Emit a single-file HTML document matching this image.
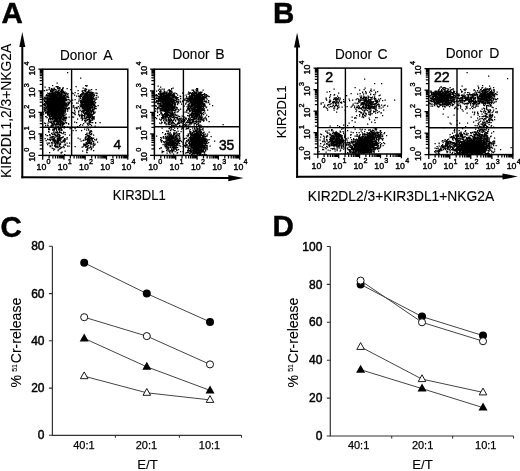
<!DOCTYPE html><html><head><meta charset="utf-8"><style>text{stroke:#000;stroke-width:0.45px}text.big{stroke-width:0.12px}text.num{stroke-width:0.5px}text.tk{stroke-width:0.38px}text.cat{stroke-width:0.25px}html,body{margin:0;padding:0;background:#fff;width:520px;height:471px;overflow:hidden;position:relative}</style></head><body><svg width="520" height="471" viewBox="0 0 520 471" style="position:absolute;left:0;top:0;filter:grayscale(1) blur(0.3px)">
<g font-family='"Liberation Sans", sans-serif' stroke-width="0">
<text x="1.5" y="23.2" font-size="29.5" text-anchor="start" font-weight="bold" fill="#000" >A</text>
<text x="273" y="23" font-size="29.5" text-anchor="start" font-weight="bold" fill="#000" >B</text>
<text x="0.5" y="236.5" font-size="29.5" text-anchor="start" font-weight="bold" fill="#000" >C</text>
<text x="272.5" y="235.8" font-size="29.5" text-anchor="start" font-weight="bold" fill="#000" >D</text>
<line x1="22.3" y1="44" x2="22.3" y2="178.3" stroke="#000" stroke-width="2"/>
<line x1="21.3" y1="177.3" x2="231.6" y2="178.1" stroke="#000" stroke-width="2"/>
<path d="M22.3 32L25.3 47L19.3 47Z" fill="#000"/>
<path d="M243.6 178.1L228.29999999999998 175.0L228.29999999999998 181.2Z" fill="#000"/>
<line x1="297.1" y1="44.5" x2="297.1" y2="177.8" stroke="#000" stroke-width="2"/>
<line x1="296.1" y1="176.8" x2="505.79999999999995" y2="176.5" stroke="#000" stroke-width="2"/>
<path d="M297.1 32.5L300.1 47.5L294.1 47.5Z" fill="#000"/>
<path d="M517.8 176.5L502.49999999999994 173.4L502.49999999999994 179.6Z" fill="#000"/>
<text x="60.0" y="59.8" font-size="14" text-anchor="start" font-weight="normal" fill="#000" textLength="37" lengthAdjust="spacingAndGlyphs" class="big">Donor</text>
<text x="103.2" y="59.8" font-size="14" text-anchor="start" font-weight="normal" fill="#000" class="big">A</text>
<text x="172.5" y="58.9" font-size="14" text-anchor="start" font-weight="normal" fill="#000" textLength="37" lengthAdjust="spacingAndGlyphs" class="big">Donor</text>
<text x="215.2" y="58.9" font-size="14" text-anchor="start" font-weight="normal" fill="#000" class="big">B</text>
<text x="335.0" y="58.8" font-size="14" text-anchor="start" font-weight="normal" fill="#000" textLength="37" lengthAdjust="spacingAndGlyphs" class="big">Donor</text>
<text x="377.5" y="58.8" font-size="14" text-anchor="start" font-weight="normal" fill="#000" class="big">C</text>
<text x="445.7" y="58.3" font-size="14" text-anchor="start" font-weight="normal" fill="#000" textLength="37" lengthAdjust="spacingAndGlyphs" class="big">Donor</text>
<text x="489.2" y="58.3" font-size="14" text-anchor="start" font-weight="normal" fill="#000" class="big">D</text>
<text x="112.8" y="200.2" font-size="13.8" text-anchor="start" font-weight="normal" fill="#000" class="big" textLength="53" lengthAdjust="spacingAndGlyphs">KIR3DL1</text>
<text x="307.7" y="201" font-size="13.8" text-anchor="start" font-weight="normal" fill="#000" class="big" textLength="186.4" lengthAdjust="spacingAndGlyphs">KIR2DL2/3+KIR3DL1+NKG2A</text>
<text class="big" transform="translate(11.3,178) rotate(-90)" font-size="14.1" textLength="134.3" lengthAdjust="spacingAndGlyphs">KIR2DL1,2/3+NKG2A</text>
<text class="big" transform="translate(285.6,138.2) rotate(-90)" font-size="13.6" textLength="52.6" lengthAdjust="spacingAndGlyphs">KIR2DL1</text>
<path d="M48.5 110.5h1.25M51 101.5h1.25M55 98.5h1.25M48.5 107h1.25M57.5 91.5h1.25M67 109h1.25M51.5 108.5h1.25M53 102.5h1.25M59.5 95.5h1.25M58.5 111.5h1.25M62 101h1.25M60 93.5h1.25M54.5 105.5h1.25M49 102.5h1.25M64 118.5h1.25M59.5 108h1.25M50.5 95.5h1.25M48.5 106h1.25M59.5 99h1.25M49.5 104.5h1.25M57 102h1.25M62 102.5h1.25M55 96.5h1.25M56 111h1.25M56 103.5h1.25M57.5 104.5h1.25M58 106h1.25M58.5 98h1.25M57 93.5h1.25M57 95.5h1.25M55 106h1.25M53.5 103.5h1.25M47.5 98h1.25M59 96h1.25M59 94.5h1.25M51 96.5h1.25M55.5 106h1.25M50 102h1.25M63.5 101h1.25M51.5 105.5h1.25M54.5 99h1.25M46.5 108h1.25M52.5 103h1.25M50 111h1.25M59 109h1.25M55 106h1.25M60 109h1.25M57 102.5h1.25M53.5 98.5h1.25M50.5 105h1.25M54.5 91h1.25M54.5 109.5h1.25M54 92h1.25M55 107.5h1.25M56.5 100.5h1.25M64.5 114.5h1.25M55 108h1.25M57.5 107.5h1.25M63 108h1.25M56 99h1.25M51.5 103h1.25M61.5 105h1.25M56 104.5h1.25M55.5 106.5h1.25M50 91h1.25M53.5 96h1.25M63.5 102h1.25M54 94h1.25M57 99.5h1.25M61 108h1.25M51.5 105.5h1.25M61.5 107.5h1.25M56.5 103h1.25M48.5 95h1.25M56.5 113.5h1.25M44.5 107h1.25M58.5 108.5h1.25M51 100h1.25M55.5 97h1.25M49.5 97.5h1.25M55 105h1.25M55.5 103.5h1.25M52 98.5h1.25M61 102.5h1.25M55 108.5h1.25M61.5 110.5h1.25M57.5 102.5h1.25M57 104h1.25M62.5 105h1.25M58.5 103h1.25M62.5 90.5h1.25M57.5 107.5h1.25M49.5 116h1.25M54.5 102h1.25M50 108.5h1.25M56.5 99.5h1.25M56.5 107h1.25M61.5 104.5h1.25M50.5 99.5h1.25M44 98.5h1.25M59 106h1.25M55 101h1.25M63.5 104.5h1.25M60 105.5h1.25M52 112.5h1.25M49.5 96h1.25M53.5 98.5h1.25M52.5 99.5h1.25M60.5 103.5h1.25M57.5 93.5h1.25M51.5 109.5h1.25M49.5 110h1.25M50.5 105h1.25M51.5 104h1.25M51 101.5h1.25M64 100.5h1.25M65.5 100h1.25M49.5 103.5h1.25M53.5 113.5h1.25M60 110h1.25M58.5 118h1.25M59.5 106h1.25M51.5 97.5h1.25M56.5 109h1.25M61 97.5h1.25M58 104h1.25M50 106h1.25M44 104.5h1.25M68 97h1.25M55.5 91.5h1.25M51.5 107.5h1.25M50.5 103h1.25M53.5 100.5h1.25M56.5 106h1.25M61.5 108h1.25M52.5 111.5h1.25M61.5 93.5h1.25M59 108h1.25M60.5 106.5h1.25M49 101.5h1.25M45 102h1.25M65.5 107h1.25M59.5 100h1.25M50.5 96.5h1.25M56 98h1.25M52.5 110h1.25M47.5 95h1.25M53 102.5h1.25M55 94.5h1.25M56.5 102h1.25M57.5 96.5h1.25M56.5 104.5h1.25M52 101.5h1.25M52.5 111h1.25M47 100.5h1.25M52 100.5h1.25M59 93h1.25M51.5 101.5h1.25M49.5 105h1.25M57 98.5h1.25M46.5 112.5h1.25M58 105.5h1.25M56 103h1.25M59.5 103h1.25M52.5 107.5h1.25M56 98.5h1.25M51 110h1.25M58.5 115h1.25M53 98.5h1.25M57.5 111.5h1.25M58.5 105.5h1.25M65 98.5h1.25M49.5 98.5h1.25M54 105h1.25M60.5 105.5h1.25M63 98h1.25M65 98h1.25M61.5 97.5h1.25M57 103.5h1.25M58 107.5h1.25M54.5 102.5h1.25M56.5 95h1.25M52 93.5h1.25M55.5 116.5h1.25M59 98h1.25M52 109h1.25M53 93.5h1.25M50.5 96.5h1.25M50.5 107h1.25M56 94h1.25M53 96h1.25M49.5 94h1.25M64 101h1.25M58.5 108h1.25M53.5 106h1.25M58 104.5h1.25M66.5 104.5h1.25M54.5 107h1.25M64.5 109h1.25M53 98h1.25M51 99h1.25M57.5 108h1.25M44 103h1.25M50 107h1.25M60 98.5h1.25M53.5 97.5h1.25M57.5 93.5h1.25M50 99h1.25M61.5 117.5h1.25M55.5 95.5h1.25M56 98h1.25M58 96.5h1.25M53.5 103h1.25M58 102.5h1.25M62 103.5h1.25M46.5 108.5h1.25M54 99h1.25M63 97h1.25M56 98.5h1.25M62.5 101h1.25M56.5 94.5h1.25M62.5 96.5h1.25M60 109.5h1.25M61.5 114h1.25M49.5 105.5h1.25M56 105.5h1.25M61 103.5h1.25M51.5 102.5h1.25M63 96h1.25M56 97h1.25M61 93h1.25M54 102.5h1.25M56 117h1.25M63.5 97h1.25M66.5 96h1.25M46 94h1.25M56.5 106h1.25M44.5 105.5h1.25M54 107h1.25M53.5 108.5h1.25M58.5 96h1.25M62.5 104.5h1.25M59 110.5h1.25M50.5 102.5h1.25M51.5 97.5h1.25M57 105h1.25M62 111.5h1.25M55.5 98h1.25M71.5 116h1.25M55 97.5h1.25M53.5 104.5h1.25M61 109h1.25M57.5 101.5h1.25M56.5 101h1.25M56 102.5h1.25M58 91.5h1.25M54 101.5h1.25M50 102h1.25M50 99h1.25M54 101.5h1.25M52.5 109.5h1.25M56.5 105h1.25M56.5 99h1.25M51 108h1.25M53.5 92.5h1.25M44.5 104.5h1.25M52 102.5h1.25M53 100.5h1.25M54.5 95.5h1.25M55.5 109h1.25M59 92.5h1.25M49 95h1.25M54.5 108h1.25M57 92.5h1.25M56 108h1.25M53.5 114.5h1.25M52 110h1.25M67.5 95.5h1.25M54 106.5h1.25M71.5 92.5h1.25M58.5 104.5h1.25M53.5 98h1.25M53 101h1.25M49 112.5h1.25M50 100.5h1.25M52 100.5h1.25M56 98.5h1.25M54.5 113.5h1.25M61 101.5h1.25M60 98.5h1.25M56.5 94.5h1.25M50 98h1.25M61.5 104.5h1.25M58 104h1.25M57.5 105.5h1.25M59.5 104h1.25M51 98.5h1.25M61.5 111.5h1.25M58.5 93h1.25M63.5 105h1.25M55 103h1.25M53.5 113.5h1.25M64 96.5h1.25M54.5 105h1.25M62 88.5h1.25M60 113h1.25M54 102.5h1.25M61.5 105h1.25M49 96h1.25M50.5 94.5h1.25M55.5 100h1.25M55.5 107h1.25M64.5 104h1.25M46 111.5h1.25M55 110h1.25M53 104.5h1.25M54.5 102.5h1.25M62 99h1.25M56 104h1.25M53.5 89.5h1.25M57 86h1.25M48 100h1.25M57.5 108h1.25M59.5 106.5h1.25M53.5 110h1.25M54 109.5h1.25M44 97h1.25M52.5 103h1.25M43.5 108h1.25M60.5 107.5h1.25M53 111.5h1.25M52.5 108.5h1.25M55 103h1.25M54.5 103h1.25M61 111.5h1.25M62.5 108.5h1.25M59 105.5h1.25M64 100.5h1.25M52.5 103h1.25M47 101.5h1.25M55 96.5h1.25M52.5 107h1.25M54.5 103.5h1.25M60.5 99h1.25M49.5 102.5h1.25M57.5 92h1.25M58.5 101h1.25M53.5 97.5h1.25M54.5 108.5h1.25M58 108h1.25M53.5 112.5h1.25M62 103h1.25M69 102.5h1.25M50.5 113h1.25M52.5 106h1.25M59.5 94h1.25M56 110h1.25M54 107h1.25M55.5 109h1.25M64.5 96.5h1.25M54 105.5h1.25M52.5 98h1.25M54 101.5h1.25M52 105h1.25M59.5 107.5h1.25M59 110h1.25M48.5 102.5h1.25M56.5 106h1.25M47.5 114.5h1.25M51 104.5h1.25M59 109.5h1.25M52 99.5h1.25M57.5 106.5h1.25M60 102.5h1.25M52 95h1.25M64 95h1.25M59 104.5h1.25M59.5 108.5h1.25M62.5 102.5h1.25M57.5 91.5h1.25M55.5 97.5h1.25M54.5 110.5h1.25M56 109.5h1.25M54.5 105.5h1.25M53.5 88h1.25M52 101.5h1.25M56.5 103h1.25M55 108.5h1.25M58.5 100.5h1.25M60 91h1.25M54 102h1.25M62 100h1.25M48 104h1.25M64 102h1.25M55 102h1.25M56 111h1.25M65.5 106h1.25M55 114h1.25M56 103.5h1.25M54 101h1.25M57 101.5h1.25M57.5 103.5h1.25M58.5 101h1.25M54.5 104.5h1.25M56 103.5h1.25M61.5 96.5h1.25M46 107.5h1.25M54.5 111h1.25M55 96h1.25M66.5 105.5h1.25M53.5 98.5h1.25M58.5 99h1.25M57.5 110h1.25M48.5 101h1.25M58 113h1.25M60 100.5h1.25M63 101h1.25M54.5 105.5h1.25M50 121.5h1.25M61.5 104.5h1.25M52.5 96h1.25M57.5 107h1.25M53.5 102h1.25M58.5 102.5h1.25M46.5 107h1.25M57 107.5h1.25M52 90.5h1.25M49.5 105h1.25M66 117h1.25M57 94.5h1.25M54 105.5h1.25M57.5 103.5h1.25M62 97.5h1.25M44.5 98h1.25M49.5 116.5h1.25M54.5 94.5h1.25M58.5 109h1.25M56 104h1.25M60.5 106h1.25M52 106.5h1.25M60 105h1.25M60 106.5h1.25M54.5 102h1.25M58.5 99.5h1.25M61.5 110.5h1.25M45.5 102.5h1.25M52 99h1.25M56 102h1.25M58.5 105h1.25M57.5 98.5h1.25M54 112h1.25M43 113.5h1.25M52.5 110h1.25M59.5 104h1.25M60.5 98h1.25M52.5 99h1.25M58 106h1.25M55 101.5h1.25M54 103.5h1.25M51 102.5h1.25M55 100h1.25M52.5 112h1.25M52.5 105.5h1.25M62.5 107.5h1.25M55.5 109h1.25M48.5 95.5h1.25M53.5 101.5h1.25M55 114.5h1.25M64 103h1.25M57 97.5h1.25M57 95h1.25M62.5 100h1.25M58.5 95h1.25M62.5 106.5h1.25M65.5 103.5h1.25M47.5 98.5h1.25M49 112.5h1.25M52.5 98.5h1.25M58.5 104.5h1.25M58 100h1.25M45.5 95h1.25M44.5 110.5h1.25M60 101h1.25M58.5 107h1.25M58.5 106h1.25M60 103.5h1.25M44.5 86.5h1.25M62 106.5h1.25M43 104h1.25M51 99.5h1.25M55 108h1.25M61 110.5h1.25M64 105h1.25M56.5 99h1.25M58 101.5h1.25M49.5 110h1.25M59 87h1.25M46 101.5h1.25M49 110.5h1.25M56.5 106.5h1.25M60.5 111h1.25M54 107h1.25M57 108h1.25M58.5 111.5h1.25M58.5 100h1.25M56 96h1.25M57 112h1.25M52.5 93h1.25M55 100h1.25M55.5 99.5h1.25M56 97h1.25M63.5 101.5h1.25M58 107.5h1.25M55 106h1.25M54.5 100.5h1.25M54.5 106h1.25M49 97.5h1.25M51.5 99.5h1.25M61.5 103h1.25M54 104h1.25M61 98.5h1.25M61 89h1.25M51 112h1.25M63.5 104.5h1.25M53.5 108h1.25M53.5 112.5h1.25M61.5 108h1.25M51.5 109h1.25M54.5 102h1.25M53.5 102.5h1.25M58 108.5h1.25M60 124h1.25M54 110.5h1.25M52.5 102h1.25M50 110.5h1.25M57 104h1.25M55 109h1.25M53.5 106h1.25M68.5 102.5h1.25M52.5 97.5h1.25M60 104h1.25M52 98.5h1.25M56 97.5h1.25M66.5 102.5h1.25M55 103h1.25M47 94.5h1.25M54 103.5h1.25M49.5 113.5h1.25M58 111.5h1.25M62 102h1.25M68 104h1.25M46.5 89.5h1.25M56 109h1.25M56.5 114h1.25M54.5 107h1.25M59.5 97.5h1.25M57.5 105.5h1.25M61.5 111h1.25M61 99h1.25M59.5 110h1.25M56 108h1.25M60 110.5h1.25M56.5 106.5h1.25M57 104h1.25M53 101.5h1.25M50.5 102.5h1.25M59.5 107h1.25M59.5 103h1.25M63 100.5h1.25M59.5 106h1.25M52 99h1.25M59.5 103.5h1.25M57 122h1.25M58.5 104h1.25M59.5 100h1.25M55 106h1.25M52 103.5h1.25M55 104h1.25M47 114h1.25M55.5 107h1.25M50.5 95.5h1.25M56 101.5h1.25M59 98h1.25M51 105.5h1.25M59.5 109h1.25M55.5 105h1.25M52 111.5h1.25M61.5 110h1.25M48 108.5h1.25M52 106.5h1.25M58 111h1.25M55 101.5h1.25M51 96.5h1.25M58.5 98h1.25M59 101h1.25M53 109h1.25M60 97.5h1.25M55 103.5h1.25M59 99h1.25M53.5 102.5h1.25M59 108.5h1.25M53 114h1.25M58 98.5h1.25M48 100.5h1.25M44 104.5h1.25M58.5 111h1.25M58 93h1.25M54.5 107.5h1.25M45 98.5h1.25M59 103.5h1.25M45.5 100.5h1.25M56 115.5h1.25M53.5 98h1.25M57 105.5h1.25M58.5 112h1.25M55.5 95h1.25M56 103.5h1.25M60.5 108.5h1.25M52 108h1.25M61 102h1.25M60.5 104.5h1.25M56.5 102.5h1.25M60 120.5h1.25M57 96.5h1.25M54.5 100h1.25M57.5 102.5h1.25M68.5 108h1.25M65 99h1.25M54.5 115.5h1.25M47.5 104h1.25M48 112.5h1.25M48.5 101.5h1.25M55 93h1.25M68 102.5h1.25M64 99h1.25M48.5 104.5h1.25M56.5 121h1.25M50.5 94h1.25M52 105h1.25M58.5 99h1.25M54 106.5h1.25M61 99.5h1.25M56.5 86.5h1.25M51 106h1.25M55.5 102h1.25M64 101.5h1.25M50 104.5h1.25M56.5 96.5h1.25M60.5 113.5h1.25M52.5 98h1.25M55.5 110.5h1.25M53 99h1.25M52.5 104.5h1.25M57 102h1.25M61.5 116.5h1.25M53 109.5h1.25M57 121h1.25M51.5 101h1.25M56 94.5h1.25M54.5 107.5h1.25M48.5 104h1.25M64.5 99.5h1.25M51 88h1.25M55 93.5h1.25M58.5 113h1.25M58.5 98.5h1.25M59 100.5h1.25M50 100h1.25M57 101h1.25M58.5 116h1.25M59 108h1.25M52.5 111h1.25M57.5 109.5h1.25M52 104.5h1.25M44 101h1.25M51.5 97h1.25M64.5 94h1.25M55 102.5h1.25M58.5 109h1.25M47.5 100h1.25M52 107.5h1.25M60.5 100.5h1.25M53 97h1.25M57.5 113h1.25M57.5 99h1.25M51.5 99h1.25M47.5 113.5h1.25M56 101h1.25M67 104.5h1.25M63 104.5h1.25M61 103.5h1.25M53.5 105.5h1.25M59 109.5h1.25M56.5 101.5h1.25M53.5 105h1.25M53 101h1.25M58.5 106.5h1.25M58 98.5h1.25M48.5 104.5h1.25M56 101h1.25M56.5 108h1.25M54.5 105.5h1.25M50.5 101.5h1.25M51.5 94.5h1.25M57.5 86h1.25M55 107.5h1.25M57.5 93.5h1.25M56.5 92h1.25M51 111.5h1.25M56.5 110h1.25M50 90.5h1.25M52 110.5h1.25M60 109.5h1.25M55 102.5h1.25M54.5 120.5h1.25M56 113.5h1.25M54.5 111.5h1.25M50 100h1.25M57.5 99.5h1.25M53.5 102h1.25M53 112.5h1.25M61 94.5h1.25M64 103h1.25M55.5 102h1.25M60 107.5h1.25M53 103.5h1.25M49 114.5h1.25M51.5 98h1.25M52 104h1.25M59.5 101h1.25M56 101h1.25M62 104.5h1.25M47 112h1.25M57.5 115h1.25M52.5 100h1.25M55 94.5h1.25M54 110.5h1.25M59 88.5h1.25M62 105.5h1.25M60 103.5h1.25M56.5 103.5h1.25M56 97h1.25M61 104.5h1.25M57.5 105.5h1.25M54 103h1.25M49 105h1.25M57 102h1.25M47 111h1.25M55 103h1.25M54 99.5h1.25M53.5 96.5h1.25M53 115.5h1.25M61.5 115h1.25M52.5 92h1.25M49 87.5h1.25M61 110.5h1.25M56 105.5h1.25M57.5 102.5h1.25M59.5 97h1.25M53.5 102.5h1.25M47 97h1.25M58 105.5h1.25M43.5 108.5h1.25M57.5 108h1.25M55.5 106.5h1.25M49 102h1.25M50.5 100h1.25M61.5 113h1.25M56 100.5h1.25M59.5 106h1.25M65.5 107h1.25M44 103.5h1.25M54 98.5h1.25M56.5 103.5h1.25M54 112.5h1.25M57.5 105.5h1.25M56.5 110.5h1.25M50 110.5h1.25M54.5 112h1.25M63 106h1.25M53.5 105h1.25M57.5 94.5h1.25M54 99h1.25M62.5 113.5h1.25M52 100h1.25M49 105h1.25M59.5 114h1.25M49.5 109h1.25M55 99h1.25M54 98.5h1.25M58 103h1.25M61.5 100h1.25M46.5 97.5h1.25M57.5 94.5h1.25M52 106.5h1.25M49 108h1.25M57.5 99.5h1.25M55.5 100h1.25M53.5 101h1.25M55.5 102.5h1.25M52 97.5h1.25M66 96.5h1.25M55 110.5h1.25M60.5 99h1.25M65.5 113.5h1.25M54 95.5h1.25M59 102h1.25M54 98.5h1.25M52.5 104h1.25M60 91h1.25M44 109h1.25M51.5 107.5h1.25M56 110.5h1.25M60 101.5h1.25M55 105h1.25M59.5 99.5h1.25M48 104h1.25M55.5 102h1.25M50.5 107h1.25M47 100h1.25M62 96.5h1.25M57.5 106h1.25M58 93h1.25M60.5 104h1.25M58 105h1.25M56 110.5h1.25M63 92h1.25M52 102h1.25M45 112h1.25M52 106.5h1.25M56.5 102h1.25M50.5 101h1.25M56 108h1.25M54.5 101h1.25M54.5 111h1.25M57 99h1.25M49.5 101h1.25M51 100.5h1.25M62.5 107.5h1.25M57 105.5h1.25M64.5 96.5h1.25M58 102h1.25M56.5 103.5h1.25M54 106.5h1.25M45 105h1.25M59 97.5h1.25M51 114.5h1.25M51 101h1.25M52 99.5h1.25M52.5 90.5h1.25M67.5 99h1.25M57.5 102.5h1.25M62.5 107.5h1.25M61.5 110h1.25M60 103.5h1.25M60 93.5h1.25M60 107.5h1.25M57 95h1.25M62.5 99h1.25M59 92h1.25M55 99.5h1.25M52 99h1.25M64.5 103h1.25M57.5 116h1.25M48.5 112.5h1.25M54 99.5h1.25M53.5 92.5h1.25M48 96.5h1.25M53 107.5h1.25M61 101h1.25M57.5 105.5h1.25M54.5 104.5h1.25M52.5 106.5h1.25M54.5 103.5h1.25M57 104h1.25M52 95h1.25M55.5 99.5h1.25M53 102.5h1.25M52 106h1.25M57.5 98h1.25M57.5 97.5h1.25M59 107h1.25M55.5 108.5h1.25M60.5 106h1.25M46.5 104h1.25M56.5 108h1.25M50.5 107.5h1.25M57.5 105.5h1.25M49.5 98h1.25M61 108h1.25M55 109.5h1.25M57 100.5h1.25M47.5 109h1.25M55 104.5h1.25M46.5 100h1.25M57 101.5h1.25M52 96.5h1.25M56.5 101h1.25M54 101.5h1.25M52.5 101h1.25M52.5 103h1.25M48.5 96.5h1.25M55.5 102h1.25M56.5 115h1.25M59 109.5h1.25M57.5 102.5h1.25M51.5 92h1.25M48.5 89h1.25M50 93.5h1.25M50.5 103h1.25M53.5 108h1.25M60 109h1.25M59.5 104.5h1.25M53 105.5h1.25M54 102h1.25M57.5 96.5h1.25M47.5 105h1.25M64.5 109.5h1.25M74 94.5h1.25M52.5 89.5h1.25M51 114h1.25M63.5 97h1.25M54 98h1.25M49 101.5h1.25M54 103.5h1.25M57 107h1.25M62.5 102.5h1.25M54.5 103h1.25M57.5 102h1.25M50.5 100h1.25M59 97h1.25M59.5 94.5h1.25M58.5 106.5h1.25M54.5 103h1.25M54.5 113h1.25M53.5 98.5h1.25M57.5 109.5h1.25M57 102h1.25M60.5 98.5h1.25M51.5 95.5h1.25M61.5 90h1.25M49 104.5h1.25M57.5 113.5h1.25M57.5 100h1.25M62.5 109.5h1.25M61 109.5h1.25M58 94.5h1.25M50.5 114.5h1.25M55.5 92h1.25M56 108.5h1.25M57.5 103h1.25M44 103.5h1.25M55 113h1.25M55.5 102.5h1.25M53.5 102h1.25M57 100h1.25M51 95.5h1.25M56 101h1.25M54 94h1.25M51.5 91.5h1.25M60 110h1.25M57.5 102.5h1.25M57.5 94h1.25M49 110h1.25M50.5 102.5h1.25M52 88.5h1.25M52 108h1.25M62 88h1.25M47.5 99.5h1.25M60.5 110h1.25M63.5 113h1.25M53.5 97h1.25M60 101.5h1.25M55.5 101h1.25M53.5 108.5h1.25M50.5 92.5h1.25M52 103.5h1.25M54 102h1.25M45.5 97.5h1.25M60.5 102h1.25M52 109.5h1.25M52.5 107.5h1.25M56.5 105h1.25M60.5 116h1.25M61.5 97.5h1.25M50 101h1.25M54.5 107h1.25M55.5 104h1.25M47 102.5h1.25M58 113h1.25M59 103.5h1.25M49.5 102.5h1.25M55.5 102h1.25M56 105.5h1.25M57.5 116h1.25M50.5 93.5h1.25M57 95.5h1.25M54 102h1.25M51 107.5h1.25M58.5 103.5h1.25M58 108h1.25M53.5 106h1.25M56 102.5h1.25M53 113h1.25M57 94h1.25M57.5 87.5h1.25M56.5 107h1.25M62.5 104h1.25M51.5 114h1.25M60.5 110.5h1.25M54 106.5h1.25M46.5 105.5h1.25M44.5 96.5h1.25M48 109.5h1.25M60 99h1.25M61.5 103h1.25M45.5 100.5h1.25M46.5 103h1.25M57 98h1.25M59 109h1.25M50.5 106h1.25M54.5 101h1.25M63.5 98.5h1.25M53.5 102h1.25M58 107h1.25M50.5 111h1.25M64.5 114.5h1.25M56 99.5h1.25M50 104.5h1.25M55 102.5h1.25M52 89.5h1.25M54 101.5h1.25M53.5 94h1.25M54 102h1.25M49.5 106.5h1.25M55 103.5h1.25M57 101h1.25M55 106h1.25M59 108h1.25M54.5 107.5h1.25M61 94.5h1.25M53 102.5h1.25M55.5 113.5h1.25M61 102h1.25M54.5 94.5h1.25M50.5 111h1.25M46.5 106.5h1.25M52 101h1.25M55 114h1.25M57 106h1.25M60.5 89.5h1.25M64.5 93h1.25M52 107h1.25M49 92.5h1.25M61 101h1.25M60 106h1.25M54.5 113h1.25M54 115h1.25M51 97h1.25M52 104.5h1.25M50 98.5h1.25M62.5 104h1.25M61.5 105h1.25M52.5 98.5h1.25M56.5 103.5h1.25M53 99.5h1.25M63 109.5h1.25M57 101h1.25M53.5 115h1.25M52.5 117h1.25M52 94h1.25M65.5 102.5h1.25M63 105.5h1.25M54.5 108.5h1.25M54 105.5h1.25M55 92.5h1.25M57.5 100h1.25M55 105.5h1.25M48.5 106h1.25M58.5 114.5h1.25M59.5 105h1.25M52.5 103h1.25M48.5 105.5h1.25M54.5 101h1.25M55.5 105.5h1.25M56.5 96h1.25M62 103h1.25M57 103h1.25M50.5 104.5h1.25M53.5 98h1.25M56 107.5h1.25M58.5 104h1.25M52.5 101h1.25M54.5 94.5h1.25M59.5 103.5h1.25M49 111.5h1.25M65 95h1.25M54.5 98h1.25M59 94.5h1.25M58 105h1.25M61 91.5h1.25M51.5 101.5h1.25M60 103.5h1.25M59 105.5h1.25M51 102h1.25M53.5 101h1.25M51 107.5h1.25M57 91.5h1.25M59 99.5h1.25M48 110h1.25M55 105h1.25M54.5 102.5h1.25M46.5 107.5h1.25M51.5 103h1.25M55 97h1.25M49 102h1.25M61.5 99h1.25M52.5 103.5h1.25M52.5 110.5h1.25M57.5 117.5h1.25M56.5 116h1.25M52.5 104h1.25M50 100.5h1.25M54 106.5h1.25M62 101.5h1.25M48.5 103h1.25M54.5 100h1.25M59.5 109.5h1.25M52 99h1.25M59.5 97.5h1.25M60 107h1.25M58.5 107h1.25M55 109.5h1.25M61 105.5h1.25M55.5 111h1.25M63 99.5h1.25M60 103.5h1.25M67.5 101.5h1.25M52.5 98h1.25M60.5 97h1.25M59 100h1.25M62.5 112.5h1.25M61.5 91.5h1.25M48.5 87h1.25M69 99.5h1.25M53.5 103.5h1.25M58.5 101.5h1.25M56 103h1.25M49 114h1.25M64.5 103.5h1.25M55 114.5h1.25M68 103.5h1.25M59 101h1.25M57.5 88h1.25M44.5 106h1.25M55 105.5h1.25M56 107h1.25M57 102.5h1.25M58 99.5h1.25M63 97.5h1.25M54 109h1.25M54 109h1.25M63 108h1.25M53.5 115h1.25M58 97.5h1.25M66 104.5h1.25M59 109h1.25M53.5 109h1.25M50 97.5h1.25M54 116.5h1.25M59 110.5h1.25M54 107h1.25M45.5 102h1.25M58 100h1.25M46 94h1.25M59 111.5h1.25M54 113h1.25M49.5 107.5h1.25M57.5 110h1.25M48.5 109.5h1.25M56.5 98.5h1.25M53.5 102h1.25M57.5 98.5h1.25M51.5 104h1.25M55.5 106.5h1.25M60.5 92h1.25M55.5 104.5h1.25M56 97h1.25M59.5 113.5h1.25M55 98.5h1.25M59.5 103.5h1.25M56 104.5h1.25M53.5 103h1.25M52 91.5h1.25M61 105h1.25M55 111h1.25M55 110h1.25M59.5 101.5h1.25M49.5 106h1.25M56.5 109h1.25M48 102.5h1.25M56.5 105h1.25M56 105h1.25M44 101h1.25M52 93.5h1.25M56 100.5h1.25M49.5 94.5h1.25M57 87.5h1.25M55 96.5h1.25M56 114.5h1.25M60.5 102.5h1.25M63 114.5h1.25M60.5 114.5h1.25M56.5 107h1.25M55 101h1.25M55.5 98.5h1.25M55 116.5h1.25M59 102h1.25M64.5 112h1.25M50 99h1.25M64.5 103.5h1.25M56.5 100h1.25M50 110h1.25M51.5 106.5h1.25M65 106.5h1.25M54.5 107h1.25M58.5 100.5h1.25M57 96h1.25M47 100h1.25M46.5 99.5h1.25M55 104h1.25M65 97.5h1.25M53 100.5h1.25M50.5 115.5h1.25M51.5 101.5h1.25M54.5 118h1.25M54 98.5h1.25M62 99h1.25M45 110h1.25M60 94h1.25M49 102.5h1.25M50.5 93.5h1.25M49.5 114h1.25M61 96.5h1.25M54.5 103.5h1.25M53.5 102.5h1.25M64.5 99h1.25M51.5 102.5h1.25M52 100h1.25M53 96.5h1.25M61.5 98.5h1.25M62 97.5h1.25M50.5 104h1.25M54 108h1.25M58.5 117h1.25M55 101.5h1.25M55 118.5h1.25M43.5 107h1.25M54 102.5h1.25M61 102.5h1.25M59.5 110.5h1.25M61.5 91h1.25M52 94.5h1.25M51 101.5h1.25M66 98.5h1.25M53.5 101.5h1.25M63 99h1.25M57.5 107.5h1.25M58 90h1.25M48.5 106.5h1.25M46 101h1.25M47 105h1.25M54.5 92.5h1.25M53.5 95.5h1.25M52 110h1.25M56.5 104.5h1.25M63 103h1.25M61.5 104.5h1.25M56.5 100h1.25M50.5 96h1.25M50 105.5h1.25M57 97h1.25M61 98.5h1.25M53 94h1.25M50.5 107.5h1.25M57 98.5h1.25M61 102h1.25M55.5 109h1.25M57.5 100.5h1.25M49.5 110h1.25M43 98.5h1.25M46 98.5h1.25M59.5 100.5h1.25M53 102h1.25M65 110.5h1.25M56 98.5h1.25M53 104.5h1.25M53.5 101.5h1.25M49.5 94h1.25M49.5 104h1.25M50.5 118h1.25M58 106.5h1.25M60 96h1.25M49 101h1.25M58 106h1.25M63.5 111h1.25M60.5 109.5h1.25M56.5 108h1.25M54 100.5h1.25M60.5 93h1.25M62.5 114.5h1.25M53 108h1.25M56.5 97.5h1.25M57.5 106.5h1.25M61 101.5h1.25M56.5 100h1.25M61 103h1.25M60.5 99.5h1.25M56.5 98h1.25M52 110h1.25M55 103h1.25M59.5 98.5h1.25M65.5 99h1.25M54 116.5h1.25M47 114h1.25M58 106.5h1.25M50.5 104.5h1.25M49.5 109.5h1.25M54.5 99.5h1.25M53.5 102.5h1.25M60.5 105.5h1.25M52 98h1.25M50.5 108h1.25M58 96.5h1.25M47.5 103h1.25M53 106.5h1.25M55 105.5h1.25M59.5 109.5h1.25M54.5 107.5h1.25M53 96h1.25M56.5 110.5h1.25M62.5 102.5h1.25M47 105h1.25M54.5 107h1.25M61 100.5h1.25M52 100.5h1.25M52 97h1.25M56.5 98.5h1.25M54 101h1.25M52.5 106.5h1.25M53 102.5h1.25M59.5 102h1.25M48 100h1.25M53 106.5h1.25M63.5 104h1.25M54.5 111.5h1.25M52 104.5h1.25M58 102.5h1.25M54.5 104h1.25M63 106.5h1.25M52.5 104.5h1.25M60 113.5h1.25M59.5 104h1.25M62.5 108h1.25M56 99h1.25M56 108.5h1.25M50 93.5h1.25M58 93.5h1.25M49 101.5h1.25M54 103h1.25M56 106h1.25M55 98h1.25M59 106.5h1.25M55 97.5h1.25M57.5 102h1.25M48.5 108.5h1.25M48 100h1.25M64 98h1.25M56 109h1.25M55 94h1.25M52.5 102h1.25M47.5 111h1.25M56.5 106.5h1.25M56.5 104.5h1.25M53.5 93.5h1.25M58.5 102.5h1.25M63 95.5h1.25M56 115.5h1.25M48.5 95.5h1.25M56 112.5h1.25M49 102.5h1.25M54 99h1.25M53.5 109.5h1.25M55.5 94.5h1.25M52 103h1.25M48 98h1.25M53 89.5h1.25M64 92.5h1.25M55 101h1.25M52 109.5h1.25M55 97.5h1.25M60.5 105.5h1.25M49.5 93h1.25M59.5 101.5h1.25M47.5 105.5h1.25M47.5 98h1.25M51 90.5h1.25M58.5 123.5h1.25M58 104.5h1.25M53.5 102h1.25M56.5 106h1.25M52.5 102.5h1.25M54 105.5h1.25M59.5 109h1.25M53 99.5h1.25M58.5 101h1.25M54 105.5h1.25M57 110.5h1.25M49 109.5h1.25M53 107h1.25M49 102h1.25M52 113.5h1.25M50.5 109.5h1.25M51.5 96h1.25M57 109h1.25M55 106.5h1.25M56.5 102.5h1.25M62.5 103h1.25M59.5 96h1.25M54.5 108.5h1.25M53 90h1.25M59 106.5h1.25M54 103.5h1.25M54 105.5h1.25M61 105h1.25M55 100h1.25M54.5 100h1.25M60.5 96.5h1.25M52.5 105h1.25M57 104.5h1.25M53.5 104.5h1.25M48.5 94h1.25M49 105.5h1.25M62.5 100.5h1.25M53 101.5h1.25M64.5 104.5h1.25M56 100h1.25M58 111h1.25M56.5 98.5h1.25M62.5 103h1.25M64.5 97h1.25M55 105h1.25M47 104h1.25M59 102.5h1.25M58 104.5h1.25M51.5 107.5h1.25M52 101.5h1.25M52 107h1.25M53.5 100.5h1.25M45 101.5h1.25M60.5 90.5h1.25M57.5 103h1.25M47 100.5h1.25M60.5 103h1.25M57.5 109.5h1.25M54 108.5h1.25M49.5 98h1.25M63 111h1.25M60.5 94h1.25M54.5 98h1.25M65 95h1.25M49.5 99.5h1.25M57.5 99.5h1.25M54 105h1.25M56 92h1.25M49.5 113h1.25M56 114h1.25M63 110h1.25M56 112.5h1.25M53.5 116.5h1.25M58.5 107h1.25M54 100h1.25M54.5 100.5h1.25M51.5 97h1.25M57 110.5h1.25M65.5 108h1.25M55.5 107.5h1.25M64.5 104.5h1.25M61 106h1.25M57 100.5h1.25M59.5 99h1.25M51 106h1.25M61 109.5h1.25M60.5 102h1.25M55.5 110.5h1.25M66.5 88h1.25M62 105h1.25M56 99.5h1.25M53 96.5h1.25M57.5 98h1.25M55 95h1.25M62 107.5h1.25M50.5 106.5h1.25M54 98.5h1.25M56.5 108.5h1.25M63.5 105h1.25M62 107.5h1.25M59.5 109.5h1.25M49.5 101h1.25M63.5 95.5h1.25M52 115h1.25M51 104.5h1.25M57.5 102h1.25M60.5 108.5h1.25M52.5 114h1.25M52 100.5h1.25M55 104.5h1.25M50.5 104.5h1.25M45 100.5h1.25M51 99h1.25M55 104.5h1.25M52 103h1.25M48 100.5h1.25M60 99h1.25M54 102.5h1.25M59.5 105h1.25M54.5 97h1.25M56.5 86h1.25M57.5 98.5h1.25M58.5 102.5h1.25M62 99h1.25M45.5 103h1.25M53 102h1.25M61 97.5h1.25M58.5 108h1.25M60.5 91h1.25M56 98.5h1.25M54 98h1.25M53.5 108.5h1.25M63.5 107h1.25M49 110h1.25M49 100.5h1.25M61 99.5h1.25M59 101h1.25M49.5 104h1.25M52.5 113h1.25M64.5 112h1.25M50.5 114h1.25M57 106h1.25M56.5 99.5h1.25M56 108h1.25M63 106h1.25M55.5 100h1.25M54 112.5h1.25M58.5 104h1.25M47 92.5h1.25M58.5 106.5h1.25M61 104h1.25M52 92.5h1.25M51 89h1.25M57 105.5h1.25M62 92h1.25M48.5 106.5h1.25M57 91h1.25M52 103.5h1.25M53.5 105h1.25M55.5 99.5h1.25M57 102h1.25M61 94h1.25M54 98.5h1.25M54 105h1.25M58.5 90h1.25M61 106h1.25M58 103h1.25M60 105h1.25M46.5 98.5h1.25M54 100.5h1.25M53 106.5h1.25M49.5 98h1.25M50.5 102.5h1.25M57.5 97.5h1.25M57 99.5h1.25M62 89.5h1.25M55 109.5h1.25M53.5 96h1.25M51 106h1.25M52.5 109h1.25M55.5 99.5h1.25M53 105.5h1.25M60.5 98h1.25M49.5 96h1.25M57.5 113.5h1.25M52.5 107h1.25M53.5 108.5h1.25M48 106.5h1.25M49 97.5h1.25M57 101.5h1.25M55 106h1.25M56.5 112h1.25M59 97.5h1.25M55 99.5h1.25M53.5 113.5h1.25M51.5 110.5h1.25M63 119.5h1.25M55.5 104.5h1.25M57 100.5h1.25M64.5 114.5h1.25M44 101h1.25M61.5 96.5h1.25M52 103h1.25M55.5 102h1.25M54.5 114h1.25M44 100h1.25M49.5 104.5h1.25M53 106h1.25M55.5 117h1.25M49 100h1.25M60 100.5h1.25M56 93.5h1.25M59 102h1.25M58 97.5h1.25M52.5 97.5h1.25M63.5 92h1.25M57.5 104.5h1.25M61.5 104.5h1.25M50 106h1.25M46.5 109h1.25M54.5 98h1.25M52.5 106.5h1.25M47 113h1.25M51.5 112h1.25M56 114.5h1.25M49 108h1.25M55 99h1.25M59.5 101.5h1.25M51.5 101.5h1.25M51.5 101.5h1.25M55 109.5h1.25M55 98h1.25M59 100.5h1.25M50.5 95.5h1.25M64 102h1.25M63.5 96.5h1.25M50 113h1.25M54 101.5h1.25M54 96.5h1.25M60.5 95h1.25M59 96h1.25M68.5 107h1.25M61 92.5h1.25M57 98.5h1.25M50.5 97.5h1.25M59.5 103h1.25M52.5 99h1.25M52 99.5h1.25M54 95.5h1.25M50.5 89h1.25M55 106h1.25M52.5 111h1.25M51.5 103h1.25M61 104h1.25M51 105h1.25M53 109.5h1.25M59 101.5h1.25M58 113h1.25M61 108h1.25M54.5 99h1.25M51.5 109h1.25M50 105h1.25M63.5 93h1.25M57 96.5h1.25M54.5 106h1.25M50 94.5h1.25M53 104h1.25M53 97h1.25M58.5 96h1.25M48 103.5h1.25M66 99.5h1.25M55 96.5h1.25M52 96h1.25M56.5 98.5h1.25M51 108.5h1.25M48 108.5h1.25M54.5 97h1.25M55 101h1.25M57 101.5h1.25M65 109h1.25M61 95.5h1.25M53.5 110h1.25M58.5 103h1.25M55 109h1.25M45.5 97.5h1.25M48.5 110h1.25M48.5 101h1.25M62 101h1.25M57 103h1.25M59 116h1.25M49.5 102.5h1.25M63.5 117.5h1.25M54.5 111.5h1.25M59 106.5h1.25M48 93h1.25M56 102h1.25M55 95.5h1.25M62.5 101.5h1.25M69 101.5h1.25M57.5 107.5h1.25M53.5 97h1.25M52.5 103h1.25M53 115h1.25M53 107.5h1.25M59.5 104h1.25M50 106h1.25M60 104h1.25M55.5 90h1.25M50 102h1.25M56.5 107.5h1.25M54 104h1.25M50.5 107h1.25M59 102.5h1.25M60.5 101h1.25M53 101h1.25M65.5 93h1.25M56.5 101h1.25M56 94h1.25M59 107h1.25M54 100.5h1.25M56 109h1.25M48 111.5h1.25M54 108h1.25M51.5 115h1.25M57 114h1.25M52.5 99h1.25M61.5 107.5h1.25M57.5 110.5h1.25M58 101h1.25M46 89.5h1.25M59 106.5h1.25M51 106.5h1.25M54.5 103.5h1.25M60.5 93.5h1.25M57.5 106.5h1.25M55 104.5h1.25M50 104h1.25M59 108h1.25M52.5 108h1.25M57.5 107.5h1.25M55.5 107h1.25M57 118h1.25M54 110h1.25M55.5 94h1.25M58 110.5h1.25M59.5 108h1.25M51.5 105h1.25M48.5 114h1.25M63.5 97h1.25M53.5 96h1.25M52 100.5h1.25M50 100.5h1.25M59 101.5h1.25M59.5 102h1.25M56 95.5h1.25M60.5 96.5h1.25M54 95.5h1.25M58 97h1.25M58.5 115h1.25M57.5 89.5h1.25M60.5 104.5h1.25M59 106h1.25M61.5 109.5h1.25M55.5 95.5h1.25M55.5 108h1.25M46.5 104h1.25M46.5 110h1.25M65 108.5h1.25M53.5 108h1.25M62.5 113.5h1.25M63 110h1.25M51 103h1.25M58 103.5h1.25M46 102.5h1.25M52 104.5h1.25M57.5 94.5h1.25M52 104.5h1.25M50.5 103h1.25M51.5 99h1.25M60 102.5h1.25M53 112.5h1.25M54 103h1.25M56 121.5h1.25M59 108.5h1.25M54 108.5h1.25M61.5 96h1.25M58 113.5h1.25M65 105h1.25M67.5 99h1.25M61 106.5h1.25M50.5 109.5h1.25M49.5 99.5h1.25M55.5 96h1.25M62 100.5h1.25M49.5 105h1.25M56 97h1.25M53 109h1.25M60 94h1.25M61 109.5h1.25M61.5 100.5h1.25M52 103h1.25M52.5 102h1.25M53 102h1.25M53.5 103.5h1.25M56.5 102h1.25M53 113h1.25M60.5 106.5h1.25M51.5 107.5h1.25M55 107h1.25M57 119h1.25M56 97.5h1.25M61.5 110.5h1.25M62.5 87.5h1.25M51 98.5h1.25M47.5 104h1.25M59 110h1.25M60.5 103.5h1.25M63.5 105h1.25M52 105h1.25M53.5 101h1.25M62.5 98.5h1.25M48.5 104.5h1.25M59 102.5h1.25M55.5 99.5h1.25M48.5 98.5h1.25M50 110.5h1.25M54 111.5h1.25M54.5 97.5h1.25M56.5 104h1.25M62 90.5h1.25M53 105.5h1.25M51.5 103.5h1.25M54 111.5h1.25M62 90.5h1.25M47.5 98h1.25M55 102h1.25M53 106.5h1.25M60 103.5h1.25M54 103h1.25M51 108h1.25M59.5 97h1.25M63 102.5h1.25M59.5 103h1.25M54.5 107h1.25M50.5 101.5h1.25M49.5 106h1.25M54.5 101h1.25M52.5 107h1.25M57 101.5h1.25M53 114h1.25M63 96h1.25M61.5 106h1.25M57 105.5h1.25M48.5 118h1.25M66 103h1.25M55.5 104h1.25M52 106.5h1.25M55.5 96.5h1.25M53 99h1.25M52.5 101h1.25M58.5 100.5h1.25M47 111.5h1.25M52.5 111.5h1.25M56.5 106h1.25M51 103.5h1.25M53.5 102.5h1.25M57.5 100.5h1.25M59.5 94h1.25M50 105.5h1.25M58 109.5h1.25M63.5 105.5h1.25M59 104.5h1.25M56 102.5h1.25M56 99.5h1.25M54.5 108h1.25M58 110h1.25M53 101h1.25M57.5 98h1.25M51 106.5h1.25M54 108h1.25M56 100h1.25M50 110h1.25M55 97.5h1.25M47.5 95h1.25M53 110h1.25M50.5 104.5h1.25M56.5 82.5h1.25M48.5 107.5h1.25M45 109.5h1.25M55 92.5h1.25M64.5 101.5h1.25M63 103.5h1.25M51 109h1.25M64 110h1.25M49 106h1.25M49 99h1.25M62 93.5h1.25M67.5 93h1.25M48.5 107h1.25M54 101.5h1.25M50 107h1.25M56 102h1.25M51 93h1.25M55 89h1.25M51.5 106h1.25M58.5 100h1.25M59.5 102.5h1.25M61.5 108.5h1.25M46.5 101h1.25M52.5 112h1.25M60.5 103h1.25M58 108h1.25M51.5 101.5h1.25M54.5 100h1.25M53.5 104h1.25M48.5 95.5h1.25M59 111.5h1.25M64.5 91.5h1.25M57 97h1.25M52 101h1.25M57 106h1.25M60.5 103h1.25M46.5 96.5h1.25M51 108.5h1.25M64 95.5h1.25M57.5 100.5h1.25M58 101h1.25M49 98h1.25M51.5 111h1.25M51 105.5h1.25M50.5 98h1.25M56 98.5h1.25M65 110h1.25M49 105.5h1.25M62.5 95h1.25M52.5 111h1.25M50.5 106h1.25M54.5 103h1.25M49.5 101.5h1.25M52.5 113h1.25M58 103h1.25M54.5 106.5h1.25M46.5 96h1.25M50 97h1.25M46.5 105.5h1.25M52.5 110h1.25M54 100h1.25M57 104.5h1.25M53.5 105.5h1.25M61 99.5h1.25M61.5 101h1.25M59 102h1.25M53 104h1.25M49 92.5h1.25M54.5 100.5h1.25M49 115h1.25M57 97.5h1.25M57.5 105.5h1.25M53 100.5h1.25M45.5 103.5h1.25M64.5 109h1.25M60 98.5h1.25M49.5 107.5h1.25M56.5 101h1.25M53 108h1.25M58 99h1.25M54 92h1.25M49 105.5h1.25M52.5 97h1.25M56 110h1.25M50.5 100h1.25M53.5 117h1.25M60 103.5h1.25M47.5 106.5h1.25M57.5 101h1.25M51 99.5h1.25M46.5 99.5h1.25M52.5 96.5h1.25M53 92.5h1.25M60.5 101h1.25M48.5 106.5h1.25M57.5 99h1.25M48 101.5h1.25M57 106h1.25M59.5 107h1.25M47 103h1.25M45 108h1.25M56.5 108h1.25M55 102h1.25M52 85h1.25M53.5 117.5h1.25M61 100.5h1.25M56.5 104.5h1.25M52 102h1.25M56.5 99h1.25M57 109.5h1.25M59 104h1.25M54 106.5h1.25M52 98.5h1.25M61 100h1.25M48 107.5h1.25M58.5 109h1.25M54.5 109h1.25M54 96h1.25M54 103.5h1.25M49.5 101h1.25M56 99.5h1.25M55.5 102h1.25M51 104.5h1.25M58 90h1.25M51.5 107.5h1.25M57 91h1.25M56 111h1.25M59.5 107h1.25M54.5 103h1.25M49.5 102.5h1.25M66.5 102.5h1.25M50.5 105.5h1.25M45 116h1.25M58 101h1.25M53.5 97h1.25M56 103h1.25M47.5 108.5h1.25M53.5 96h1.25M60 107h1.25M52.5 99h1.25M60.5 100.5h1.25M56.5 111h1.25M49 93.5h1.25M51 99.5h1.25M55.5 108.5h1.25M53 113h1.25M56.5 91h1.25M55 107h1.25M61 98.5h1.25M55 116.5h1.25M56 97.5h1.25M48 100.5h1.25M57.5 96.5h1.25M62 98.5h1.25M46 107h1.25M55.5 101.5h1.25M62 99.5h1.25M59 100h1.25M63.5 103h1.25M55.5 106.5h1.25M55 106h1.25M54.5 107h1.25M56 100h1.25M58.5 106h1.25M50 101.5h1.25M47 103.5h1.25M59.5 117.5h1.25M57 109.5h1.25M63 107.5h1.25M46.5 100.5h1.25M57.5 105h1.25M56 97.5h1.25M46.5 105.5h1.25M61.5 100h1.25M58.5 100h1.25M55 99.5h1.25M59.5 97.5h1.25M56.5 108.5h1.25M55.5 96h1.25M57.5 102h1.25M49 102h1.25M54 106.5h1.25M53 103.5h1.25M58.5 91.5h1.25M60.5 103h1.25M50.5 104h1.25M60.5 99h1.25M53 111h1.25M63.5 115h1.25M56 97.5h1.25M51 101h1.25M50.5 105.5h1.25M62 96.5h1.25M63 97.5h1.25M52 95h1.25M59 102.5h1.25M55.5 86h1.25M52.5 105h1.25M57 109.5h1.25M54 108.5h1.25M62 118.5h1.25M50.5 115.5h1.25M50.5 104h1.25M54 102.5h1.25M46 101.5h1.25M50 102h1.25M57 104h1.25M55.5 112h1.25M57.5 107h1.25M62.5 103h1.25M56.5 107.5h1.25M54.5 111h1.25M53 102h1.25M55 101.5h1.25M56 100.5h1.25M44 110.5h1.25M53.5 108h1.25M50.5 107h1.25M49.5 112h1.25M55 100.5h1.25M53 99.5h1.25M52.5 100h1.25M60.5 100.5h1.25M53.5 98.5h1.25M50 105.5h1.25M53.5 101h1.25M57 103.5h1.25M59.5 107.5h1.25M49 98.5h1.25M60.5 101h1.25M58.5 98h1.25M43.5 90h1.25M52 100.5h1.25M67.5 107.5h1.25M59 108.5h1.25M47.5 103.5h1.25M55 115h1.25M52 94.5h1.25M56 102h1.25M56 104.5h1.25M56.5 99.5h1.25M53.5 117h1.25M52.5 106.5h1.25M51 93h1.25M60.5 104.5h1.25M62.5 110h1.25M57.5 99h1.25M66 104h1.25M67 108h1.25M61 108h1.25M59 103h1.25M68 99h1.25M49 106h1.25M53.5 110h1.25M55.5 111.5h1.25M57 99.5h1.25M55 108.5h1.25M53.5 99.5h1.25M55.5 106h1.25M62.5 107h1.25M61 103h1.25M65.5 117.5h1.25M53.5 105.5h1.25M56 106h1.25M55 100h1.25M50 101h1.25M56.5 110.5h1.25M59.5 101.5h1.25M53 95h1.25M60 104.5h1.25M59.5 108.5h1.25M59 103.5h1.25M55 98h1.25M53 106.5h1.25M67.5 101.5h1.25M57.5 123h1.25M57 102h1.25M56.5 102.5h1.25M46.5 109h1.25M47.5 100.5h1.25M54 106.5h1.25M55 100.5h1.25M51.5 105h1.25M54 99h1.25M49 98h1.25M56.5 94h1.25M56 103.5h1.25M61 99h1.25M50.5 102.5h1.25M53.5 87.5h1.25M61.5 104h1.25M56 98h1.25M57 101h1.25M63 107h1.25M63 112h1.25M53 115h1.25M54 123h1.25M58.5 112.5h1.25M55.5 124h1.25M55.5 119.5h1.25M49 114.5h1.25M56 116h1.25M57 118h1.25M62 110h1.25M57 119.5h1.25M58 121.5h1.25M56.5 115h1.25M53 120.5h1.25M51 115h1.25M56.5 119.5h1.25M55.5 113h1.25M59.5 112.5h1.25M53.5 109h1.25M57.5 117.5h1.25M49 116h1.25M59 114h1.25M49 116.5h1.25M59.5 109.5h1.25M60.5 116.5h1.25M60.5 112.5h1.25M60.5 118h1.25M60 117h1.25M61 116h1.25M54.5 112.5h1.25M49.5 117h1.25M55 116h1.25M55.5 118h1.25M57 114.5h1.25M60 125h1.25M52.5 115h1.25M59 114h1.25M61 114h1.25M51.5 113h1.25M61.5 108.5h1.25M57.5 108.5h1.25M60 118.5h1.25M60 125.5h1.25M56.5 121.5h1.25M59.5 121h1.25M54 121.5h1.25M56 123h1.25M61.5 117.5h1.25M60 119.5h1.25M58.5 128h1.25M54 112h1.25M51.5 116.5h1.25M57.5 120.5h1.25M62 118.5h1.25M58.5 114h1.25M62 123h1.25M57 120.5h1.25M55 117.5h1.25M58.5 121h1.25M51.5 118h1.25M62 119h1.25M61 107.5h1.25M54 116h1.25M54.5 108h1.25M62.5 118.5h1.25M49 115.5h1.25M57.5 121h1.25M60.5 113.5h1.25M54.5 118.5h1.25M62 115.5h1.25M54.5 119.5h1.25M58 123h1.25M59.5 121.5h1.25M48.5 112h1.25M50.5 114.5h1.25M59 116h1.25M59.5 114h1.25M61.5 120.5h1.25M49.5 113h1.25M54.5 120.5h1.25M60.5 124h1.25M50 118h1.25M57 116h1.25M56.5 108.5h1.25M58.5 115h1.25M51 122.5h1.25M54 118h1.25M53.5 110.5h1.25M55 118h1.25M52.5 119h1.25M64.5 121.5h1.25M55.5 113.5h1.25M61 111.5h1.25M52 124h1.25M59 119h1.25M56 128.5h1.25M71.5 116.5h1.25M61 116h1.25M59.5 122.5h1.25M63 116.5h1.25M59 129h1.25M62 123.5h1.25M60 117h1.25M52.5 113.5h1.25M50 113h1.25M53.5 120.5h1.25M50 119h1.25M48.5 128h1.25M55 118h1.25M65.5 116.5h1.25M58 118h1.25M60 115.5h1.25M65.5 122h1.25M58 122.5h1.25M57 115.5h1.25M57 119.5h1.25M50.5 116h1.25M59.5 113h1.25M59 113h1.25M58.5 117h1.25M59 114.5h1.25M48.5 106.5h1.25M74.5 111.5h1.25M53.5 110.5h1.25M63.5 120h1.25M61.5 112.5h1.25M62 114h1.25M63 117h1.25M46.5 117h1.25M53 127h1.25M51 116h1.25M56 113.5h1.25M54 117h1.25M59 115.5h1.25M56 117h1.25M52.5 116h1.25M57.5 121.5h1.25M60.5 119h1.25M61.5 114h1.25M62.5 115.5h1.25M56.5 115.5h1.25M60 114.5h1.25M59.5 115.5h1.25M54.5 118.5h1.25M53 122h1.25M53.5 115h1.25M62.5 111h1.25M61 117h1.25M57.5 117.5h1.25M52.5 123.5h1.25M59.5 119.5h1.25M60.5 121h1.25M58.5 113h1.25M51 111.5h1.25M55 121h1.25M51 115.5h1.25M59.5 115.5h1.25M55.5 112.5h1.25M57.5 114.5h1.25M53.5 115h1.25M58.5 120.5h1.25M51.5 118.5h1.25M51.5 109h1.25M53.5 117h1.25M56.5 118h1.25M47.5 122.5h1.25M60.5 119.5h1.25M49.5 118.5h1.25M54.5 115h1.25M57 110.5h1.25M61.5 121h1.25M60.5 122.5h1.25M49 115.5h1.25M55 112h1.25M60.5 127h1.25M52 119h1.25M57 117.5h1.25M57.5 119.5h1.25M54 115.5h1.25M64.5 117h1.25M57 110h1.25M59 119.5h1.25M58 123h1.25M48 120.5h1.25M49.5 112.5h1.25M48 120h1.25M56 115h1.25M57 108h1.25M54 117.5h1.25M54 116.5h1.25M49.5 117.5h1.25M55 117.5h1.25M63.5 117h1.25M54 118h1.25M51.5 123h1.25M56.5 116.5h1.25M58.5 111.5h1.25M56.5 115.5h1.25M66 122.5h1.25M64.5 116.5h1.25M57 120.5h1.25M53.5 112.5h1.25M63.5 118.5h1.25M58.5 109.5h1.25M54.5 114.5h1.25M53 117.5h1.25M52 111.5h1.25M65 118.5h1.25M51.5 125h1.25M59 118h1.25M44 122.5h1.25M57.5 121.5h1.25M64.5 111.5h1.25M65 120h1.25M57.5 107.5h1.25M65.5 118h1.25M59.5 112h1.25M59.5 119h1.25M63.5 113h1.25M47 114.5h1.25M52.5 118h1.25M56 117.5h1.25M62.5 123.5h1.25M57 110.5h1.25M56.5 116h1.25M56.5 116h1.25M56.5 108h1.25M59 118.5h1.25M58 116h1.25M60.5 110h1.25M56 119h1.25M54.5 116.5h1.25M61 116h1.25M52.5 114.5h1.25M58 112.5h1.25M56.5 115h1.25M56.5 119.5h1.25M59.5 117h1.25M57.5 119.5h1.25M53 117h1.25M51.5 121.5h1.25M57 111.5h1.25M54.5 119.5h1.25M58 110h1.25M64.5 117.5h1.25M58 115.5h1.25M53 110.5h1.25M57.5 116.5h1.25M55.5 119.5h1.25M58 112.5h1.25M55 121h1.25M50.5 125h1.25M54 127h1.25M58.5 110.5h1.25M58.5 117h1.25M55 117h1.25M57 104h1.25M60 115.5h1.25M57 119.5h1.25M56.5 112h1.25M61 100.5h1.25M56.5 97h1.25M53.5 94.5h1.25M67 94h1.25M62.5 87h1.25M56.5 101h1.25M62.5 105.5h1.25M72.5 130h1.25M50.5 110h1.25M47 95h1.25M54 111.5h1.25M60 102h1.25M63.5 93h1.25M47.5 103h1.25M54 101h1.25M58.5 92h1.25M54 88.5h1.25M53.5 105h1.25M67.5 104h1.25M66 104h1.25M55.5 99h1.25M62.5 94.5h1.25M52 110.5h1.25M61.5 98h1.25M57.5 104.5h1.25M60 102h1.25M67 96.5h1.25M53.5 111.5h1.25M53 94h1.25M54.5 102h1.25M48 102.5h1.25M44 90h1.25M46 102.5h1.25M55 98.5h1.25M63.5 109.5h1.25M55.5 114h1.25M67 110.5h1.25M50.5 111.5h1.25M64.5 108h1.25M54 106.5h1.25M58 87.5h1.25M67.5 104.5h1.25M71 105h1.25M49 111.5h1.25M56 112h1.25M51.5 100h1.25M49.5 98h1.25M58.5 93h1.25M56.5 114h1.25M47.5 102h1.25M49 100.5h1.25M56 110h1.25M62 98h1.25M60.5 98.5h1.25M46 95h1.25M76 95.5h1.25M46.5 103.5h1.25M55 106h1.25M73 106.5h1.25M57 103h1.25M49 98.5h1.25M46.5 112h1.25M54 110h1.25M57.5 124h1.25M54.5 110h1.25M50.5 114.5h1.25M53.5 104.5h1.25M44.5 109.5h1.25M68.5 116.5h1.25M47 112.5h1.25M50 90h1.25M45.5 116h1.25M53 93.5h1.25M58.5 107.5h1.25M53 109h1.25M52.5 116h1.25M61.5 104h1.25M58.5 112.5h1.25M54.5 109.5h1.25M54.5 101.5h1.25M47 105h1.25M76 95.5h1.25M51.5 92.5h1.25M52 102h1.25M60.5 91.5h1.25M59 106h1.25M52.5 92.5h1.25M46.5 102h1.25M59.5 103h1.25M49 106.5h1.25M46.5 111h1.25M78.5 98.5h1.25M63.5 95h1.25M55.5 109h1.25M64.5 104.5h1.25M66 92.5h1.25M53.5 104h1.25M56 103h1.25M70 100.5h1.25M63.5 108h1.25M71.5 102.5h1.25M61 109.5h1.25M63.5 118.5h1.25M47 102.5h1.25M65.5 94.5h1.25M49 110h1.25M61 116.5h1.25M64.5 106.5h1.25M47 99h1.25M55.5 108h1.25M56 112h1.25M49.5 101h1.25M45 123h1.25M54.5 113.5h1.25M66 108h1.25M54.5 100.5h1.25M53.5 89h1.25M51.5 112h1.25M58 112.5h1.25M62.5 111.5h1.25M57 106.5h1.25M63.5 101.5h1.25M45 112.5h1.25M56 114.5h1.25M50.5 90h1.25M54.5 99h1.25M48 119h1.25M58 94h1.25M43 104h1.25M60.5 107.5h1.25M65 108h1.25M59.5 87.5h1.25M66 100h1.25M63 91h1.25M48.5 115.5h1.25M46 106.5h1.25M52.5 120.5h1.25M59 116.5h1.25M55.5 89.5h1.25M72 99.5h1.25M56 104.5h1.25M43 111.5h1.25M86 92.5h1.25M82.5 90h1.25M84.5 100.5h1.25M84 101h1.25M86 104h1.25M87 100.5h1.25M84.5 95h1.25M84 103h1.25M85.5 108.5h1.25M90 94.5h1.25M88.5 107.5h1.25M85 107.5h1.25M84.5 109h1.25M89 100h1.25M81.5 100.5h1.25M84.5 103h1.25M84 103.5h1.25M85.5 104h1.25M90 102h1.25M89 106.5h1.25M84 104h1.25M88 109.5h1.25M86.5 106h1.25M81.5 107.5h1.25M88.5 103h1.25M90 95h1.25M86.5 101.5h1.25M86 98.5h1.25M90.5 101.5h1.25M86.5 101.5h1.25M91.5 110.5h1.25M91 103.5h1.25M82.5 98.5h1.25M84 96.5h1.25M91 98h1.25M91.5 101.5h1.25M86.5 100h1.25M82.5 99h1.25M90 104.5h1.25M87.5 104.5h1.25M87.5 103h1.25M95 102h1.25M81.5 90.5h1.25M84.5 102.5h1.25M90.5 101h1.25M87.5 104h1.25M84 101h1.25M88 99h1.25M84.5 104h1.25M91 101.5h1.25M79.5 97h1.25M85.5 103.5h1.25M85.5 99h1.25M90.5 107.5h1.25M87.5 95.5h1.25M83 104.5h1.25M84.5 101h1.25M86.5 102h1.25M88 96h1.25M85 102h1.25M87 94h1.25M93.5 94h1.25M90.5 92.5h1.25M90 92h1.25M90 102h1.25M89.5 97h1.25M88 102h1.25M87.5 98h1.25M91.5 92h1.25M82 93.5h1.25M91.5 96.5h1.25M84.5 97h1.25M86 99.5h1.25M85.5 93h1.25M88.5 101h1.25M92 103h1.25M86.5 93.5h1.25M87 104h1.25M92.5 103h1.25M89.5 104h1.25M92.5 106.5h1.25M87 93.5h1.25M92.5 101.5h1.25M84.5 93.5h1.25M81 102h1.25M86.5 102.5h1.25M91 98h1.25M88 98h1.25M84 89.5h1.25M84.5 106.5h1.25M85 102.5h1.25M87.5 111h1.25M92 97.5h1.25M85.5 106.5h1.25M88 101.5h1.25M91 104h1.25M87.5 116.5h1.25M88.5 94.5h1.25M88 102.5h1.25M92.5 103h1.25M85 103h1.25M83 99.5h1.25M88.5 97h1.25M80.5 96h1.25M84.5 104h1.25M85.5 100.5h1.25M84 101.5h1.25M85 103.5h1.25M87.5 108h1.25M89 99h1.25M84 102h1.25M89.5 108.5h1.25M85 94h1.25M80.5 95.5h1.25M86 99.5h1.25M85.5 100.5h1.25M88 92h1.25M87 99.5h1.25M86 98.5h1.25M80.5 103h1.25M85 100h1.25M87.5 100.5h1.25M88 102.5h1.25M83.5 94.5h1.25M89.5 96.5h1.25M94 95h1.25M87 100h1.25M87.5 95.5h1.25M87.5 110.5h1.25M85 89.5h1.25M88.5 102.5h1.25M89 96.5h1.25M88 105h1.25M85 100.5h1.25M88.5 104h1.25M86 101.5h1.25M93 110.5h1.25M83 111.5h1.25M85.5 105.5h1.25M82.5 99.5h1.25M84.5 104.5h1.25M87.5 102.5h1.25M88 101.5h1.25M89.5 101h1.25M86.5 97h1.25M83.5 97.5h1.25M87.5 105.5h1.25M86 110h1.25M90.5 100.5h1.25M87.5 100h1.25M80.5 104.5h1.25M87 92h1.25M89.5 97.5h1.25M85.5 91.5h1.25M86.5 102.5h1.25M85 100h1.25M80.5 103h1.25M86.5 100h1.25M88.5 105.5h1.25M86 104.5h1.25M92.5 94.5h1.25M86.5 92h1.25M87.5 107h1.25M86 94.5h1.25M84.5 102h1.25M81.5 93h1.25M88 93.5h1.25M86.5 95h1.25M81 104h1.25M90 96h1.25M94 101h1.25M88 101h1.25M83 105.5h1.25M87 103h1.25M87 98.5h1.25M94.5 102.5h1.25M86 103.5h1.25M82.5 102h1.25M95.5 97h1.25M88.5 94.5h1.25M86.5 106h1.25M83 95.5h1.25M90.5 102h1.25M89 103h1.25M82.5 92h1.25M80.5 103h1.25M82 91.5h1.25M84.5 99.5h1.25M87.5 91h1.25M91 95.5h1.25M87 100h1.25M83.5 102.5h1.25M87.5 106h1.25M93 111h1.25M90 104h1.25M85.5 93h1.25M88 97.5h1.25M86 98h1.25M88 98.5h1.25M94.5 105h1.25M85 102.5h1.25M91.5 94.5h1.25M87.5 98h1.25M87 98h1.25M87.5 103h1.25M89 93h1.25M89 100.5h1.25M84.5 100.5h1.25M92 100h1.25M84 104h1.25M86 104.5h1.25M87.5 107.5h1.25M85 99h1.25M90.5 109.5h1.25M87.5 107h1.25M88.5 101h1.25M81.5 111.5h1.25M91 89h1.25M89.5 98h1.25M83.5 98h1.25M89.5 100.5h1.25M86 100h1.25M85.5 103.5h1.25M80 94h1.25M86.5 94.5h1.25M87.5 99h1.25M88 100h1.25M89 100.5h1.25M89.5 99h1.25M81 101h1.25M87 98.5h1.25M90.5 103.5h1.25M92 99h1.25M85.5 103.5h1.25M92 97.5h1.25M88.5 101h1.25M86 106h1.25M90 105h1.25M85 101h1.25M81.5 104h1.25M83 100h1.25M90 100h1.25M87.5 98h1.25M96 95h1.25M85.5 100.5h1.25M96 98.5h1.25M87.5 105.5h1.25M80 106h1.25M88.5 109.5h1.25M92.5 104h1.25M91 98.5h1.25M83.5 100.5h1.25M88 100h1.25M89 105h1.25M93.5 101h1.25M86 104.5h1.25M88.5 105h1.25M93.5 98h1.25M90 109h1.25M92 94.5h1.25M86.5 108.5h1.25M87.5 104.5h1.25M87.5 108.5h1.25M88.5 100.5h1.25M88 109h1.25M89 93.5h1.25M80.5 105.5h1.25M82 102.5h1.25M85 102.5h1.25M85 89.5h1.25M92 101h1.25M86.5 109h1.25M89.5 107h1.25M86.5 102h1.25M88.5 98h1.25M90 103.5h1.25M86 99h1.25M90 100.5h1.25M88.5 102.5h1.25M86.5 85h1.25M88.5 105h1.25M85 98h1.25M90 95h1.25M91 104h1.25M91.5 101h1.25M87.5 102.5h1.25M82 97h1.25M91 98h1.25M84 103h1.25M91.5 101h1.25M86.5 101h1.25M88.5 93.5h1.25M88.5 103.5h1.25M90.5 106.5h1.25M89.5 111.5h1.25M87.5 101h1.25M92.5 102h1.25M85.5 98.5h1.25M87 94.5h1.25M90.5 103h1.25M91.5 96.5h1.25M86 98h1.25M89 103.5h1.25M89.5 105h1.25M83.5 103h1.25M87.5 101.5h1.25M89 92h1.25M85 100h1.25M84.5 95.5h1.25M90 105.5h1.25M93 96.5h1.25M79.5 104.5h1.25M86 95.5h1.25M88.5 100.5h1.25M81.5 101.5h1.25M81.5 103.5h1.25M83 93h1.25M89 105.5h1.25M86 95h1.25M89 101.5h1.25M87.5 99h1.25M82 98.5h1.25M91.5 97.5h1.25M86.5 100.5h1.25M90 102h1.25M85.5 110h1.25M87.5 102h1.25M84.5 93h1.25M88.5 99h1.25M88 89.5h1.25M92.5 101h1.25M89.5 95.5h1.25M87 101.5h1.25M90.5 104.5h1.25M80 102h1.25M87.5 99h1.25M87.5 103.5h1.25M90 95h1.25M84 101h1.25M89 96h1.25M87 94.5h1.25M87 100h1.25M88.5 107.5h1.25M84.5 103h1.25M82 102.5h1.25M92.5 93h1.25M85 85h1.25M88.5 111.5h1.25M84 102.5h1.25M91.5 97h1.25M87.5 97h1.25M85.5 101h1.25M90 102h1.25M87 100h1.25M90.5 103.5h1.25M88.5 92h1.25M86.5 95.5h1.25M92.5 104.5h1.25M92 97h1.25M82 97h1.25M89 97.5h1.25M89.5 108h1.25M86 106h1.25M80 95h1.25M85 99.5h1.25M82.5 99.5h1.25M90.5 105.5h1.25M88.5 96.5h1.25M91.5 104.5h1.25M84 106h1.25M86 104h1.25M88.5 104h1.25M92 114h1.25M88.5 102h1.25M87 103.5h1.25M89 95h1.25M87.5 113h1.25M90 107h1.25M87 112.5h1.25M89.5 100h1.25M85 104h1.25M93 98h1.25M84 90h1.25M89.5 96h1.25M85 96h1.25M84.5 105h1.25M84.5 102h1.25M85 99.5h1.25M89.5 104.5h1.25M83.5 101.5h1.25M84 105h1.25M85 96.5h1.25M90 98.5h1.25M87.5 104.5h1.25M85.5 99.5h1.25M89 112.5h1.25M89 105h1.25M87 101h1.25M92 97.5h1.25M85 108.5h1.25M84.5 95h1.25M88.5 106h1.25M93 112h1.25M79.5 100h1.25M86 103h1.25M84.5 101.5h1.25M88 102h1.25M84.5 102.5h1.25M84 97h1.25M86 105h1.25M80.5 101h1.25M91.5 102h1.25M85.5 102.5h1.25M92.5 100.5h1.25M84.5 105h1.25M86 97.5h1.25M90 97h1.25M86 108h1.25M87.5 107.5h1.25M81 93.5h1.25M84.5 100.5h1.25M80.5 102h1.25M85 98.5h1.25M87 99.5h1.25M83 100h1.25M83 107.5h1.25M85.5 99.5h1.25M85 101h1.25M87.5 100.5h1.25M83.5 106.5h1.25M87 91.5h1.25M79.5 95h1.25M83 92.5h1.25M83.5 102.5h1.25M91 102h1.25M88 106.5h1.25M94 106.5h1.25M89 100h1.25M83.5 103h1.25M91 102.5h1.25M85 104h1.25M86.5 98h1.25M80.5 103.5h1.25M84.5 107h1.25M85 101.5h1.25M85 110h1.25M91.5 101h1.25M91.5 94.5h1.25M89 98h1.25M86.5 98.5h1.25M89 92h1.25M85.5 108h1.25M79.5 100h1.25M82.5 87.5h1.25M88.5 98.5h1.25M91 91.5h1.25M88 109h1.25M81 104.5h1.25M89.5 102h1.25M91.5 104.5h1.25M84.5 97h1.25M86.5 109.5h1.25M86.5 105.5h1.25M86.5 104.5h1.25M89 107.5h1.25M93 98.5h1.25M83.5 101h1.25M87 102.5h1.25M90.5 99h1.25M87 101.5h1.25M91 99h1.25M91 111h1.25M86.5 108.5h1.25M89 101h1.25M94 107.5h1.25M86 104.5h1.25M85 94.5h1.25M91 101.5h1.25M93 102.5h1.25M88.5 101h1.25M88 97.5h1.25M86.5 92.5h1.25M81.5 94.5h1.25M85 101h1.25M86.5 107.5h1.25M95.5 89h1.25M92 106h1.25M85.5 102h1.25M80.5 100h1.25M92.5 95.5h1.25M85 102h1.25M89.5 101.5h1.25M85.5 104.5h1.25M85.5 113.5h1.25M91.5 102h1.25M84.5 98.5h1.25M84.5 99.5h1.25M88.5 94.5h1.25M87.5 101.5h1.25M84 108h1.25M89 103h1.25M85 97.5h1.25M87.5 94h1.25M88.5 95.5h1.25M87 104.5h1.25M86 98h1.25M84.5 102h1.25M83.5 101h1.25M90.5 91.5h1.25M84.5 102.5h1.25M83.5 95.5h1.25M83 105.5h1.25M80 100.5h1.25M86 101h1.25M84.5 101h1.25M85 96.5h1.25M95.5 106h1.25M83 97h1.25M88.5 108h1.25M86 104.5h1.25M87.5 106.5h1.25M85 97h1.25M88 102h1.25M87 107h1.25M89 101.5h1.25M83 104.5h1.25M89.5 97.5h1.25M86.5 95.5h1.25M87.5 100h1.25M81 101h1.25M86 99h1.25M90.5 103.5h1.25M90 99.5h1.25M91.5 97h1.25M89.5 93.5h1.25M87.5 96h1.25M82 104.5h1.25M87.5 103.5h1.25M87 102.5h1.25M87 100h1.25M87.5 112.5h1.25M83.5 93.5h1.25M84 97.5h1.25M89 106.5h1.25M91 100h1.25M89.5 110.5h1.25M89 108h1.25M84 105.5h1.25M90 95h1.25M87.5 104.5h1.25M84 106h1.25M90.5 103h1.25M87 100.5h1.25M88.5 107h1.25M82.5 102h1.25M88 97h1.25M83 100h1.25M81.5 102h1.25M86 95.5h1.25M87 97h1.25M84.5 107h1.25M84.5 88h1.25M88 95.5h1.25M84 108.5h1.25M86.5 105h1.25M82.5 95.5h1.25M84 104.5h1.25M84.5 91h1.25M89.5 98h1.25M87 104.5h1.25M94 100.5h1.25M92 94h1.25M87.5 102.5h1.25M79.5 96h1.25M84.5 103.5h1.25M85.5 98.5h1.25M84.5 103h1.25M86.5 100.5h1.25M86 104.5h1.25M84.5 101h1.25M87 103h1.25M90.5 102.5h1.25M82.5 106h1.25M91 107.5h1.25M90 93.5h1.25M86.5 105h1.25M90 101h1.25M87.5 96h1.25M88.5 91h1.25M86.5 106h1.25M83.5 107.5h1.25M93.5 104h1.25M85.5 99h1.25M83.5 105h1.25M83.5 102.5h1.25M83.5 104h1.25M82.5 101h1.25M85 106.5h1.25M86 100.5h1.25M91 96h1.25M83 101h1.25M84 110h1.25M87.5 102.5h1.25M86 85.5h1.25M91.5 100.5h1.25M80.5 96h1.25M87 107.5h1.25M88.5 103h1.25M88 96.5h1.25M85 101.5h1.25M82.5 101.5h1.25M89.5 89.5h1.25M86.5 100h1.25M87.5 110h1.25M82.5 111h1.25M89.5 113.5h1.25M86 103h1.25M86.5 103.5h1.25M84 97.5h1.25M86.5 104.5h1.25M83 99.5h1.25M85 102.5h1.25M90 93.5h1.25M83.5 99.5h1.25M83.5 108h1.25M92.5 105h1.25M89 95.5h1.25M84 103h1.25M92 99.5h1.25M88 109h1.25M93 96h1.25M88 105h1.25M81.5 98.5h1.25M87.5 98.5h1.25M88.5 99h1.25M81.5 94.5h1.25M80 94h1.25M89 102h1.25M88.5 107.5h1.25M83 98.5h1.25M87.5 109h1.25M88 100h1.25M88 96h1.25M80.5 103h1.25M85.5 103h1.25M83 96h1.25M89.5 102h1.25M90 97.5h1.25M87 104h1.25M90 100.5h1.25M88 100.5h1.25M86.5 100.5h1.25M88.5 94h1.25M86.5 95.5h1.25M87 99.5h1.25M87.5 99.5h1.25M86 93.5h1.25M91.5 93.5h1.25M80.5 102h1.25M88.5 100h1.25M85.5 94.5h1.25M92.5 92h1.25M94.5 92.5h1.25M83 99h1.25M85 103h1.25M83.5 98.5h1.25M81.5 106.5h1.25M85.5 96.5h1.25M86.5 105h1.25M88 97h1.25M87 102h1.25M88 99h1.25M89 95h1.25M87 96.5h1.25M87 98h1.25M89 98.5h1.25M91 96h1.25M90.5 96.5h1.25M78.5 96h1.25M89.5 102h1.25M88.5 99h1.25M88 96h1.25M92.5 109h1.25M88.5 98h1.25M85 104h1.25M88 96.5h1.25M89.5 105.5h1.25M89 103h1.25M88 101h1.25M86 98h1.25M91 93.5h1.25M87.5 105.5h1.25M94.5 99.5h1.25M91.5 107.5h1.25M90.5 110.5h1.25M82 106.5h1.25M87 103.5h1.25M87 97.5h1.25M81 103.5h1.25M86.5 95h1.25M87.5 107h1.25M84.5 114.5h1.25M90.5 102h1.25M87.5 117h1.25M83.5 111.5h1.25M89 119h1.25M83.5 103.5h1.25M85.5 110h1.25M87.5 113.5h1.25M80.5 117.5h1.25M81.5 115h1.25M89.5 115.5h1.25M88.5 115h1.25M84.5 108h1.25M95 122.5h1.25M92.5 118h1.25M82 124.5h1.25M87 113h1.25M90 109h1.25M92 98.5h1.25M92 116h1.25M84.5 118h1.25M91.5 118h1.25M91 111.5h1.25M91 119.5h1.25M92 117h1.25M81.5 116h1.25M83 108h1.25M87 114h1.25M86.5 114.5h1.25M89 113.5h1.25M87.5 114.5h1.25M89.5 107h1.25M82 119h1.25M87.5 98.5h1.25M91 119.5h1.25M80.5 105h1.25M85.5 105h1.25M85 112h1.25M90.5 97h1.25M87.5 119h1.25M78.5 114.5h1.25M87 109h1.25M90 120.5h1.25M91 125h1.25M84.5 100h1.25M85.5 113.5h1.25M91.5 116h1.25M85 121h1.25M89 114h1.25M86.5 115h1.25M89.5 113h1.25M79 107.5h1.25M89 122h1.25M91.5 119.5h1.25M93.5 117h1.25M92 119h1.25M88.5 107.5h1.25M81.5 115.5h1.25M83 112.5h1.25M90 108.5h1.25M90.5 113.5h1.25M84.5 116.5h1.25M90 110h1.25M89.5 106h1.25M88 115h1.25M84 113.5h1.25M93 109h1.25M83.5 104.5h1.25M85 106.5h1.25M81.5 114h1.25M89 107h1.25M88 119h1.25M89 114.5h1.25M90 109.5h1.25M91 125h1.25M85.5 102h1.25M85 107h1.25M88.5 121h1.25M90 124h1.25M89.5 114h1.25M81 116h1.25M85.5 110.5h1.25M87 123.5h1.25M91 113.5h1.25M82.5 111h1.25M87 119h1.25M90 117h1.25M84.5 119.5h1.25M97.5 105h1.25M84 114h1.25M91 115h1.25M88 122.5h1.25M84 101h1.25M82 118h1.25M91 111h1.25M82.5 108h1.25M89 119h1.25M85.5 108h1.25M84 109h1.25M90 114h1.25M88.5 113.5h1.25M88 105h1.25M83.5 115h1.25M89 119.5h1.25M87 107.5h1.25M86.5 111.5h1.25M89.5 112h1.25M89.5 116.5h1.25M89.5 116.5h1.25M84 120h1.25M93.5 118.5h1.25M93.5 116h1.25M86 117h1.25M88 113h1.25M93.5 108.5h1.25M92 110.5h1.25M82 118.5h1.25M88.5 115.5h1.25M89 121h1.25M89.5 112.5h1.25M88 117h1.25M86.5 117h1.25M81 113.5h1.25M88.5 118.5h1.25M84.5 113h1.25M90 131.5h1.25M89 118h1.25M86.5 127.5h1.25M87.5 113h1.25M89 106.5h1.25M85 112h1.25M85.5 120h1.25M86.5 127.5h1.25M89 109.5h1.25M88.5 118h1.25M88 116.5h1.25M87.5 109.5h1.25M87.5 124.5h1.25M86.5 113.5h1.25M82.5 110h1.25M89 111.5h1.25M92 119.5h1.25M86.5 113h1.25M90 116h1.25M87 102.5h1.25M92.5 113.5h1.25M88.5 109.5h1.25M93 113h1.25M88.5 101.5h1.25M86 113h1.25M89 117.5h1.25M87 119.5h1.25M87.5 112.5h1.25M87.5 103.5h1.25M80 124h1.25M81.5 109.5h1.25M89.5 109h1.25M91.5 101.5h1.25M88 117h1.25M95 122h1.25M85 118h1.25M88.5 106h1.25M86 119.5h1.25M86.5 107.5h1.25M85.5 105.5h1.25M82 115h1.25M89 119h1.25M82 106h1.25M89 113.5h1.25M87 105.5h1.25M86.5 104.5h1.25M92.5 117h1.25M84 120h1.25M84 116h1.25M88 110.5h1.25M92 103h1.25M86 110.5h1.25M81 103.5h1.25M87.5 114h1.25M84 116h1.25M89 117h1.25M86.5 112h1.25M89.5 109.5h1.25M84.5 105.5h1.25M89 120h1.25M81 111h1.25M90 121.5h1.25M88.5 108.5h1.25M90 127h1.25M89 117.5h1.25M93.5 105h1.25M90.5 122h1.25M91.5 115h1.25M86.5 110.5h1.25M83.5 111h1.25M84 113h1.25M87 110.5h1.25M86.5 114h1.25M83.5 117.5h1.25M88.5 117h1.25M87 112.5h1.25M88.5 114.5h1.25M86.5 112h1.25M86 111.5h1.25M85.5 109h1.25M84.5 121.5h1.25M85.5 113h1.25M84.5 114.5h1.25M92 109.5h1.25M88.5 113.5h1.25M91 113.5h1.25M87.5 112.5h1.25M81.5 119.5h1.25M93.5 109h1.25M91 114h1.25M93 111h1.25M89.5 121.5h1.25M90 115h1.25M88 110.5h1.25M88.5 108.5h1.25M93.5 117.5h1.25M87.5 105.5h1.25M92 122h1.25M90 119.5h1.25M91 114h1.25M87.5 115h1.25M92.5 111h1.25M83 115h1.25M88.5 114h1.25M89 108h1.25M85.5 112h1.25M88 117h1.25M90.5 115.5h1.25M88 108.5h1.25M86.5 105.5h1.25M86 116.5h1.25M90 108.5h1.25M92 101h1.25M90 114h1.25M87.5 116.5h1.25M86.5 126.5h1.25M86.5 112h1.25M89 103h1.25M87.5 106h1.25M92.5 111h1.25M87.5 104h1.25M94 104h1.25M83 109.5h1.25M80.5 106h1.25M86.5 119.5h1.25M91.5 107h1.25M86 117.5h1.25M92 109h1.25M87 113.5h1.25M88.5 112h1.25M94 112.5h1.25M92 116.5h1.25M99.5 122h1.25M81.5 117.5h1.25M77 118.5h1.25M86 89h1.25M82.5 104h1.25M95 108h1.25M90 101h1.25M85 94h1.25M85.5 104h1.25M87 99h1.25M86 102.5h1.25M88.5 100.5h1.25M84 98h1.25M83.5 103.5h1.25M81.5 116.5h1.25M92 109h1.25M91 95h1.25M83.5 101.5h1.25M88 112.5h1.25M91.5 93h1.25M86.5 115.5h1.25M85.5 109.5h1.25M78 106h1.25M85.5 88.5h1.25M91 117.5h1.25M91 102.5h1.25M86 100h1.25M90 110h1.25M94.5 106h1.25M92 104h1.25M83 105.5h1.25M82.5 98.5h1.25M91 112h1.25M82.5 98h1.25M86 99h1.25M90.5 103h1.25M80 98h1.25M89 123.5h1.25M89.5 93.5h1.25M82 107h1.25M86 106.5h1.25M97.5 96.5h1.25M81.5 105h1.25M87 107.5h1.25M91 105.5h1.25M92.5 107h1.25M88.5 90.5h1.25M82 102h1.25M90 100h1.25M81.5 99h1.25M96 92.5h1.25M88 106h1.25M94.5 111.5h1.25M85 113h1.25M93.5 102.5h1.25M78 95.5h1.25M87 97h1.25M87.5 115.5h1.25M88 124.5h1.25M86 95.5h1.25M88 114.5h1.25M79.5 110h1.25M95.5 108h1.25M96.5 93h1.25M90 91.5h1.25M77.5 93h1.25M92.5 108.5h1.25M94.5 98.5h1.25M78 113.5h1.25M83 92.5h1.25M91 115h1.25M83 107h1.25M78 100.5h1.25M73 112.5h1.25M82.5 100.5h1.25M79 115.5h1.25M76.5 108h1.25M73 116.5h1.25M75.5 86h1.25M77.5 102.5h1.25M75.5 130h1.25M77.5 90h1.25M74.5 99h1.25M80 77.5h1.25M78 110.5h1.25M74.5 114h1.25M83 92h1.25M74 110h1.25M76 107.5h1.25M78 111.5h1.25M74.5 92h1.25M79 125h1.25M81 115h1.25M81 96h1.25M79.5 114.5h1.25M76 122h1.25M75.5 107h1.25M72.5 93h1.25M74.5 128h1.25M83.5 105h1.25M77 126h1.25M72.5 106.5h1.25M71 127h1.25M74 107.5h1.25M76 102.5h1.25M86.5 122.5h1.25M85 90.5h1.25M79.5 109.5h1.25M72 112h1.25M83 123h1.25M74.5 146h1.25M81 103.5h1.25M73 105h1.25M76.5 106.5h1.25M74 121.5h1.25M74 113h1.25M74 109.5h1.25M64.5 140.5h1.25M62.5 140h1.25M64.5 140h1.25M64.5 132h1.25M64.5 143.5h1.25M53 136h1.25M47 138.5h1.25M59 136.5h1.25M64 126h1.25M56.5 132h1.25M55 145.5h1.25M57.5 149.5h1.25M56 135.5h1.25M56 130h1.25M53 139.5h1.25M62.5 133h1.25M52.5 129h1.25M49.5 139h1.25M57.5 141.5h1.25M55.5 146h1.25M47.5 139h1.25M60.5 137h1.25M59.5 137.5h1.25M55 140h1.25M53.5 139h1.25M60.5 132h1.25M61 147h1.25M66.5 137h1.25M63.5 127h1.25M49.5 139.5h1.25M51 133h1.25M51.5 137h1.25M53.5 133h1.25M57 135.5h1.25M57 141h1.25M60 137.5h1.25M54.5 136.5h1.25M51 142h1.25M56.5 146h1.25M58.5 136h1.25M61.5 137h1.25M56.5 142h1.25M58.5 134h1.25M61 141.5h1.25M57 137.5h1.25M58.5 129.5h1.25M64 123h1.25M51.5 132.5h1.25M59 139h1.25M59 131h1.25M63.5 144.5h1.25M45.5 140h1.25M46.5 135h1.25M59.5 139h1.25M49.5 134.5h1.25M62.5 140h1.25M60.5 128h1.25M59.5 140h1.25M51.5 147.5h1.25M56.5 144.5h1.25M54 141.5h1.25M59.5 138h1.25M57.5 140.5h1.25M56.5 131h1.25M58.5 138h1.25M58 133.5h1.25M65 144.5h1.25M64.5 150.5h1.25M62 137h1.25M50 146h1.25M58.5 144h1.25M64 138h1.25M52 141.5h1.25M54.5 133.5h1.25M59 137.5h1.25M59.5 132h1.25M56.5 137.5h1.25M57 135h1.25M60.5 130h1.25M59.5 146h1.25M57 139.5h1.25M53 140.5h1.25M59.5 140h1.25M59 142.5h1.25M58 127.5h1.25M51 138.5h1.25M68.5 145.5h1.25M57 137.5h1.25M54.5 142.5h1.25M55.5 139.5h1.25M52.5 136.5h1.25M52 134h1.25M55 146.5h1.25M59 145.5h1.25M54.5 140.5h1.25M54 138h1.25M56 129h1.25M57 131.5h1.25M59.5 135h1.25M48.5 131.5h1.25M52.5 148h1.25M50.5 136.5h1.25M58 138h1.25M56.5 143h1.25M53 149.5h1.25M64 140h1.25M64 139.5h1.25M54.5 131.5h1.25M53.5 142.5h1.25M58.5 148.5h1.25M65 144.5h1.25M57.5 150h1.25M56.5 124h1.25M55.5 141.5h1.25M60 142.5h1.25M61 123h1.25M69 142.5h1.25M57.5 127h1.25M61 132.5h1.25M46.5 142.5h1.25M59.5 138h1.25M52 141.5h1.25M57 141h1.25M59 129.5h1.25M59 131h1.25M59 136h1.25M54 148.5h1.25M58 140h1.25M60.5 152h1.25M57 146h1.25M57 138.5h1.25M60 138.5h1.25M52 139h1.25M66.5 142.5h1.25M44.5 138h1.25M51.5 144.5h1.25M51 138.5h1.25M59.5 144h1.25M53.5 140.5h1.25M69 134.5h1.25M57 133.5h1.25M56 142h1.25M57 143h1.25M50 140h1.25M55.5 121h1.25M63 139.5h1.25M54 145.5h1.25M60 124h1.25M58.5 144.5h1.25M48 129h1.25M49.5 146h1.25M62 123h1.25M62 125.5h1.25M49.5 138.5h1.25M53 138.5h1.25M58 146.5h1.25M54.5 134.5h1.25M63.5 147h1.25M60 140.5h1.25M65 138.5h1.25M49 129h1.25M71 132.5h1.25M53.5 138h1.25M63 132h1.25M56 141.5h1.25M50 139.5h1.25M63 140.5h1.25M57.5 142.5h1.25M56.5 136h1.25M54 144.5h1.25M48 131h1.25M61.5 146.5h1.25M57.5 133.5h1.25M48 142.5h1.25M58 141h1.25M59 132h1.25M52.5 138h1.25M55.5 128h1.25M49.5 137h1.25M64 154h1.25M58 136.5h1.25M58 139h1.25M52 117.5h1.25M57.5 134.5h1.25M56 132h1.25M54.5 139.5h1.25M49 134h1.25M60 143.5h1.25M47 144h1.25M64 141.5h1.25M59.5 139.5h1.25M59 135.5h1.25M64 138.5h1.25M49 142.5h1.25M62 141.5h1.25M51.5 143h1.25M60 127h1.25M58 134h1.25M58.5 137.5h1.25M55.5 140.5h1.25M58.5 132h1.25M58.5 140h1.25M51.5 145h1.25M59.5 132h1.25M66.5 142.5h1.25M64.5 134h1.25M54 139.5h1.25M54 137.5h1.25M49 152h1.25M60 147.5h1.25M66.5 138.5h1.25M68 123.5h1.25M55 135h1.25M56.5 131h1.25M61.5 151.5h1.25M58 142.5h1.25M45 134h1.25M59 134.5h1.25M58.5 136h1.25M58.5 129.5h1.25M59.5 148h1.25M60.5 152.5h1.25M56.5 144.5h1.25M49.5 145h1.25M59.5 137.5h1.25M63 131.5h1.25M55.5 141h1.25M51.5 132.5h1.25M62.5 136.5h1.25M51.5 136h1.25M53.5 134h1.25M59 132h1.25M49 139h1.25M56.5 147h1.25M49.5 135h1.25M62.5 141h1.25M53.5 133.5h1.25M60.5 138.5h1.25M52 136h1.25M54.5 144.5h1.25M63.5 127.5h1.25M55 144h1.25M49.5 135h1.25M52 139.5h1.25M53 131.5h1.25M57 140h1.25M62.5 136h1.25M55.5 134.5h1.25M63 146h1.25M52 124.5h1.25M67 126.5h1.25M47 135h1.25M67 145.5h1.25M55 143h1.25M87 146h1.25M86.5 149h1.25M89.5 136h1.25M82 146.5h1.25M89.5 133.5h1.25M85 136.5h1.25M86.5 138.5h1.25M87.5 139.5h1.25M86 151.5h1.25M87 135.5h1.25M89.5 134h1.25M89 140h1.25M91 133.5h1.25M81.5 146.5h1.25M87 149.5h1.25M90 136.5h1.25M89 132.5h1.25M84.5 139.5h1.25M88 129.5h1.25M90 142.5h1.25M91 131h1.25M89.5 136h1.25M86.5 146h1.25M88 143h1.25M90.5 146.5h1.25M85 134h1.25M89 143h1.25M85.5 142h1.25M85 138.5h1.25M87.5 141.5h1.25M90 138h1.25M88.5 135.5h1.25M90.5 143.5h1.25M86.5 152h1.25M88 139h1.25M87 143h1.25M89 137.5h1.25M90 147h1.25M93 144.5h1.25M87.5 137h1.25M90.5 149h1.25M95.5 139.5h1.25M85.5 136h1.25M90 145.5h1.25M86.5 134.5h1.25M83 145.5h1.25M84 144.5h1.25M88 129.5h1.25M85 146.5h1.25M88.5 139.5h1.25M92 140.5h1.25M88.5 141h1.25M88.5 147h1.25M86.5 147h1.25M93 137.5h1.25M90 134h1.25M88.5 147.5h1.25M91 138h1.25M90 143.5h1.25M88.5 141.5h1.25M94.5 125.5h1.25M86.5 145.5h1.25M88 142.5h1.25M89 139h1.25M88.5 136h1.25M88 145h1.25M91.5 143.5h1.25M87.5 138h1.25M83 139.5h1.25M85.5 136.5h1.25M87 141h1.25M88.5 140.5h1.25M84.5 137.5h1.25M90.5 139.5h1.25M89.5 140.5h1.25M93 150h1.25M96 138.5h1.25M91 133h1.25M90.5 143h1.25M87 149h1.25M89 131.5h1.25M93 141h1.25M91 137h1.25M86 133.5h1.25M85 145h1.25M90 131h1.25M88.5 140.5h1.25M86 142h1.25M86 146h1.25M87.5 141.5h1.25M77.5 137.5h1.25M88 136h1.25M87 134.5h1.25M90.5 134h1.25M87 148h1.25M91.5 139.5h1.25M84 128.5h1.25M89 141h1.25M87 138h1.25M94 144.5h1.25M88 138.5h1.25M86.5 141.5h1.25M87 140h1.25M86.5 144h1.25M88.5 133h1.25M97 141.5h1.25M86.5 132.5h1.25M88 136h1.25M93 143h1.25M86 129.5h1.25M90.5 130h1.25M89.5 140.5h1.25M79.5 138.5h1.25M93 134.5h1.25M81 130h1.25M87.5 141.5h1.25M90.5 141.5h1.25M85 137h1.25M87 139h1.25M84 143.5h1.25M91.5 139h1.25M88.5 132.5h1.25M88.5 135h1.25M85 144.5h1.25M88.5 137h1.25M82.5 140h1.25M93 141.5h1.25M88.5 147h1.25M94.5 143.5h1.25M91 141.5h1.25M89.5 143h1.25M91.5 137.5h1.25M89 142h1.25M88 137h1.25M90.5 138h1.25M83.5 144.5h1.25M83.5 145h1.25M80.5 140.5h1.25M94 139h1.25M92 138h1.25M86 139h1.25M91 148h1.25M92.5 145.5h1.25M88 128.5h1.25M86 149.5h1.25M83 143.5h1.25M89.5 130.5h1.25M89.5 138h1.25M89 139.5h1.25M87.5 135h1.25M82 150.5h1.25M85.5 138.5h1.25M87 138.5h1.25M85.5 143.5h1.25M88 137.5h1.25M86 143h1.25M85 143.5h1.25M92.5 146.5h1.25M90 130.5h1.25M90.5 142h1.25M63 122.5h1.25M54 128.5h1.25M52.5 127.5h1.25M58 117h1.25M54 123h1.25M50 118.5h1.25M56.5 121h1.25M53 121.5h1.25M55 125.5h1.25M60.5 125.5h1.25M54.5 123.5h1.25M59 128h1.25M56 120.5h1.25M58 126h1.25M54 128h1.25M54 124h1.25M58 129h1.25M50.5 126h1.25M60 124h1.25M61.5 122h1.25M50.5 120.5h1.25M53 121h1.25M59 124h1.25M49 129h1.25M57.5 119h1.25M47 124.5h1.25M63 123h1.25M61 129h1.25M60 123h1.25M49.5 122h1.25M63 124h1.25M51.5 123h1.25M55.5 127.5h1.25M53.5 130h1.25M57.5 125.5h1.25M50.5 125.5h1.25M57.5 126.5h1.25M52.5 125h1.25M48.5 121h1.25M68 123h1.25M52.5 127h1.25M55.5 132h1.25M56.5 126.5h1.25M55 127.5h1.25M56.5 132.5h1.25M52.5 125.5h1.25M60 120.5h1.25M53.5 121.5h1.25M47.5 125h1.25M50.5 125h1.25M55.5 127h1.25M62 124.5h1.25M51 126h1.25M52.5 123h1.25M56 128.5h1.25M69.5 128h1.25M54 127h1.25M62.5 121.5h1.25M57 122h1.25M53 124.5h1.25M57 122h1.25M56.5 120.5h1.25M55.5 124.5h1.25M54 119.5h1.25M52.5 125.5h1.25M61 127h1.25M61.5 129.5h1.25M54 127.5h1.25M52 129.5h1.25M61 121h1.25M59.5 127h1.25M52 125h1.25M60.5 129.5h1.25M53.5 129h1.25M51 121.5h1.25M63 126.5h1.25M52.5 129h1.25M59 124.5h1.25M55 116.5h1.25M56.5 127h1.25M56 126.5h1.25M55.5 128.5h1.25M51.5 124.5h1.25M59.5 127.5h1.25M60.5 128h1.25M51 124.5h1.25M45 125h1.25M48 127.5h1.25" stroke="#000" stroke-width="1.25" transform="translate(0,0.5)"/>
<path d="M67 72h1.25M70 89h1.25M53 112h1.25" stroke="#000" stroke-width="1.25" transform="translate(0,0.5)"/>
<path d="M168 95h1.25M168 94.5h1.25M158.5 108h1.25M169 103.5h1.25M164 98.5h1.25M165.5 107h1.25M169.5 99h1.25M165.5 99h1.25M171.5 98.5h1.25M166 104.5h1.25M171 102h1.25M176.5 98h1.25M159.5 92h1.25M165.5 99.5h1.25M171 92.5h1.25M158 97.5h1.25M164 92.5h1.25M164.5 101.5h1.25M164 108.5h1.25M169.5 95h1.25M164 92.5h1.25M177.5 97h1.25M163.5 101.5h1.25M163.5 95.5h1.25M165 102.5h1.25M171 92.5h1.25M156 100h1.25M163.5 96.5h1.25M171 100h1.25M162.5 101h1.25M161 96h1.25M176 97.5h1.25M168.5 97h1.25M163.5 93.5h1.25M159 103.5h1.25M178 101.5h1.25M168.5 96h1.25M165 105h1.25M180 101.5h1.25M168 103h1.25M166.5 95.5h1.25M160.5 97.5h1.25M163.5 88.5h1.25M155.5 102h1.25M171 102h1.25M164 95.5h1.25M165.5 100h1.25M163 103h1.25M161.5 88.5h1.25M169.5 102.5h1.25M164.5 103h1.25M172.5 87.5h1.25M168 93.5h1.25M169.5 99.5h1.25M170.5 97.5h1.25M162 100h1.25M179.5 100.5h1.25M159.5 98.5h1.25M164 104h1.25M166.5 97.5h1.25M166.5 95.5h1.25M168.5 94h1.25M163 99.5h1.25M158 93h1.25M161.5 105h1.25M170.5 99h1.25M171.5 102.5h1.25M162.5 94h1.25M172.5 96h1.25M169.5 92h1.25M165.5 93.5h1.25M169.5 102h1.25M168 102h1.25M162.5 100.5h1.25M169 95h1.25M169.5 100h1.25M168.5 97.5h1.25M165.5 101h1.25M166.5 101h1.25M158 103h1.25M161.5 103h1.25M157.5 96h1.25M167 100.5h1.25M163 95h1.25M169.5 103h1.25M160.5 93.5h1.25M162.5 98h1.25M155.5 94.5h1.25M169.5 95.5h1.25M161 105h1.25M172 106h1.25M165.5 98h1.25M163.5 92.5h1.25M161.5 101.5h1.25M171.5 92h1.25M158 99.5h1.25M174 105.5h1.25M162 99h1.25M174 95.5h1.25M160 104.5h1.25M162 93.5h1.25M175 97h1.25M163.5 101.5h1.25M174.5 102.5h1.25M167.5 100.5h1.25M168.5 100h1.25M156.5 100.5h1.25M158.5 96h1.25M167 98.5h1.25M168 99h1.25M169 106.5h1.25M160 103.5h1.25M176.5 97h1.25M164 98.5h1.25M168.5 96h1.25M164 99h1.25M166.5 105h1.25M163.5 102.5h1.25M170.5 100h1.25M167 95.5h1.25M162 100.5h1.25M167.5 98h1.25M173 99.5h1.25M166.5 98.5h1.25M172 101.5h1.25M168 93.5h1.25M176 93h1.25M168.5 94h1.25M157.5 85.5h1.25M166.5 100h1.25M163.5 96.5h1.25M158 98.5h1.25M164 92h1.25M163 97h1.25M159 103h1.25M158 106.5h1.25M172 96.5h1.25M174.5 103h1.25M172.5 99.5h1.25M160 89.5h1.25M167 98h1.25M162 107h1.25M168.5 92h1.25M165 100.5h1.25M158.5 99.5h1.25M163.5 92.5h1.25M168 101.5h1.25M162.5 97h1.25M156 94.5h1.25M175.5 101.5h1.25M164.5 99h1.25M161 98h1.25M160.5 99.5h1.25M159 99.5h1.25M170 97h1.25M166.5 99.5h1.25M162.5 92.5h1.25M171.5 99h1.25M164 104h1.25M161 96.5h1.25M161.5 94h1.25M165 96h1.25M173.5 96h1.25M172.5 95h1.25M164 99h1.25M160.5 101.5h1.25M162.5 96h1.25M169.5 95.5h1.25M169 103h1.25M170 104.5h1.25M163.5 104h1.25M162.5 91.5h1.25M164.5 107h1.25M160 106h1.25M157.5 102.5h1.25M168.5 96.5h1.25M169 100.5h1.25M171 95h1.25M177 102.5h1.25M161.5 108h1.25M165.5 100.5h1.25M170.5 95h1.25M160.5 98h1.25M159 97.5h1.25M173.5 94h1.25M166 96h1.25M170.5 93.5h1.25M159.5 98h1.25M177 94.5h1.25M156 94h1.25M169.5 102h1.25M165 99.5h1.25M157.5 100h1.25M164.5 95.5h1.25M171 102.5h1.25M162.5 99h1.25M172.5 93.5h1.25M160 103h1.25M169.5 96.5h1.25M160 94h1.25M166.5 94h1.25M167 97.5h1.25M165 103h1.25M162.5 94.5h1.25M165 99.5h1.25M164 91h1.25M169 91h1.25M173.5 97h1.25M160.5 104h1.25M158 98h1.25M162 101h1.25M167 95h1.25M171.5 101.5h1.25M165.5 97h1.25M165 93h1.25M164 97.5h1.25M168.5 97.5h1.25M163 99.5h1.25M171 101h1.25M165 96.5h1.25M173 98.5h1.25M159 99.5h1.25M155.5 96.5h1.25M169 98h1.25M163.5 101.5h1.25M172 94.5h1.25M159 95.5h1.25M159 100.5h1.25M169.5 98h1.25M159.5 92h1.25M164.5 95h1.25M168 93h1.25M162.5 97h1.25M171 101.5h1.25M168 99.5h1.25M169 91h1.25M170.5 97.5h1.25M174 102.5h1.25M172.5 95.5h1.25M182 101h1.25M167.5 96h1.25M167.5 90h1.25M173 100.5h1.25M165.5 104.5h1.25M168.5 100.5h1.25M163 100h1.25M159.5 94h1.25M166.5 96h1.25M158.5 98h1.25M155.5 105.5h1.25M161 95h1.25M174.5 92.5h1.25M164 103h1.25M165.5 92h1.25M166.5 97.5h1.25M172.5 100h1.25M160.5 96h1.25M166 97h1.25M167 100h1.25M159 99.5h1.25M170.5 93.5h1.25M157.5 102h1.25M169 102.5h1.25M175.5 98h1.25M160 99.5h1.25M162 100.5h1.25M170 99h1.25M169 99h1.25M167.5 94h1.25M175.5 96h1.25M163.5 95.5h1.25M164.5 97h1.25M154.5 105h1.25M168 97.5h1.25M165.5 103h1.25M170.5 100h1.25M171 88h1.25M170.5 97.5h1.25M161.5 94.5h1.25M166 91.5h1.25M167.5 95.5h1.25M169.5 91h1.25M167.5 96.5h1.25M159 103.5h1.25M171.5 94.5h1.25M163.5 104.5h1.25M166 95.5h1.25M160 95h1.25M168.5 102h1.25M163 94h1.25M160.5 90.5h1.25M167.5 98h1.25M171 107.5h1.25M172.5 96.5h1.25M163 92.5h1.25M166.5 91.5h1.25M168.5 89h1.25M163.5 98.5h1.25M161 95.5h1.25M169 95.5h1.25M171 90.5h1.25M162.5 105h1.25M159 93.5h1.25M164.5 96h1.25M166 102h1.25M167.5 98.5h1.25M162.5 98.5h1.25M170 94h1.25M162 93h1.25M164.5 98.5h1.25M161.5 93h1.25M160.5 100.5h1.25M161.5 101.5h1.25M161.5 94.5h1.25M169 94.5h1.25M171 88.5h1.25M165 95.5h1.25M162.5 99h1.25M162.5 108.5h1.25M169.5 99h1.25M156 105.5h1.25M168.5 103h1.25M156 90.5h1.25M162.5 100.5h1.25M169.5 103h1.25M160 92.5h1.25M169 93.5h1.25M164.5 107h1.25M162.5 99.5h1.25M166.5 98h1.25M167 100h1.25M165.5 104.5h1.25M170.5 94h1.25M173 98.5h1.25M164 95h1.25M169.5 98h1.25M160.5 94.5h1.25M171.5 96.5h1.25M163 109h1.25M167 101h1.25M166 98h1.25M159.5 101h1.25M166.5 94.5h1.25M164.5 105.5h1.25M167 98.5h1.25M161.5 96h1.25M168 102h1.25M166.5 102h1.25M160.5 96.5h1.25M167 103h1.25M162.5 102.5h1.25M159 103h1.25M172.5 97h1.25M167 101.5h1.25M161.5 96.5h1.25M163 100.5h1.25M170.5 94.5h1.25M161 101h1.25M161.5 97.5h1.25M170 98.5h1.25M171 99h1.25M164.5 95.5h1.25M155 101.5h1.25M169.5 100.5h1.25M171.5 107.5h1.25M155.5 98h1.25M170 97.5h1.25M164.5 103h1.25M168.5 92.5h1.25M173.5 95h1.25M166.5 101h1.25M156 105.5h1.25M169 100h1.25M170 97.5h1.25M169.5 101h1.25M170.5 94h1.25M168.5 97.5h1.25M169.5 91h1.25M166 98.5h1.25M167 99.5h1.25M166 100h1.25M168 96h1.25M173.5 98.5h1.25M162 101h1.25M157 103h1.25M163.5 98.5h1.25M165.5 100.5h1.25M161.5 96.5h1.25M167 95.5h1.25M165 97.5h1.25M163 95h1.25M160 96.5h1.25M158 93.5h1.25M180 98h1.25M170 99.5h1.25M169 98.5h1.25M170.5 99h1.25M166.5 93h1.25M170.5 97.5h1.25M165 100h1.25M166.5 98h1.25M172 94.5h1.25M172 104.5h1.25M159 100h1.25M158.5 99.5h1.25M173 95.5h1.25M173.5 99.5h1.25M180 96h1.25M160.5 104h1.25M170.5 101h1.25M161.5 99h1.25M162.5 105h1.25M169 96h1.25M161 92.5h1.25M162.5 98.5h1.25M168 103h1.25M163 104h1.25M154.5 98.5h1.25M169.5 96.5h1.25M167 102h1.25M163 99.5h1.25M172 94h1.25M172 98.5h1.25M158 100.5h1.25M169.5 98h1.25M168 101h1.25M166.5 99.5h1.25M171 102h1.25M166 91.5h1.25M159 97.5h1.25M172.5 101h1.25M176 101h1.25M168.5 97.5h1.25M173 93.5h1.25M168 98.5h1.25M163.5 103h1.25M170 100.5h1.25M164.5 93h1.25M159 88.5h1.25M158.5 100.5h1.25M174 94.5h1.25M173 107h1.25M172.5 106h1.25M166 97h1.25M168 103h1.25M169 100h1.25M171 95.5h1.25M170.5 91h1.25M174.5 105h1.25M179.5 95.5h1.25M163 95h1.25M158 89.5h1.25M171 98h1.25M165.5 91.5h1.25M167 107.5h1.25M167.5 102.5h1.25M160 103.5h1.25M166 99.5h1.25M168.5 98h1.25M170 98.5h1.25M164 94.5h1.25M160 103h1.25M172.5 99h1.25M165.5 97h1.25M167.5 105h1.25M168 97h1.25M172.5 102.5h1.25M156.5 97.5h1.25M173.5 101h1.25M166 101h1.25M160 94.5h1.25M166 100h1.25M175.5 99h1.25M168.5 106h1.25M163.5 98h1.25M167 100.5h1.25M167.5 102.5h1.25M160 93.5h1.25M166 92.5h1.25M175.5 96h1.25M163.5 101.5h1.25M168 101.5h1.25M166 93.5h1.25M165.5 96.5h1.25M157 98h1.25M171.5 95h1.25M162 96h1.25M170.5 90.5h1.25M169 99.5h1.25M165.5 95h1.25M164.5 107h1.25M167.5 97h1.25M170.5 93.5h1.25M172.5 98.5h1.25M180 108.5h1.25M169.5 100.5h1.25M164 101.5h1.25M170 93h1.25M157.5 101h1.25M163 99.5h1.25M166.5 99.5h1.25M164.5 101.5h1.25M174 105.5h1.25M164 99.5h1.25M166.5 92.5h1.25M157 98h1.25M168.5 102h1.25M162 101.5h1.25M165 97h1.25M171.5 91.5h1.25M165.5 102h1.25M165 95.5h1.25M159 91h1.25M167 94h1.25M165 100h1.25M165.5 99h1.25M174 100h1.25M167 98h1.25M174 104h1.25M162.5 100.5h1.25M165 97h1.25M160.5 106h1.25M169 90h1.25M171.5 106h1.25M166.5 98.5h1.25M166.5 102.5h1.25M162.5 100.5h1.25M157.5 103.5h1.25M159.5 97h1.25M168 103h1.25M161.5 96h1.25M174 96h1.25M161 96.5h1.25M169.5 101.5h1.25M171.5 100.5h1.25M163.5 100.5h1.25M170 94h1.25M162 98.5h1.25M175 97.5h1.25M166 99h1.25M168 101.5h1.25M160 86.5h1.25M170 90h1.25M167.5 100.5h1.25M169.5 94.5h1.25M167.5 101.5h1.25M169.5 104h1.25M160 96.5h1.25M164 98.5h1.25M171.5 102h1.25M166.5 106h1.25M169 94h1.25M173 93h1.25M158.5 97h1.25M163 98h1.25M165.5 95.5h1.25M161.5 101.5h1.25M167.5 97.5h1.25M161 98.5h1.25M160 93h1.25M171.5 101.5h1.25M164 105.5h1.25M165 101.5h1.25M168.5 99h1.25M166.5 105h1.25M171 91h1.25M169 89.5h1.25M160 100.5h1.25M160 104h1.25M164 101.5h1.25M167.5 102h1.25M173.5 92.5h1.25M165.5 99.5h1.25M172 101h1.25M164.5 93h1.25M157 95h1.25M167 99.5h1.25M174 100h1.25M170.5 93h1.25M167.5 96.5h1.25M162.5 104h1.25M166 98.5h1.25M166 93h1.25M157 107h1.25M166 99h1.25M167 97h1.25M164.5 95h1.25M168 98h1.25M171.5 105.5h1.25M160 101.5h1.25M163.5 108h1.25M167 103h1.25M163 104h1.25M161.5 93.5h1.25M163.5 99.5h1.25M160.5 98.5h1.25M165.5 94h1.25M176.5 108h1.25M167.5 101h1.25M169.5 102h1.25M161.5 100h1.25M176 98h1.25M164.5 95h1.25M163.5 89.5h1.25M166 103.5h1.25M168 99.5h1.25M166.5 99h1.25M160 91h1.25M176.5 101h1.25M163.5 103h1.25M165.5 96h1.25M171 97.5h1.25M165.5 98.5h1.25M164.5 100.5h1.25M174.5 103h1.25M168 99.5h1.25M162 106.5h1.25M155 94.5h1.25M165 99.5h1.25M167.5 97h1.25M177 104h1.25M155.5 95h1.25M158.5 105h1.25M165 100.5h1.25M166 102h1.25M168 112h1.25M161 109.5h1.25M169.5 105h1.25M170.5 105.5h1.25M171.5 108h1.25M165 116h1.25M173 107h1.25M165 110.5h1.25M167.5 107h1.25M165.5 115.5h1.25M176 115h1.25M161 106.5h1.25M168.5 98.5h1.25M173 102.5h1.25M173 105.5h1.25M169.5 99.5h1.25M159.5 101.5h1.25M164 109.5h1.25M171.5 103h1.25M158.5 107h1.25M160.5 101.5h1.25M164 113h1.25M168 97h1.25M177.5 100.5h1.25M167.5 103.5h1.25M172 109.5h1.25M173 108.5h1.25M165.5 114h1.25M156 101h1.25M158.5 106.5h1.25M163.5 103h1.25M170.5 110.5h1.25M164 100.5h1.25M178.5 109.5h1.25M163.5 108.5h1.25M168.5 104.5h1.25M171 108.5h1.25M164 113.5h1.25M164.5 114.5h1.25M168 106.5h1.25M173.5 106h1.25M170 115h1.25M165 105h1.25M171.5 113h1.25M155 110.5h1.25M173.5 105.5h1.25M173 106.5h1.25M163.5 106.5h1.25M171.5 106.5h1.25M164 108.5h1.25M171.5 98h1.25M173.5 115.5h1.25M161.5 108h1.25M169.5 108.5h1.25M177.5 109h1.25M164 106h1.25M169 104.5h1.25M163.5 105.5h1.25M176.5 111.5h1.25M160.5 110.5h1.25M170.5 110h1.25M170.5 109.5h1.25M163.5 107.5h1.25M166 101h1.25M168 103.5h1.25M171 120h1.25M179.5 122h1.25M165.5 106.5h1.25M171.5 104h1.25M171 106h1.25M169.5 106.5h1.25M176.5 114.5h1.25M172.5 102.5h1.25M174.5 106.5h1.25M160 110.5h1.25M173.5 101h1.25M172 107.5h1.25M166.5 111.5h1.25M166 105.5h1.25M174 96h1.25M173.5 102h1.25M174.5 103h1.25M175.5 100h1.25M178 109.5h1.25M167 107.5h1.25M173.5 108h1.25M171.5 109.5h1.25M162 117.5h1.25M167 110.5h1.25M169.5 109h1.25M177.5 111h1.25M166.5 109.5h1.25M166.5 103h1.25M174.5 104h1.25M175 109.5h1.25M172.5 109h1.25M166.5 120.5h1.25M166 104h1.25M170.5 116h1.25M161 106h1.25M173 113.5h1.25M171 107h1.25M169 105.5h1.25M170.5 109h1.25M169.5 108h1.25M172 109h1.25M164 116h1.25M169.5 107.5h1.25M167 116.5h1.25M168.5 110.5h1.25M163.5 107h1.25M164.5 104.5h1.25M162 107h1.25M160.5 112h1.25M172 104h1.25M170 105h1.25M169 110.5h1.25M158 96h1.25M170 110.5h1.25M167 105.5h1.25M163 95h1.25M175 96.5h1.25M168 107h1.25M168.5 101.5h1.25M162 110h1.25M160.5 108h1.25M159.5 108.5h1.25M169.5 108h1.25M169.5 102h1.25M163.5 106h1.25M174.5 105h1.25M166.5 113.5h1.25M167.5 112h1.25M160.5 112.5h1.25M166.5 110h1.25M170 98h1.25M172.5 105.5h1.25M172.5 106h1.25M167.5 99.5h1.25M160 112.5h1.25M161.5 108.5h1.25M166 101.5h1.25M165 106.5h1.25M169.5 105.5h1.25M163 114.5h1.25M174 108h1.25M161 109.5h1.25M163.5 114.5h1.25M166 104.5h1.25M164.5 103h1.25M166 101h1.25M167.5 111.5h1.25M169 103h1.25M168.5 105.5h1.25M158.5 107h1.25M171 108.5h1.25M164.5 104h1.25M166 109.5h1.25M167 113h1.25M170.5 112h1.25M164.5 109.5h1.25M166.5 109.5h1.25M168 119.5h1.25M160 109.5h1.25M164 109.5h1.25M168 115h1.25M166 104.5h1.25M168.5 109h1.25M155 117h1.25M161.5 115h1.25M173.5 114.5h1.25M168 104h1.25M162.5 114h1.25M164.5 110h1.25M165 105h1.25M172 103.5h1.25M166 106.5h1.25M167.5 107.5h1.25M161.5 106h1.25M165 117.5h1.25M171 107.5h1.25M168 106.5h1.25M176 107h1.25M161.5 127.5h1.25M162.5 105h1.25M161.5 110h1.25M163 104h1.25M172 115h1.25M168.5 102.5h1.25M169.5 105h1.25M168.5 109.5h1.25M160.5 112.5h1.25M167 107.5h1.25M161 112.5h1.25M163 108.5h1.25M161.5 102h1.25M160 100h1.25M164.5 114.5h1.25M172.5 103.5h1.25M162.5 115.5h1.25M171 108h1.25M165 106h1.25M178 115.5h1.25M165.5 111.5h1.25M170 105h1.25M162 105h1.25M167.5 114h1.25M168 108h1.25M165.5 114h1.25M175.5 109h1.25M165.5 109.5h1.25M170 113.5h1.25M172 104h1.25M166 106h1.25M170.5 102.5h1.25M157 108h1.25M164 105.5h1.25M166 103.5h1.25M167 102h1.25M160.5 110.5h1.25M165 113h1.25M168 104.5h1.25M163.5 102.5h1.25M166.5 110.5h1.25M166.5 108.5h1.25M161.5 113.5h1.25M170 112.5h1.25M160.5 106.5h1.25M162.5 115.5h1.25M165.5 118.5h1.25M169 105h1.25M173 116h1.25M165.5 105h1.25M166.5 102h1.25M161 97h1.25M163.5 101.5h1.25M167.5 109h1.25M172 109h1.25M165.5 114h1.25M163 97.5h1.25M159.5 105.5h1.25M169.5 112.5h1.25M161 113h1.25M168.5 110.5h1.25M161 106.5h1.25M155 108h1.25M164.5 111h1.25M172.5 103h1.25M171.5 113h1.25M165 116.5h1.25M162.5 101h1.25M167 116h1.25M169.5 99.5h1.25M164 113.5h1.25M163 107h1.25M161.5 117h1.25M176 101.5h1.25M157 110.5h1.25M169 108h1.25M167.5 106.5h1.25M172 112h1.25M174 112h1.25M164 106h1.25M165.5 108.5h1.25M163.5 104h1.25M165.5 105.5h1.25M166 115.5h1.25M174 105.5h1.25M167.5 106.5h1.25M162.5 110.5h1.25M156.5 108.5h1.25M165 101.5h1.25M169 112h1.25M167.5 109.5h1.25M161.5 109.5h1.25M174 102h1.25M178 99h1.25M171 104.5h1.25M167.5 107.5h1.25M166.5 112h1.25M165 108.5h1.25M172.5 107h1.25M155 105h1.25M163.5 103h1.25M169.5 108h1.25M162 104.5h1.25M158.5 105h1.25M176.5 99h1.25M176.5 107h1.25M165 104.5h1.25M159.5 110.5h1.25M164.5 104h1.25M166 115h1.25M164 106.5h1.25M173.5 102.5h1.25M171 119h1.25M166 99.5h1.25M171.5 106h1.25M173.5 110h1.25M168 103h1.25M172.5 109.5h1.25M169 110h1.25M169 108.5h1.25M166 99.5h1.25M163.5 106h1.25M172.5 113h1.25M161.5 105.5h1.25M163.5 109h1.25M168 110.5h1.25M163 106h1.25M178 102.5h1.25M174.5 111.5h1.25M172 108.5h1.25M167 112h1.25M166 108h1.25M165.5 110h1.25M166.5 106.5h1.25M170.5 109h1.25M160 108h1.25M174.5 110h1.25M175 100h1.25M169 98.5h1.25M170.5 105h1.25M166 110h1.25M162.5 104.5h1.25M165 111.5h1.25M174 104h1.25M162 108h1.25M160.5 101h1.25M169.5 105.5h1.25M175 103.5h1.25M174.5 113.5h1.25M165 109h1.25M167 104h1.25M174 96.5h1.25M170.5 108h1.25M168 100.5h1.25M170 105.5h1.25M167.5 112h1.25M162 94h1.25M168.5 109h1.25M165.5 104.5h1.25M162 108.5h1.25M170 106h1.25M174 107h1.25M170.5 107.5h1.25M167 113h1.25M171 114h1.25M173.5 108.5h1.25M171.5 111h1.25M170 112.5h1.25M168 109.5h1.25M170.5 104h1.25M172 113.5h1.25M157 112h1.25M164 104.5h1.25M171 104h1.25M169 105.5h1.25M161 117h1.25M163.5 102.5h1.25M165.5 117h1.25M159 114h1.25M163.5 109.5h1.25M167 113.5h1.25M163.5 117.5h1.25M165.5 101.5h1.25M168.5 112.5h1.25M171 113h1.25M166.5 115.5h1.25M172 104h1.25M165.5 105h1.25M166 109.5h1.25M165 107.5h1.25M172 121.5h1.25M175.5 106.5h1.25M165.5 115.5h1.25M166 115h1.25M164 121.5h1.25M175 114.5h1.25M172 110h1.25M171 125h1.25M173 115.5h1.25M164.5 117.5h1.25M175 120h1.25M169.5 120.5h1.25M163.5 110h1.25M165.5 116.5h1.25M170 118.5h1.25M184 116.5h1.25M165.5 124h1.25M169 126h1.25M178 122h1.25M172.5 112.5h1.25M175 119.5h1.25M172 122.5h1.25M169.5 115h1.25M166.5 114.5h1.25M173.5 118.5h1.25M169 116.5h1.25M168 114h1.25M169.5 114.5h1.25M170 117.5h1.25M171 123h1.25M171 119h1.25M173 116.5h1.25M168.5 120h1.25M162 116h1.25M179 119.5h1.25M169.5 121h1.25M168 117h1.25M167.5 122.5h1.25M177 116.5h1.25M168 120.5h1.25M163.5 119h1.25M174 123h1.25M180.5 117.5h1.25M169 122h1.25M170.5 123.5h1.25M169 112h1.25M165 112h1.25M169.5 123.5h1.25M171.5 117h1.25M159 118.5h1.25M165.5 116h1.25M169 128h1.25M166.5 115.5h1.25M161.5 122h1.25M164 111h1.25M166 119.5h1.25M162.5 118h1.25M160.5 123h1.25M162.5 118h1.25M163.5 116h1.25M170 116h1.25M168 123h1.25M181 121.5h1.25M168.5 119h1.25M162.5 114h1.25M163 120h1.25M168 117h1.25M180 118.5h1.25M172.5 120h1.25M168.5 120.5h1.25M161 118.5h1.25M173.5 125h1.25M167.5 124h1.25M172.5 117h1.25M160.5 119.5h1.25M165.5 123h1.25M170.5 112.5h1.25M166 120h1.25M175 108.5h1.25M171 113h1.25M167 115h1.25M173 119.5h1.25M177 123.5h1.25M165 109.5h1.25M167 116h1.25M169 115.5h1.25M165 121.5h1.25M169.5 115.5h1.25M170.5 115h1.25M168.5 122h1.25M166 113h1.25M169 116.5h1.25M177 118h1.25M165 113.5h1.25M157 115h1.25M168.5 114.5h1.25M170.5 121.5h1.25M171.5 115.5h1.25M164.5 121.5h1.25M165 115.5h1.25M165.5 123.5h1.25M159 122.5h1.25M172.5 124.5h1.25M170.5 127h1.25M172 114.5h1.25M161 118.5h1.25M170.5 119.5h1.25M173 122.5h1.25M156 118h1.25M168 120.5h1.25M164 122.5h1.25M168.5 123.5h1.25M165 117.5h1.25M161.5 114.5h1.25M166.5 116h1.25M169.5 120h1.25M168 118h1.25M162.5 116.5h1.25M167 115h1.25M172 120.5h1.25M164 116h1.25M167.5 118.5h1.25M175.5 117h1.25M165 119.5h1.25M171 122.5h1.25M163 117h1.25M169 118.5h1.25M160 119.5h1.25M175 120.5h1.25M167 113.5h1.25M191.5 98h1.25M192.5 95h1.25M188.5 100h1.25M199.5 98h1.25M198.5 98.5h1.25M203 98h1.25M195.5 93h1.25M195.5 96.5h1.25M193.5 104.5h1.25M199 102.5h1.25M197 94.5h1.25M196 102.5h1.25M192 97.5h1.25M195.5 102.5h1.25M196 101.5h1.25M198.5 97h1.25M196.5 93h1.25M193.5 100.5h1.25M197.5 100h1.25M196 102h1.25M199 99h1.25M189 111h1.25M206.5 95h1.25M203 97.5h1.25M201.5 95h1.25M196 97h1.25M199.5 102.5h1.25M197 89h1.25M196.5 94.5h1.25M203.5 96.5h1.25M186.5 98h1.25M190 100.5h1.25M190.5 100.5h1.25M188.5 103.5h1.25M196 101.5h1.25M195 107h1.25M195 101.5h1.25M195.5 103.5h1.25M189.5 92h1.25M198.5 95.5h1.25M191.5 100.5h1.25M196 88h1.25M196.5 96h1.25M191 101.5h1.25M198.5 104h1.25M193.5 94.5h1.25M207.5 102h1.25M199 94.5h1.25M193.5 101.5h1.25M182 92.5h1.25M197 90h1.25M199 97h1.25M187.5 98h1.25M195.5 97.5h1.25M198 91.5h1.25M193 100h1.25M196.5 99h1.25M208.5 96h1.25M192.5 100.5h1.25M194.5 102h1.25M194.5 105.5h1.25M192.5 97h1.25M199.5 98.5h1.25M200 101.5h1.25M199.5 93h1.25M200 98.5h1.25M197.5 95h1.25M198 102h1.25M197.5 100.5h1.25M197 97.5h1.25M198.5 98h1.25M195.5 100.5h1.25M200.5 106h1.25M201.5 99h1.25M192.5 100h1.25M191.5 94.5h1.25M187.5 104h1.25M201.5 94h1.25M197 100.5h1.25M203.5 104.5h1.25M192 100h1.25M189 98.5h1.25M196.5 97.5h1.25M191 97.5h1.25M206 96h1.25M196.5 102.5h1.25M200 97h1.25M203 105h1.25M197.5 100h1.25M196 101h1.25M197.5 103.5h1.25M188.5 103h1.25M196 105h1.25M202 98h1.25M196.5 97h1.25M191.5 98h1.25M200 98h1.25M190 98.5h1.25M191.5 99h1.25M199.5 102.5h1.25M201.5 95h1.25M184.5 98.5h1.25M195 101.5h1.25M199 97.5h1.25M196.5 102h1.25M193 89.5h1.25M197.5 99h1.25M193.5 104h1.25M195.5 95.5h1.25M197 106h1.25M191 102h1.25M190 101.5h1.25M194 96.5h1.25M199 109h1.25M188 97.5h1.25M192 103.5h1.25M196.5 94.5h1.25M200 101h1.25M195.5 102h1.25M197.5 102.5h1.25M191 101h1.25M200 95h1.25M212 105h1.25M197 96h1.25M195 98.5h1.25M198 93h1.25M191 104h1.25M190 107h1.25M195.5 92.5h1.25M192 105.5h1.25M197 94h1.25M202 100.5h1.25M193 94h1.25M189 98.5h1.25M198.5 105h1.25M203 103h1.25M189.5 96h1.25M198.5 97.5h1.25M196.5 96.5h1.25M196 103h1.25M198.5 92.5h1.25M194 93.5h1.25M188.5 102.5h1.25M196 109h1.25M199 101h1.25M194 95.5h1.25M199.5 96.5h1.25M203.5 103h1.25M200.5 99.5h1.25M192 104h1.25M193.5 99h1.25M200 97.5h1.25M194.5 93h1.25M201.5 106h1.25M192.5 104h1.25M205.5 106.5h1.25M201.5 96.5h1.25M190 96h1.25M199 105h1.25M203 98.5h1.25M199 97.5h1.25M188.5 96.5h1.25M202 102.5h1.25M197.5 99.5h1.25M208 101.5h1.25M195.5 93.5h1.25M194 101h1.25M194.5 101.5h1.25M194.5 111h1.25M195 103h1.25M193.5 100.5h1.25M201 100h1.25M189 105.5h1.25M200 95.5h1.25M194.5 101.5h1.25M193 101.5h1.25M190.5 99.5h1.25M200 97h1.25M197 100.5h1.25M203 104h1.25M197.5 100h1.25M194.5 97h1.25M194 96.5h1.25M200 97.5h1.25M192 95h1.25M195.5 100.5h1.25M193 94h1.25M197 102.5h1.25M191 96.5h1.25M187 108.5h1.25M191 93h1.25M197 97h1.25M199.5 94.5h1.25M196.5 99h1.25M198 106h1.25M195.5 95h1.25M198 95.5h1.25M200 99.5h1.25M196.5 91.5h1.25M188.5 96h1.25M195.5 89.5h1.25M193.5 99h1.25M193 102h1.25M197 105h1.25M192.5 100h1.25M183 95h1.25M200 96.5h1.25M193.5 93h1.25M203.5 103.5h1.25M195.5 99.5h1.25M195.5 92.5h1.25M197.5 96h1.25M192 103h1.25M196 94h1.25M198.5 98h1.25M197.5 97.5h1.25M197 99.5h1.25M191.5 107.5h1.25M197 88h1.25M200.5 92h1.25M197.5 105h1.25M194.5 98h1.25M201 101h1.25M198.5 97.5h1.25M196 90h1.25M194 97.5h1.25M198.5 100.5h1.25M189.5 95h1.25M185.5 97.5h1.25M202.5 99h1.25M192 98.5h1.25M194.5 93h1.25M191 97h1.25M199 95.5h1.25M192 92h1.25M195 93h1.25M203.5 98h1.25M181 103.5h1.25M196.5 97.5h1.25M196 95h1.25M191 94.5h1.25M194.5 99.5h1.25M204 99.5h1.25M199 102h1.25M191.5 93.5h1.25M191.5 104.5h1.25M189 100.5h1.25M191.5 109h1.25M189 92.5h1.25M193 93h1.25M199 102h1.25M200 107h1.25M191 98.5h1.25M193.5 95h1.25M197 107.5h1.25M191.5 107.5h1.25M197 96h1.25M190 102h1.25M196.5 97.5h1.25M193 97.5h1.25M194 99h1.25M187 99.5h1.25M200.5 101.5h1.25M189.5 98.5h1.25M197 103h1.25M200 102.5h1.25M195 101h1.25M195 97h1.25M188.5 99.5h1.25M195 91.5h1.25M202 96.5h1.25M197.5 99.5h1.25M195 99h1.25M200 95h1.25M189.5 102.5h1.25M198 95h1.25M200.5 93.5h1.25M196.5 100h1.25M196 100.5h1.25M193.5 91.5h1.25M193 101h1.25M196 98.5h1.25M194.5 103h1.25M193.5 99.5h1.25M197.5 94.5h1.25M199.5 100.5h1.25M198.5 92.5h1.25M201.5 97h1.25M196 100h1.25M200 96h1.25M197.5 98.5h1.25M195.5 98.5h1.25M191.5 98h1.25M201.5 94h1.25M188.5 104.5h1.25M189.5 97h1.25M193 99h1.25M194 100h1.25M193.5 93.5h1.25M206.5 98.5h1.25M198 93h1.25M192.5 96.5h1.25M200.5 95h1.25M198 97h1.25M193 101.5h1.25M197.5 94h1.25M199 93h1.25M198 98h1.25M206 100.5h1.25M205.5 101h1.25M194 101.5h1.25M189 93.5h1.25M195.5 105h1.25M200 92.5h1.25M186.5 99.5h1.25M188.5 93.5h1.25M193 94h1.25M192 97.5h1.25M200 95.5h1.25M196 100h1.25M198 98h1.25M192.5 98h1.25M189 98h1.25M201.5 100.5h1.25M182 100.5h1.25M198.5 97h1.25M199 101h1.25M195 97h1.25M190.5 102.5h1.25M185.5 100h1.25M194 98.5h1.25M194 98h1.25M191.5 94.5h1.25M203.5 97h1.25M202 101.5h1.25M196.5 99.5h1.25M195.5 102.5h1.25M195.5 96.5h1.25M199 98.5h1.25M198 95.5h1.25M195.5 102.5h1.25M200 94h1.25M195.5 94h1.25M199.5 94.5h1.25M187.5 93.5h1.25M190.5 108h1.25M193 101.5h1.25M192.5 100h1.25M201.5 102h1.25M202 102h1.25M194.5 100.5h1.25M196.5 96h1.25M205.5 94h1.25M190 96h1.25M201 96.5h1.25M197 95.5h1.25M201.5 99.5h1.25M196 104h1.25M192 104.5h1.25M199.5 93.5h1.25M195 100.5h1.25M191 95h1.25M202.5 110h1.25M203.5 101h1.25M196.5 94.5h1.25M199.5 96.5h1.25M196 99h1.25M200 101h1.25M186 96h1.25M200.5 104h1.25M199.5 102.5h1.25M191 98.5h1.25M196.5 102.5h1.25M196.5 96.5h1.25M200.5 99h1.25M199 92h1.25M196.5 101h1.25M202.5 99h1.25M189 93.5h1.25M201 103h1.25M195 95h1.25M201 96.5h1.25M196 92.5h1.25M184 99.5h1.25M204.5 97h1.25M190.5 104h1.25M191.5 89.5h1.25M193.5 99.5h1.25M192 98.5h1.25M196 98.5h1.25M202.5 99h1.25M198.5 104h1.25M194.5 102h1.25M193.5 98.5h1.25M195.5 102.5h1.25M200 95.5h1.25M191.5 94h1.25M191.5 95.5h1.25M195.5 95h1.25M204 103.5h1.25M205.5 100.5h1.25M199 97.5h1.25M201.5 101h1.25M195.5 100.5h1.25M204.5 105.5h1.25M196.5 90.5h1.25M183 98.5h1.25M196 98.5h1.25M198 101h1.25M192.5 96h1.25M203.5 108h1.25M197 99.5h1.25M200.5 100.5h1.25M197 99h1.25M203 96h1.25M199 94h1.25M199 100.5h1.25M196 100.5h1.25M189 95.5h1.25M194.5 99.5h1.25M196.5 96h1.25M197 100.5h1.25M208 100h1.25M198 100.5h1.25M195 97.5h1.25M200 98h1.25M194.5 99h1.25M204 94.5h1.25M195 100.5h1.25M199.5 106h1.25M205.5 96.5h1.25M200 107h1.25M202 95.5h1.25M194 99.5h1.25M200.5 95h1.25M200.5 96.5h1.25M199.5 102h1.25M199 103.5h1.25M197 100h1.25M202.5 97h1.25M194 93.5h1.25M204.5 96h1.25M201 99.5h1.25M199 97.5h1.25M196 103h1.25M197 95h1.25M196 93.5h1.25M199 102.5h1.25M197.5 105h1.25M203.5 98h1.25M201 98h1.25M197 98h1.25M197 94h1.25M195.5 93.5h1.25M203.5 97h1.25M196 92.5h1.25M193 101h1.25M187 100h1.25M194.5 107.5h1.25M199.5 102.5h1.25M198 103.5h1.25M191.5 106h1.25M200.5 92.5h1.25M198.5 99.5h1.25M203.5 98h1.25M197 101h1.25M196 106.5h1.25M199 96.5h1.25M198 98.5h1.25M204.5 95h1.25M189 108h1.25M197 104h1.25M197 97.5h1.25M199.5 100h1.25M194 91.5h1.25M198.5 105h1.25M202.5 94h1.25M203.5 94h1.25M195 100h1.25M197.5 96h1.25M195.5 100h1.25M197.5 102.5h1.25M201.5 100h1.25M194 102.5h1.25M197 96.5h1.25M186.5 100.5h1.25M200 104h1.25M192.5 99h1.25M189 100h1.25M198 96h1.25M199.5 103.5h1.25M202 96h1.25M197.5 104h1.25M196.5 98h1.25M196 103h1.25M196 92h1.25M200 111.5h1.25M199.5 105.5h1.25M198.5 98.5h1.25M192.5 102h1.25M197.5 103.5h1.25M198 102.5h1.25M188 101h1.25M200 101h1.25M203.5 99.5h1.25M200 91.5h1.25M200.5 102.5h1.25M193 90.5h1.25M192.5 99h1.25M204.5 94.5h1.25M199 102h1.25M199.5 96.5h1.25M200 93.5h1.25M188 99h1.25M192.5 89.5h1.25M202.5 102.5h1.25M199.5 95.5h1.25M193.5 92.5h1.25M196.5 98h1.25M196.5 105h1.25M194.5 98.5h1.25M190 105.5h1.25M202.5 89.5h1.25M186.5 106h1.25M205.5 102h1.25M203.5 93.5h1.25M197 103h1.25M196 95h1.25M196 95.5h1.25M205.5 97.5h1.25M193.5 91h1.25M203.5 98.5h1.25M199.5 98.5h1.25M198 99.5h1.25M194 101h1.25M193 100.5h1.25M198.5 102.5h1.25M192.5 109h1.25M197.5 94h1.25M189 99.5h1.25M196 101.5h1.25M189.5 99h1.25M198.5 103h1.25M188.5 96.5h1.25M192.5 98.5h1.25M195 99h1.25M192 100.5h1.25M189 98.5h1.25M206 94.5h1.25M204.5 104.5h1.25M194 101h1.25M199 94.5h1.25M186.5 97.5h1.25M190 101h1.25M188 107.5h1.25M207.5 95.5h1.25M186.5 100h1.25M193.5 98h1.25M188.5 92.5h1.25M198.5 93h1.25M186.5 101h1.25M199 97h1.25M191 105.5h1.25M194.5 101.5h1.25M190 92.5h1.25M197 105h1.25M191.5 96h1.25M194 104.5h1.25M196 100.5h1.25M200.5 102h1.25M204 93h1.25M197.5 100.5h1.25M190.5 99.5h1.25M197.5 97h1.25M193 104h1.25M197.5 98.5h1.25M197.5 96.5h1.25M197.5 101h1.25M192.5 98.5h1.25M196 99.5h1.25M194.5 98.5h1.25M194 95h1.25M194 92h1.25M199 100h1.25M192 94.5h1.25M192 93.5h1.25M191 101h1.25M194.5 102.5h1.25M198.5 100.5h1.25M190 106.5h1.25M195.5 89h1.25M195 97h1.25M199 94h1.25M197 97h1.25M202 97.5h1.25M198.5 103h1.25M192.5 100h1.25M196.5 105.5h1.25M199 95.5h1.25M205 96.5h1.25M196 99.5h1.25M199 96h1.25M195 97h1.25M197 95h1.25M194 92.5h1.25M204.5 101h1.25M202 95.5h1.25M188 91.5h1.25M190.5 101h1.25M194.5 96.5h1.25M190.5 106h1.25M190 97.5h1.25M195 98h1.25M195.5 100.5h1.25M209 103.5h1.25M198 94h1.25M203.5 105.5h1.25M193.5 101h1.25M185.5 94.5h1.25M201.5 91.5h1.25M199.5 103.5h1.25M189.5 98.5h1.25M203.5 109.5h1.25M197 105.5h1.25M192.5 96h1.25M198.5 102.5h1.25M197.5 104h1.25M201 105h1.25M200.5 100h1.25M198 99h1.25M198 104.5h1.25M202 105.5h1.25M202 103.5h1.25M193.5 98h1.25M195 96.5h1.25M185.5 102.5h1.25M192 96h1.25M193.5 106h1.25M199 106h1.25M197 103h1.25M201 108.5h1.25M197.5 100h1.25M192 109.5h1.25M186 110h1.25M197.5 105.5h1.25M200.5 111.5h1.25M202 110h1.25M199.5 110.5h1.25M190.5 108.5h1.25M196 109h1.25M197 113h1.25M196.5 105h1.25M199 98h1.25M189.5 114.5h1.25M189.5 110h1.25M191.5 112h1.25M198 113.5h1.25M199 114.5h1.25M192 116h1.25M194.5 112.5h1.25M195.5 114h1.25M198.5 109.5h1.25M199.5 108.5h1.25M196.5 116h1.25M199.5 109h1.25M194.5 114.5h1.25M193 108.5h1.25M191 105.5h1.25M196 110.5h1.25M196.5 113.5h1.25M188 119h1.25M199.5 111h1.25M192.5 113.5h1.25M193 108.5h1.25M197.5 111.5h1.25M199 104.5h1.25M191 115.5h1.25M200.5 112h1.25M199 111.5h1.25M188 109h1.25M201.5 109.5h1.25M200.5 111h1.25M195 105.5h1.25M196.5 114.5h1.25M189.5 113.5h1.25M188.5 119h1.25M196.5 110h1.25M195 114h1.25M194 116h1.25M207 109.5h1.25M193.5 113.5h1.25M194 107.5h1.25M198 114.5h1.25M192 113h1.25M199.5 109h1.25M200.5 110h1.25M195.5 99.5h1.25M186 109.5h1.25M200.5 104h1.25M195.5 117h1.25M201 100.5h1.25M200 107.5h1.25M199.5 109.5h1.25M192.5 119h1.25M185 103.5h1.25M202 108h1.25M198 103.5h1.25M200 104.5h1.25M190.5 102h1.25M201 107.5h1.25M199.5 110h1.25M195 102h1.25M197.5 111h1.25M190.5 105h1.25M192 97.5h1.25M197.5 111h1.25M195.5 109h1.25M197 114h1.25M200 113h1.25M192.5 110.5h1.25M196 102.5h1.25M198 99.5h1.25M191 113.5h1.25M199 98.5h1.25M198 108.5h1.25M195 102.5h1.25M194.5 111.5h1.25M204.5 112.5h1.25M192 111.5h1.25M205.5 107h1.25M190.5 113.5h1.25M193.5 108.5h1.25M197.5 107h1.25M196 111.5h1.25M199.5 109.5h1.25M199.5 110h1.25M193 117h1.25M198 111h1.25M201 107.5h1.25M190 99.5h1.25M194.5 113.5h1.25M198 111h1.25M194 101h1.25M195 99h1.25M192 110.5h1.25M193 100.5h1.25M198 110h1.25M196.5 98.5h1.25M199 106h1.25M198 113h1.25M197.5 114h1.25M199 105.5h1.25M193 117.5h1.25M206 106.5h1.25M197.5 110.5h1.25M200 100.5h1.25M200 109.5h1.25M197.5 106.5h1.25M203 107h1.25M205 116.5h1.25M194.5 114h1.25M201.5 107.5h1.25M187 107.5h1.25M198.5 120.5h1.25M203 114h1.25M198.5 114h1.25M193 105h1.25M191 103.5h1.25M196.5 119h1.25M190.5 110.5h1.25M197 100h1.25M196 98h1.25M202 113h1.25M193 107h1.25M194.5 105.5h1.25M200 103h1.25M195 102.5h1.25M202 109.5h1.25M201.5 104.5h1.25M184.5 111.5h1.25M198 113h1.25M196 112h1.25M200.5 105.5h1.25M186 111.5h1.25M197 106h1.25M190.5 117h1.25M197 109h1.25M192 104.5h1.25M197 101.5h1.25M202 106h1.25M202 109h1.25M192.5 118.5h1.25M196 105.5h1.25M200.5 110h1.25M196.5 98h1.25M188 112.5h1.25M193.5 110.5h1.25M192 109.5h1.25M188 107h1.25M202.5 109h1.25M194.5 107.5h1.25M196 117.5h1.25M197 110.5h1.25M194 111h1.25M198 104.5h1.25M188.5 107h1.25M201.5 105h1.25M194.5 114h1.25M195.5 98.5h1.25M203.5 108.5h1.25M193.5 106.5h1.25M198.5 105.5h1.25M204 110h1.25M199 109.5h1.25M193.5 109h1.25M204 105.5h1.25M195.5 110h1.25M192.5 112.5h1.25M190.5 110h1.25M191.5 106.5h1.25M194.5 121h1.25M193.5 113h1.25M198 104.5h1.25M200 108h1.25M188.5 99.5h1.25M196.5 109h1.25M188.5 108.5h1.25M194.5 110.5h1.25M192.5 108h1.25M195.5 110.5h1.25M200.5 118h1.25M189 109h1.25M191.5 102h1.25M187.5 105h1.25M196 106.5h1.25M196.5 108.5h1.25M197.5 107.5h1.25M197 108h1.25M193 100.5h1.25M188.5 109.5h1.25M190.5 110.5h1.25M193 103h1.25M194 107.5h1.25M203 105h1.25M192.5 108.5h1.25M199.5 106.5h1.25M192.5 109.5h1.25M196.5 109.5h1.25M189 110.5h1.25M195.5 112.5h1.25M194.5 109.5h1.25M194.5 118h1.25M188.5 102.5h1.25M191.5 92.5h1.25M193 115h1.25M198.5 112.5h1.25M195 104h1.25M194.5 101h1.25M187.5 112.5h1.25M195.5 114h1.25M189 108h1.25M188.5 115h1.25M196 102.5h1.25M191 113.5h1.25M190.5 106h1.25M195.5 102.5h1.25M202 116.5h1.25M193 108.5h1.25M198.5 110.5h1.25M199 102h1.25M195.5 100.5h1.25M195 110h1.25M199.5 97h1.25M196.5 100.5h1.25M198 109.5h1.25M196.5 112.5h1.25M197 104h1.25M194 109.5h1.25M188.5 106.5h1.25M197.5 102.5h1.25M201 113h1.25M198 107h1.25M194 110.5h1.25M198 112.5h1.25M192.5 110.5h1.25M200.5 103h1.25M196.5 108h1.25M195 112.5h1.25M195 111h1.25M197.5 111.5h1.25M194.5 104.5h1.25M198.5 108h1.25M199.5 105.5h1.25M193 111h1.25M196.5 107h1.25M198.5 107h1.25M196.5 110h1.25M191 112.5h1.25M195.5 106.5h1.25M195.5 104.5h1.25M187.5 108h1.25M194 115.5h1.25M202.5 105.5h1.25M197.5 113h1.25M197.5 107h1.25M194.5 103h1.25M199.5 111h1.25M196.5 108h1.25M203.5 110h1.25M202 102h1.25M192 104h1.25M199 106.5h1.25M201.5 108.5h1.25M200.5 106.5h1.25M200 106.5h1.25M195.5 103.5h1.25M188.5 102.5h1.25M197.5 109.5h1.25M189 102.5h1.25M190 110.5h1.25M192 103h1.25M198 105h1.25M198 111.5h1.25M193.5 100h1.25M195 118h1.25M191.5 114.5h1.25M193 103.5h1.25M202.5 106h1.25M186.5 101.5h1.25M192 105h1.25M201.5 112.5h1.25M196 110h1.25M194 100h1.25M196 107h1.25M200 109.5h1.25M201 106h1.25M194.5 106h1.25M192.5 113h1.25M196.5 102.5h1.25M193.5 117h1.25M206 114.5h1.25M196.5 115.5h1.25M195.5 102.5h1.25M196.5 103h1.25M195 118.5h1.25M198.5 109h1.25M199.5 106h1.25M197 103.5h1.25M190 105.5h1.25M190.5 97h1.25M193.5 103h1.25M192 114.5h1.25M198.5 112.5h1.25M195 103h1.25M192 116.5h1.25M183.5 105.5h1.25M196.5 100.5h1.25M200.5 104h1.25M195.5 115h1.25M199.5 107h1.25M195.5 115h1.25M204 110.5h1.25M188 105.5h1.25M200.5 104.5h1.25M194.5 103.5h1.25M194 112.5h1.25M199 103h1.25M201.5 101h1.25M200.5 112.5h1.25M190.5 99.5h1.25M200.5 111.5h1.25M197 104.5h1.25M198 101h1.25M199.5 119.5h1.25M195.5 113h1.25M192.5 110h1.25M195.5 110.5h1.25M195 100h1.25M201 102.5h1.25M201 102.5h1.25M199.5 110h1.25M194 113h1.25M197.5 116h1.25M199 114h1.25M187 115h1.25M195 107h1.25M190.5 104.5h1.25M195 108.5h1.25M196.5 106h1.25M197 112h1.25M194 105h1.25M201 110h1.25M192 111.5h1.25M198 118.5h1.25M200 112h1.25M195.5 103.5h1.25M195.5 107h1.25M195 113.5h1.25M191.5 116.5h1.25M191.5 101.5h1.25M200 107h1.25M193 110h1.25M194 108.5h1.25M194.5 108.5h1.25M192.5 111.5h1.25M194 108.5h1.25M186.5 110h1.25M193.5 107h1.25M194.5 105h1.25M191.5 112h1.25M193.5 106.5h1.25M194 104h1.25M200.5 104.5h1.25M197 103.5h1.25M189 100.5h1.25M197.5 98h1.25M188 104.5h1.25M198 103.5h1.25M200 106.5h1.25M194.5 114.5h1.25M197.5 115.5h1.25M193 120.5h1.25M201.5 116.5h1.25M194.5 121.5h1.25M192.5 119h1.25M196.5 117h1.25M191.5 108.5h1.25M194.5 112.5h1.25M196.5 115.5h1.25M193.5 123h1.25M198.5 114h1.25M199 116h1.25M189.5 118h1.25M195.5 121h1.25M199.5 121.5h1.25M192.5 117h1.25M188 118.5h1.25M194.5 109h1.25M198 119h1.25M188.5 109h1.25M194 118.5h1.25M195 123h1.25M205.5 118h1.25M194.5 115.5h1.25M204 117.5h1.25M198.5 121h1.25M200 119h1.25M203.5 119.5h1.25M196.5 113.5h1.25M194 117.5h1.25M200 115.5h1.25M196.5 117h1.25M184 118.5h1.25M203 112h1.25M200.5 113h1.25M193.5 117h1.25M199.5 117.5h1.25M196 121h1.25M200 117h1.25M198 123h1.25M198 114h1.25M196 112h1.25M205.5 118.5h1.25M188.5 116h1.25M197.5 120.5h1.25M195 116h1.25M191.5 121h1.25M201 119h1.25M196.5 118.5h1.25M193.5 116h1.25M198 118.5h1.25M197.5 115h1.25M199 113.5h1.25M201 117h1.25M197 115h1.25M195 114.5h1.25M196.5 110.5h1.25M200.5 118.5h1.25M198.5 117h1.25M198 115h1.25M191.5 116h1.25M189 120.5h1.25M194 117h1.25M192 119.5h1.25M200.5 116.5h1.25M200.5 119h1.25M196.5 111h1.25M191.5 122.5h1.25M200.5 126.5h1.25M193 121h1.25M189 114.5h1.25M191 114.5h1.25M197 123.5h1.25M197 113h1.25M202 119.5h1.25M189 123.5h1.25M196 121h1.25M193.5 116h1.25M198 111.5h1.25M196.5 121.5h1.25M198 117.5h1.25M194 116.5h1.25M202.5 119h1.25M197 114.5h1.25M198 121h1.25M186 124.5h1.25M199.5 117.5h1.25M188 127.5h1.25M199 116h1.25M189.5 122h1.25M188 118h1.25M194.5 113h1.25M192.5 115h1.25M200 119.5h1.25M201 114h1.25M201.5 119.5h1.25M201.5 116.5h1.25M198 114h1.25M201 118.5h1.25M193 117.5h1.25M196 110.5h1.25M196 113.5h1.25M195 118.5h1.25M206 119.5h1.25M189.5 120h1.25M190.5 113.5h1.25M192 121.5h1.25M203 120.5h1.25M189.5 118.5h1.25M199.5 107.5h1.25M194 128h1.25M189.5 113.5h1.25M190.5 123.5h1.25M200 121h1.25M201 115h1.25M187 120h1.25M188.5 120.5h1.25M198.5 118.5h1.25M202 119.5h1.25M190.5 115h1.25M199 115.5h1.25M199 117h1.25M197.5 114.5h1.25M195.5 111.5h1.25M193 120.5h1.25M193 114h1.25M200 121h1.25M191 119h1.25M198.5 114.5h1.25M192.5 117.5h1.25M178 141.5h1.25M171 127.5h1.25M172.5 146.5h1.25M166 145.5h1.25M172.5 145.5h1.25M171 141.5h1.25M182.5 151h1.25M167 133h1.25M173 144h1.25M171.5 141h1.25M177.5 126h1.25M166.5 145h1.25M173 144h1.25M167.5 150.5h1.25M175.5 146h1.25M173 134h1.25M168.5 134.5h1.25M170.5 133.5h1.25M170.5 137.5h1.25M170.5 129h1.25M165.5 141h1.25M173.5 134h1.25M173 153.5h1.25M169.5 136.5h1.25M162 132h1.25M167.5 139h1.25M172.5 150h1.25M166 142h1.25M177 144h1.25M171.5 142h1.25M164.5 134h1.25M174 148h1.25M175.5 146.5h1.25M178 149h1.25M169 142.5h1.25M160.5 147h1.25M171.5 142h1.25M175.5 134.5h1.25M171.5 137h1.25M178 135h1.25M168 143.5h1.25M178.5 141h1.25M164.5 137.5h1.25M172.5 144h1.25M165.5 147.5h1.25M167 136.5h1.25M170 135h1.25M165.5 140h1.25M160 139h1.25M165.5 142.5h1.25M166.5 146h1.25M172 143.5h1.25M171.5 136.5h1.25M172.5 144.5h1.25M171 143h1.25M172.5 140h1.25M168.5 142h1.25M171.5 144.5h1.25M176 139.5h1.25M169 151.5h1.25M170.5 141h1.25M167 143.5h1.25M161 137.5h1.25M169.5 137.5h1.25M172 147h1.25M172.5 139.5h1.25M160 137h1.25M176 149h1.25M173 145.5h1.25M174 133.5h1.25M168.5 138h1.25M173 146.5h1.25M170.5 150.5h1.25M170 138h1.25M168 130.5h1.25M173.5 138h1.25M173.5 143h1.25M173 132.5h1.25M169 139.5h1.25M172 135.5h1.25M165.5 146.5h1.25M164 142h1.25M165.5 145h1.25M168 139h1.25M166 130.5h1.25M178 140.5h1.25M177 144h1.25M166 138h1.25M173 141h1.25M167.5 143h1.25M174.5 147h1.25M178 141.5h1.25M169 139h1.25M159 148h1.25M178 121.5h1.25M171 138h1.25M169.5 132h1.25M170 130h1.25M173 145.5h1.25M176 132h1.25M165 137.5h1.25M176.5 139.5h1.25M177.5 141.5h1.25M173.5 133h1.25M162.5 136.5h1.25M165 133h1.25M172.5 149h1.25M167 140h1.25M176.5 141h1.25M174 144.5h1.25M176 147h1.25M172 136h1.25M175.5 135.5h1.25M171.5 143.5h1.25M184 145h1.25M173 139.5h1.25M170 133.5h1.25M160.5 140.5h1.25M171.5 139h1.25M169.5 140h1.25M179 138h1.25M179.5 137.5h1.25M170 141h1.25M173.5 149h1.25M175.5 147.5h1.25M172.5 141.5h1.25M170.5 135.5h1.25M181 141h1.25M167.5 135.5h1.25M169.5 136h1.25M175.5 147.5h1.25M168 148h1.25M174.5 143.5h1.25M172 140h1.25M175 132.5h1.25M174.5 141h1.25M160.5 139.5h1.25M171.5 144.5h1.25M171.5 136.5h1.25M172 142h1.25M156 135.5h1.25M169 138h1.25M171.5 152h1.25M171 138.5h1.25M170.5 136h1.25M168 137h1.25M173 138h1.25M171 143h1.25M166 144h1.25M178 140h1.25M172 147h1.25M176.5 142.5h1.25M169.5 144h1.25M166 137h1.25M168 143.5h1.25M165.5 142.5h1.25M163 136h1.25M166.5 144h1.25M179 133h1.25M172 140.5h1.25M172.5 138h1.25M174.5 130h1.25M175 148.5h1.25M167 142h1.25M165.5 139.5h1.25M169.5 127h1.25M174.5 144.5h1.25M179 140.5h1.25M171 147.5h1.25M162.5 144h1.25M169 151h1.25M170 146.5h1.25M169 124h1.25M177 147h1.25M175.5 139.5h1.25M176.5 136.5h1.25M167.5 146.5h1.25M174.5 151h1.25M167.5 144h1.25M173.5 147.5h1.25M166 142h1.25M169 144.5h1.25M184.5 145.5h1.25M178.5 145h1.25M169.5 143.5h1.25M171 141h1.25M175 145h1.25M167.5 130.5h1.25M169 144h1.25M177.5 143h1.25M173.5 147.5h1.25M176.5 138h1.25M170.5 145.5h1.25M169 137h1.25M170 142h1.25M176.5 139.5h1.25M167.5 140h1.25M175.5 132.5h1.25M173 147.5h1.25M170 139h1.25M166.5 137.5h1.25M171 149h1.25M174 140h1.25M165 136h1.25M176.5 135h1.25M176 143h1.25M176 144h1.25M169 142h1.25M169.5 135.5h1.25M170.5 141.5h1.25M166.5 140.5h1.25M174.5 142h1.25M166 150h1.25M168 148h1.25M173 147.5h1.25M172.5 136h1.25M177 138h1.25M165 134h1.25M173 139.5h1.25M169 134h1.25M180 145.5h1.25M176 143h1.25M177 139.5h1.25M177.5 142h1.25M169.5 146.5h1.25M173.5 144h1.25M164.5 137.5h1.25M166 138h1.25M172 137h1.25M171.5 136.5h1.25M170 145h1.25M177 152h1.25M172.5 144h1.25M178.5 134h1.25M167 147.5h1.25M176.5 152.5h1.25M180 151h1.25M175.5 143h1.25M177.5 133h1.25M171 134.5h1.25M171 127.5h1.25M174 142h1.25M176.5 134h1.25M170 147h1.25M163.5 141h1.25M161.5 152h1.25M167 142h1.25M173 132.5h1.25M168.5 133h1.25M173.5 149.5h1.25M161 141.5h1.25M164.5 143.5h1.25M173.5 146.5h1.25M174 133h1.25M165 141h1.25M174 137.5h1.25M169 144h1.25M171.5 147.5h1.25M166 144.5h1.25M171.5 142h1.25M170.5 139h1.25M177.5 138.5h1.25M173 142.5h1.25M168 143h1.25M172.5 150h1.25M168 145h1.25M174 147h1.25M168 143.5h1.25M165.5 143.5h1.25M176.5 149.5h1.25M161.5 140h1.25M173 132.5h1.25M182.5 143.5h1.25M173.5 132h1.25M167.5 138h1.25M171 150.5h1.25M168.5 139.5h1.25M171.5 145h1.25M172.5 135h1.25M175.5 137.5h1.25M163.5 142h1.25M166.5 145.5h1.25M173.5 137h1.25M169.5 139.5h1.25M174 133h1.25M173 143.5h1.25M171.5 139.5h1.25M174.5 145h1.25M172.5 142.5h1.25M174.5 145.5h1.25M166.5 135.5h1.25M169.5 138h1.25M169 141h1.25M177.5 142.5h1.25M172.5 146.5h1.25M168.5 140.5h1.25M163 137.5h1.25M174 140h1.25M170 150h1.25M179 143h1.25M167.5 135.5h1.25M171.5 136h1.25M171 139h1.25M170.5 140h1.25M176.5 141h1.25M178.5 139.5h1.25M178.5 136.5h1.25M172.5 140h1.25M166.5 152.5h1.25M172 137h1.25M164 144.5h1.25M174.5 142.5h1.25M168 139h1.25M165.5 138.5h1.25M169.5 145h1.25M174.5 135.5h1.25M162 151h1.25M171.5 137.5h1.25M172 137h1.25M168.5 128h1.25M168.5 149.5h1.25M174 139.5h1.25M171 144.5h1.25M175 136.5h1.25M169.5 142h1.25M174.5 139h1.25M172.5 145h1.25M170.5 143.5h1.25M176 135h1.25M171.5 143h1.25M180.5 131h1.25M167.5 133.5h1.25M166 142.5h1.25M166 140.5h1.25M170.5 140h1.25M174.5 143h1.25M167 139h1.25M172 138h1.25M173 141h1.25M168.5 139.5h1.25M166 143h1.25M168 137.5h1.25M169.5 152.5h1.25M176 138h1.25M166.5 145h1.25M166.5 147.5h1.25M168 147h1.25M180 140h1.25M174 145.5h1.25M167.5 148.5h1.25M176 143.5h1.25M173.5 136.5h1.25M167.5 141.5h1.25M165.5 144h1.25M172.5 150h1.25M166.5 149h1.25M173.5 144h1.25M171.5 142.5h1.25M168.5 137.5h1.25M177.5 130.5h1.25M176 144.5h1.25M173 148h1.25M172 144h1.25M175 142h1.25M176.5 147h1.25M171.5 145h1.25M168 144h1.25M172.5 135h1.25M172 145.5h1.25M167.5 135.5h1.25M171.5 139.5h1.25M167.5 142.5h1.25M167.5 143h1.25M176.5 144h1.25M172.5 137h1.25M177.5 141h1.25M179.5 139.5h1.25M172 135.5h1.25M173 135h1.25M172 151h1.25M175 135.5h1.25M175.5 136h1.25M170 139.5h1.25M170 142h1.25M160.5 147.5h1.25M171 136.5h1.25M172.5 149.5h1.25M166.5 145.5h1.25M171 142.5h1.25M169 142h1.25M174 134h1.25M168 139h1.25M168.5 133h1.25M168.5 135.5h1.25M173 141.5h1.25M172 143.5h1.25M169 136.5h1.25M174 139.5h1.25M168.5 150h1.25M164.5 146h1.25M177 140h1.25M168.5 143.5h1.25M167.5 131.5h1.25M176 150h1.25M165 145.5h1.25M172 141.5h1.25M174.5 139.5h1.25M170 142.5h1.25M172.5 129h1.25M176.5 145h1.25M176 141h1.25M166.5 144.5h1.25M173.5 147h1.25M174.5 137.5h1.25M166.5 140.5h1.25M173 141.5h1.25M169 142.5h1.25M163 141h1.25M161.5 150.5h1.25M163 151h1.25M175.5 147.5h1.25M175 140h1.25M171.5 150h1.25M166.5 140.5h1.25M175.5 138.5h1.25M179 135.5h1.25M168 142.5h1.25M193.5 141.5h1.25M196.5 142h1.25M198 145.5h1.25M198 144h1.25M197 145h1.25M198.5 148h1.25M204 139h1.25M204.5 148.5h1.25M201.5 140h1.25M198 145.5h1.25M196 148h1.25M192 138h1.25M200.5 145.5h1.25M190 145.5h1.25M197.5 148.5h1.25M196.5 143h1.25M192.5 142h1.25M195 146h1.25M188 142.5h1.25M201 125.5h1.25M199.5 145h1.25M197 144.5h1.25M193.5 147.5h1.25M197.5 131h1.25M199 135h1.25M192 144.5h1.25M194.5 143h1.25M197 141h1.25M198 132.5h1.25M203.5 147.5h1.25M193.5 140.5h1.25M202.5 136.5h1.25M202 144.5h1.25M203.5 145h1.25M199.5 146h1.25M199.5 136.5h1.25M196.5 144.5h1.25M192 134.5h1.25M196 152.5h1.25M196 149h1.25M202 150.5h1.25M199 131.5h1.25M187.5 135.5h1.25M195 141.5h1.25M194.5 140.5h1.25M199 135h1.25M199 146h1.25M189 143.5h1.25M196.5 145.5h1.25M198.5 129h1.25M204.5 143h1.25M200.5 148h1.25M192 142h1.25M190.5 152h1.25M200.5 142h1.25M192 141.5h1.25M199.5 136.5h1.25M197.5 146.5h1.25M199.5 140.5h1.25M199.5 147h1.25M188 135h1.25M190.5 138h1.25M199.5 145.5h1.25M198 139h1.25M201 132.5h1.25M190.5 146.5h1.25M195 149h1.25M200 148.5h1.25M193 139h1.25M189 142.5h1.25M196.5 139h1.25M195 143.5h1.25M200.5 138.5h1.25M193.5 141.5h1.25M199 154h1.25M200.5 127h1.25M189 137.5h1.25M185 146.5h1.25M192.5 134h1.25M195.5 144h1.25M194.5 142h1.25M200 135.5h1.25M196 130.5h1.25M191 148.5h1.25M193 135.5h1.25M199.5 139h1.25M200 154h1.25M206 140.5h1.25M197.5 138.5h1.25M203.5 145.5h1.25M208.5 139h1.25M196 124h1.25M193 138h1.25M198 148h1.25M192.5 141h1.25M198.5 141.5h1.25M199 152h1.25M193.5 144h1.25M201 142.5h1.25M203 140h1.25M201 143.5h1.25M199 138h1.25M201 135h1.25M201 142.5h1.25M197.5 150.5h1.25M190.5 147h1.25M198 139h1.25M200 142.5h1.25M204.5 139.5h1.25M203 151h1.25M198 138.5h1.25M196.5 134.5h1.25M193.5 138.5h1.25M198 133.5h1.25M198.5 139.5h1.25M200.5 146h1.25M194 144h1.25M197.5 139h1.25M195.5 141.5h1.25M192 135h1.25M197.5 131.5h1.25M198.5 147.5h1.25M194.5 145h1.25M193 146.5h1.25M209.5 145.5h1.25M196 142h1.25M190.5 138h1.25M195 138.5h1.25M196.5 150h1.25M190.5 138h1.25M197 135h1.25M192.5 145h1.25M198.5 144h1.25M192 145.5h1.25M199.5 139h1.25M196.5 140.5h1.25M195 139h1.25M198 137h1.25M203.5 146h1.25M197 128h1.25M201 146.5h1.25M196 142.5h1.25M193.5 135h1.25M193.5 143h1.25M204 138h1.25M196 139.5h1.25M190 145.5h1.25M199 141h1.25M195.5 146h1.25M199.5 147h1.25M193.5 134h1.25M202 137h1.25M199.5 143h1.25M193 144h1.25M203.5 151h1.25M194.5 141h1.25M188 135h1.25M194 142.5h1.25M198.5 139.5h1.25M201.5 137h1.25M199.5 136.5h1.25M195 143.5h1.25M200 138.5h1.25M195 141h1.25M197.5 151.5h1.25M199.5 140.5h1.25M195.5 150.5h1.25M202.5 149h1.25M196.5 137h1.25M193.5 143.5h1.25M192 141.5h1.25M205.5 145h1.25M200 136.5h1.25M202.5 140.5h1.25M197 144h1.25M197 139.5h1.25M195.5 148h1.25M192 145h1.25M194 151.5h1.25M195 147h1.25M197 136h1.25M197 143h1.25M200 142h1.25M189.5 137h1.25M194.5 147h1.25M195.5 148.5h1.25M195.5 145.5h1.25M201 144h1.25M189.5 150h1.25M196 148h1.25M185 142.5h1.25M196.5 140h1.25M196 136.5h1.25M193 145.5h1.25M195.5 147h1.25M198.5 138.5h1.25M196.5 140.5h1.25M199 153h1.25M197 139.5h1.25M205.5 141h1.25M193.5 140.5h1.25M187.5 152h1.25M201.5 149.5h1.25M199 141.5h1.25M194.5 138h1.25M199.5 148.5h1.25M200 136.5h1.25M204.5 138h1.25M196.5 142.5h1.25M194.5 129h1.25M191.5 139h1.25M201 140h1.25M198 135h1.25M195 150h1.25M204 145h1.25M199 143.5h1.25M196 143h1.25M200.5 138.5h1.25M192 146h1.25M194 145h1.25M192 144h1.25M194.5 139h1.25M199.5 138.5h1.25M186.5 135h1.25M195.5 152.5h1.25M195 135h1.25M194 148.5h1.25M198 145.5h1.25M199 151.5h1.25M191 150.5h1.25M199 137h1.25M199.5 151h1.25M195.5 149h1.25M187.5 133.5h1.25M198.5 143h1.25M199.5 146h1.25M200.5 134h1.25M190.5 150h1.25M198.5 143.5h1.25M196 153h1.25M194 145.5h1.25M203 139.5h1.25M194.5 141h1.25M188.5 150h1.25M197 146h1.25M200 153.5h1.25M198.5 146.5h1.25M194.5 146h1.25M197.5 150h1.25M200.5 137h1.25M193 146h1.25M195.5 145.5h1.25M202 136h1.25M199 137.5h1.25M197 142.5h1.25M192.5 129.5h1.25M195.5 136h1.25M197.5 143.5h1.25M201 146.5h1.25M189 132.5h1.25M193 142h1.25M198 139h1.25M198 137.5h1.25M201.5 140.5h1.25M194.5 140h1.25M197 152h1.25M198 149h1.25M194 147h1.25M200 149.5h1.25M193 138h1.25M197.5 147h1.25M193.5 144.5h1.25M203.5 131.5h1.25M192 142h1.25M199 143h1.25M199.5 152h1.25M195 138.5h1.25M203 133.5h1.25M201 151.5h1.25M198.5 140h1.25M198 140h1.25M205.5 147.5h1.25M197.5 146h1.25M199.5 150h1.25M198.5 139h1.25M196 137h1.25M191.5 145h1.25M195 142.5h1.25M200 149h1.25M197.5 140.5h1.25M200 138.5h1.25M203.5 141h1.25M202 137.5h1.25M200.5 146.5h1.25M196.5 150h1.25M199.5 144h1.25M197 146.5h1.25M198 139h1.25M194.5 142.5h1.25M192.5 132h1.25M200.5 140h1.25M206.5 145h1.25M200.5 148h1.25M197.5 141.5h1.25M190.5 137h1.25M191.5 134.5h1.25M190.5 144.5h1.25M189 153h1.25M193.5 146h1.25M198.5 146h1.25M196.5 142h1.25M197.5 148.5h1.25M200 144.5h1.25M191 138h1.25M197.5 150.5h1.25M203 139.5h1.25M198.5 140h1.25M193 143.5h1.25M199.5 144.5h1.25M187 150h1.25M188 149.5h1.25M191 140h1.25M197.5 146h1.25M195 150h1.25M195 143.5h1.25M197 148h1.25M199 133.5h1.25M200.5 137h1.25M193 139h1.25M196 147h1.25M199.5 134h1.25M196.5 149.5h1.25M201 144.5h1.25M194 147h1.25M196 135h1.25M186.5 146.5h1.25M202.5 146h1.25M196.5 144.5h1.25M200 136h1.25M197.5 141h1.25M200 147h1.25M188 133.5h1.25M197 146.5h1.25M193.5 143.5h1.25M196.5 139.5h1.25M194 145h1.25M201.5 139.5h1.25M199 144h1.25M194.5 139.5h1.25M192.5 144h1.25M199 141h1.25M189 143h1.25M196 140h1.25M201.5 137.5h1.25M195 143.5h1.25M203 136h1.25M197.5 131.5h1.25M193.5 141h1.25M191 146h1.25M197.5 138h1.25M197 138h1.25M195.5 141h1.25M202 137h1.25M199 149.5h1.25M197 146.5h1.25M205 136h1.25M192 146.5h1.25M197 152h1.25M194.5 143.5h1.25M199.5 130h1.25M202.5 143.5h1.25M193 139h1.25M194.5 151h1.25M193 151h1.25M194.5 145.5h1.25M195 142.5h1.25M201 142.5h1.25M194.5 149h1.25M205.5 141.5h1.25M195.5 139.5h1.25M191 138.5h1.25M198.5 139h1.25M198 144h1.25M199.5 152h1.25M196.5 134.5h1.25M197.5 146h1.25M204 143h1.25M194 137h1.25M199 141h1.25M201 150.5h1.25M196.5 146h1.25M197 146.5h1.25M191 137.5h1.25M203.5 133.5h1.25M192 146h1.25M192.5 140h1.25M192.5 151.5h1.25M196 152.5h1.25M197.5 132.5h1.25M197 131.5h1.25M200.5 129h1.25M201 146h1.25M203 145h1.25M197.5 140.5h1.25M194 138h1.25M195 141h1.25M206.5 145h1.25M192.5 150.5h1.25M197 138h1.25M197 138.5h1.25M198.5 140.5h1.25M201 135h1.25M197.5 134.5h1.25M204 135.5h1.25M205 141h1.25M201 137.5h1.25M195 151h1.25M191 146h1.25M201 131.5h1.25M195 149h1.25M206 142h1.25M188.5 150h1.25M193 142.5h1.25M194.5 133.5h1.25M186.5 152h1.25M197 142.5h1.25M193.5 144.5h1.25M191.5 135h1.25M190 133h1.25M197 132.5h1.25M204 141h1.25M194 140h1.25M202.5 127.5h1.25M196 152.5h1.25M200.5 143.5h1.25M194 153.5h1.25M192 132h1.25M196 139h1.25M185.5 141.5h1.25M206.5 141h1.25M198 141.5h1.25M196 143.5h1.25M196.5 142h1.25M197.5 144.5h1.25M196.5 132.5h1.25M192.5 134.5h1.25M195 151h1.25M197 139h1.25M204.5 147h1.25M193 145h1.25M200.5 148h1.25M193.5 143.5h1.25M193.5 133.5h1.25M198.5 129.5h1.25M195.5 148.5h1.25M199 142h1.25M198 143h1.25M202 145.5h1.25M199.5 138h1.25M196 139h1.25M201 147.5h1.25M197 148h1.25M197 141.5h1.25M199 144.5h1.25M206.5 135h1.25M201 137h1.25M200 137h1.25M189.5 152.5h1.25M196 153h1.25M194 138h1.25M202 139h1.25M197 137.5h1.25M196 129.5h1.25M195 142h1.25M200.5 149h1.25M196.5 143.5h1.25M194 148h1.25M197.5 135h1.25M199.5 150.5h1.25M198.5 136h1.25M199.5 147h1.25M195 148.5h1.25M190 135.5h1.25M195.5 143h1.25M200.5 149h1.25M193.5 149.5h1.25M203.5 148.5h1.25M196.5 141.5h1.25M193.5 131h1.25M193.5 134h1.25M197.5 143.5h1.25M198.5 145h1.25M199 140h1.25M195.5 145.5h1.25M203 132h1.25M192 141h1.25M192.5 139.5h1.25M196.5 138h1.25M200 147h1.25M200 145.5h1.25M200 124.5h1.25M200 137h1.25M206 138.5h1.25M198 133.5h1.25M191.5 144h1.25M198.5 152.5h1.25M200.5 150.5h1.25M205 133.5h1.25M203 138h1.25M198 142.5h1.25M200.5 148.5h1.25M199.5 140.5h1.25M189 143.5h1.25M197 143.5h1.25M201.5 146h1.25M194.5 135.5h1.25M203.5 147.5h1.25M197 133.5h1.25M195.5 147h1.25M199 140.5h1.25M198 141.5h1.25M195.5 152h1.25M200 145h1.25M195 151.5h1.25M191 144.5h1.25M192.5 130h1.25M195 130h1.25M195.5 134h1.25M196.5 139.5h1.25M190 140h1.25M193 151.5h1.25M202.5 147.5h1.25M198 144h1.25M203.5 146.5h1.25M193 152.5h1.25M197.5 152h1.25M203.5 140.5h1.25M197 146.5h1.25M191.5 137h1.25M197.5 143h1.25M193 142.5h1.25M198.5 138.5h1.25M193.5 142h1.25M192 137.5h1.25M195 130.5h1.25M194 144h1.25M192 149.5h1.25M198 151h1.25M196.5 146.5h1.25M196.5 136h1.25M199 138h1.25M199 136.5h1.25M196.5 141h1.25M202 141h1.25M201.5 146h1.25M203 140.5h1.25M201 148.5h1.25M199.5 144.5h1.25M203 134.5h1.25M200 139.5h1.25M199 148.5h1.25M198.5 141.5h1.25M193 134h1.25M193.5 145.5h1.25M196.5 138h1.25M201 149.5h1.25M198.5 138h1.25M197 150h1.25M200 130.5h1.25M200 153.5h1.25M193.5 131h1.25M193.5 143.5h1.25M196 141.5h1.25M183.5 138.5h1.25M193.5 142h1.25M201.5 137.5h1.25M201 151h1.25M201 139h1.25M202 140h1.25M195.5 133h1.25M192 136.5h1.25M202.5 144.5h1.25M197.5 140h1.25M194.5 136h1.25M195 151h1.25M199 140h1.25M202 142h1.25M201 139h1.25M202.5 145h1.25M197.5 148.5h1.25M194.5 129.5h1.25M193 148h1.25M203 134h1.25M198.5 146h1.25M190.5 131.5h1.25M204 145h1.25M195 145.5h1.25M189.5 144.5h1.25M196 140h1.25M201 142h1.25M196.5 139h1.25M192.5 141.5h1.25M202.5 129.5h1.25M191.5 138h1.25M198.5 137.5h1.25M198.5 128.5h1.25M191.5 146h1.25M185.5 143.5h1.25M201.5 146h1.25M199 136h1.25M193.5 148h1.25M197.5 152.5h1.25M198 142.5h1.25M196 151h1.25M200.5 139h1.25M198.5 136.5h1.25M200 140.5h1.25M202.5 151.5h1.25M199.5 132.5h1.25M194 144h1.25M197.5 144.5h1.25M200.5 138h1.25M191 133.5h1.25M201 147.5h1.25M194 141.5h1.25M202 140h1.25M199 147h1.25M197.5 147h1.25M201 139.5h1.25M189 141h1.25M189.5 131h1.25M199 135.5h1.25M194 143h1.25M192 145.5h1.25M204.5 136.5h1.25M196 125.5h1.25M192 152.5h1.25M195.5 139h1.25M198 140h1.25M202.5 141h1.25M193 140h1.25M184.5 144.5h1.25M198.5 130h1.25M184 138h1.25M197 151.5h1.25M192 136.5h1.25M195.5 150h1.25M192 139h1.25M192.5 147.5h1.25M203 147.5h1.25M193.5 145h1.25M201.5 147h1.25M192.5 140.5h1.25M194.5 148.5h1.25M197.5 139.5h1.25M199.5 144.5h1.25M193.5 149h1.25M196.5 141.5h1.25M192 143h1.25M198.5 128h1.25M193 140h1.25M198.5 134h1.25M205 140h1.25M192 141h1.25M199.5 141.5h1.25M193 143h1.25M197.5 142.5h1.25M191.5 144h1.25M214 140.5h1.25M197 128.5h1.25M196 144h1.25M194 140.5h1.25M191.5 147h1.25M196 134h1.25M194.5 143.5h1.25M195.5 142.5h1.25M192 145.5h1.25M192 144.5h1.25M193 136.5h1.25M191 148.5h1.25M196 134h1.25M194.5 137h1.25M197.5 149h1.25M205 138.5h1.25M193.5 138h1.25M196 137h1.25M204 141.5h1.25M195 123h1.25M197 135.5h1.25M206.5 146h1.25M194.5 145.5h1.25M205 144.5h1.25M200 130.5h1.25M193 134h1.25M198 132.5h1.25M188.5 139h1.25M195.5 145.5h1.25M203 150h1.25M196.5 143h1.25M188 149.5h1.25M192.5 139h1.25M196 135.5h1.25M195 148h1.25M202 154h1.25M200 138.5h1.25M198 135.5h1.25M185.5 145h1.25M194 138.5h1.25M191 154h1.25M196.5 150h1.25M196.5 143.5h1.25M197 151.5h1.25M187.5 140h1.25M193 144.5h1.25M193.5 141.5h1.25M193 136h1.25M197.5 148h1.25M197 132.5h1.25M192 146.5h1.25M194 146.5h1.25M196 151h1.25M191.5 143h1.25M199.5 144.5h1.25M190 136h1.25M194 134h1.25M193.5 138h1.25M194 139h1.25M192 146.5h1.25M200.5 140.5h1.25M201.5 149.5h1.25M194.5 153h1.25M202.5 147.5h1.25M194.5 144h1.25M194 147h1.25M195 134.5h1.25M191 138h1.25M192 145h1.25M199.5 143h1.25M194.5 140h1.25M193.5 136.5h1.25M198 138h1.25M198.5 135h1.25M190.5 143.5h1.25M208 142h1.25M192.5 151h1.25M196 139.5h1.25M190.5 146.5h1.25M194 136h1.25M194.5 148.5h1.25M199.5 134.5h1.25M187 151.5h1.25M197.5 145h1.25M196 142h1.25M197 142h1.25M203 140.5h1.25M194.5 149h1.25M192 140h1.25M196 132h1.25M197.5 141h1.25M199.5 143h1.25M190 132h1.25M192 139.5h1.25M195 139.5h1.25M198 133.5h1.25M193 151h1.25M195.5 141.5h1.25M199 133.5h1.25M197.5 141h1.25M192.5 143h1.25M202.5 143.5h1.25M195.5 152h1.25M202 143h1.25M193.5 140h1.25M201 134h1.25M207 126h1.25M198 149h1.25M192 127.5h1.25M193.5 138.5h1.25M199.5 141h1.25M197 140.5h1.25M202.5 138.5h1.25M195 143h1.25M208.5 121h1.25M186 137.5h1.25M191.5 140.5h1.25M199 145.5h1.25M194.5 137h1.25M195 136.5h1.25M205 149.5h1.25M195.5 146.5h1.25M194 141.5h1.25M197 134.5h1.25M196.5 138h1.25M198.5 135h1.25M193.5 145.5h1.25M203 145.5h1.25M198 133h1.25M193.5 143h1.25M196 143h1.25M201.5 151h1.25M194 137h1.25M189 143h1.25M199 150.5h1.25M193 139.5h1.25M204 139.5h1.25M197.5 137.5h1.25M195.5 141h1.25M196.5 133.5h1.25M189.5 129h1.25M201 137.5h1.25M193.5 148.5h1.25M191.5 139.5h1.25M193 145h1.25M195.5 131h1.25M201 151h1.25M198 140.5h1.25M196 134.5h1.25M195 149h1.25M197.5 133.5h1.25M190 140.5h1.25M202 145h1.25M196 148h1.25M193 144.5h1.25M195 135h1.25M199 134h1.25M196 149h1.25M190.5 150.5h1.25M202.5 147.5h1.25M195.5 141h1.25M195.5 142.5h1.25M192.5 144.5h1.25M203 133.5h1.25M204 135.5h1.25M192.5 139.5h1.25M196 143.5h1.25M204 146h1.25M202 139.5h1.25M198.5 131h1.25M196 146.5h1.25M200.5 147h1.25M190 143.5h1.25M206.5 149h1.25M194.5 142.5h1.25M194 143.5h1.25M197 142.5h1.25M193 131h1.25M198.5 143.5h1.25M199 149.5h1.25M195.5 150h1.25M196 149h1.25M199.5 137.5h1.25M201 146h1.25M197 142h1.25M197 138h1.25M191 142.5h1.25M200.5 142h1.25M200 133h1.25M204 144.5h1.25M195.5 143h1.25M198 143h1.25M198.5 134.5h1.25M199.5 141.5h1.25M191.5 148h1.25M196.5 153h1.25M194 151.5h1.25M199.5 138h1.25M201 146.5h1.25M201 139h1.25M186 140h1.25M197 148.5h1.25M202 151h1.25M199.5 144h1.25M195 146h1.25M195 144.5h1.25M195 147.5h1.25M195 139h1.25M194.5 146.5h1.25M194.5 151h1.25M192.5 144.5h1.25M195.5 135h1.25M196.5 145.5h1.25M199.5 141h1.25M192 138h1.25M191 142h1.25M206.5 135.5h1.25M204 152h1.25M200.5 146h1.25M189 142h1.25M195.5 150.5h1.25M202 135h1.25M185.5 137.5h1.25M205 143.5h1.25M196.5 147h1.25M195.5 145h1.25M193 137.5h1.25M199 144h1.25M200 143h1.25M201 145.5h1.25M198 150h1.25M197 135.5h1.25M193 141h1.25M201.5 139h1.25M195.5 151h1.25M203.5 134h1.25M191.5 141.5h1.25M197 139h1.25M198.5 152h1.25M200.5 147h1.25M189 145h1.25M197.5 144h1.25M193.5 135h1.25M197 147h1.25M201.5 144h1.25M189 140.5h1.25M194.5 138.5h1.25M191.5 146.5h1.25M193.5 143.5h1.25M199 137.5h1.25M195.5 138.5h1.25M201.5 138h1.25M190 149h1.25M186 152h1.25M199 145.5h1.25M198.5 143.5h1.25M199 127h1.25M195 135h1.25M188 134.5h1.25M195 144h1.25M192.5 136h1.25M202.5 146.5h1.25M192.5 136.5h1.25M196.5 147.5h1.25M194 141h1.25M200 132h1.25M196.5 140.5h1.25M191.5 143h1.25M199.5 139.5h1.25M193.5 150h1.25M197 136.5h1.25M197.5 146.5h1.25M195.5 130.5h1.25M193.5 135h1.25M203 137h1.25M204 142h1.25M196.5 143.5h1.25M203 135.5h1.25M194.5 140h1.25M197.5 138.5h1.25M196.5 147.5h1.25M194.5 150h1.25M196 141h1.25M199 140h1.25M198 138.5h1.25M191 144h1.25M199.5 141.5h1.25M200 139.5h1.25M205.5 140.5h1.25M198.5 142h1.25M195.5 136.5h1.25M202 141h1.25M193.5 149h1.25M201 138h1.25M199 149.5h1.25M197.5 134.5h1.25M196 138h1.25M191 144h1.25M199.5 128.5h1.25M194.5 137h1.25M198 138.5h1.25M190.5 151h1.25M195.5 150.5h1.25M197.5 136.5h1.25M190.5 133h1.25M195 143h1.25M202 135h1.25M196.5 147h1.25M202.5 148.5h1.25M199 146.5h1.25M191 143h1.25M201 141.5h1.25M195 140.5h1.25M199 140.5h1.25M196 137h1.25M199 147h1.25M192 146.5h1.25M196 148h1.25M201 139.5h1.25M199 149.5h1.25M191.5 143h1.25M192 146.5h1.25M189.5 148h1.25M195 147h1.25M205.5 142.5h1.25M192.5 135.5h1.25M200 134.5h1.25M190 145h1.25M202 144.5h1.25M205 150.5h1.25M200 145.5h1.25M198.5 145.5h1.25M201 143.5h1.25M190 132h1.25M192 142.5h1.25M190 141h1.25M197.5 149.5h1.25M192.5 136.5h1.25M191 135h1.25M194.5 151.5h1.25M182.5 142h1.25M197.5 150.5h1.25M202 144h1.25M189 137h1.25M194.5 137h1.25M199.5 138.5h1.25M191 141.5h1.25M199.5 138.5h1.25M191.5 137h1.25M196.5 144h1.25M193.5 137h1.25M193.5 143.5h1.25M196 139.5h1.25M194 142.5h1.25M198.5 151h1.25M202.5 141h1.25M195.5 148.5h1.25M199.5 139.5h1.25M197 131.5h1.25M198 135.5h1.25M198 124.5h1.25M196.5 135h1.25M194 143h1.25M193.5 152.5h1.25M201 140h1.25M204 142.5h1.25M197.5 153.5h1.25M205 143h1.25M200 142h1.25M201 141h1.25M201.5 132.5h1.25M198.5 150h1.25M197.5 132h1.25M197.5 136h1.25M194.5 143h1.25M204 141.5h1.25M191.5 153.5h1.25M195 138.5h1.25M195 140.5h1.25M202 128.5h1.25M192.5 146.5h1.25M196.5 141h1.25M187.5 147h1.25M193.5 150.5h1.25M186 144h1.25M198.5 152h1.25M196.5 137.5h1.25M197 139.5h1.25M196.5 129h1.25M196 142.5h1.25M197 142h1.25M204 154h1.25M201 142.5h1.25M202.5 143h1.25M195 139h1.25M196 151.5h1.25M202 150h1.25M198 139h1.25M198 142.5h1.25M194 149h1.25M190 134h1.25M191.5 139h1.25M196 147.5h1.25M200.5 140h1.25M194 143.5h1.25M201 145.5h1.25M199.5 148.5h1.25M198.5 143.5h1.25M188 140h1.25M191.5 138h1.25M195.5 147h1.25M201.5 138h1.25M199.5 147h1.25M189 145.5h1.25M197 132.5h1.25M198 148h1.25M200.5 141h1.25M200.5 150.5h1.25M200 135h1.25M201.5 140.5h1.25M195 152h1.25M204 153.5h1.25M185 152.5h1.25M188.5 147.5h1.25M192 145.5h1.25M202 149.5h1.25M196 127h1.25M194.5 140h1.25M197.5 149.5h1.25M194 148.5h1.25M193.5 139.5h1.25M199 148.5h1.25M201.5 140h1.25M200.5 137h1.25M206.5 148h1.25M198 138.5h1.25M195 145h1.25M194.5 144.5h1.25M193.5 139.5h1.25M202 138h1.25M195.5 138h1.25M200 138h1.25M196 144h1.25M196 147.5h1.25M198.5 145h1.25M195 142h1.25M193.5 139h1.25M193 153h1.25M201 137h1.25M197 149h1.25M196.5 154h1.25M192 144.5h1.25M188 151.5h1.25M194.5 145h1.25M201.5 143h1.25M195.5 139.5h1.25M203.5 153.5h1.25M195 152.5h1.25M194.5 129.5h1.25M194.5 138.5h1.25M198.5 145.5h1.25M193.5 138.5h1.25M196 127.5h1.25M199.5 149h1.25M197 134h1.25M196 137.5h1.25M194 153h1.25M195.5 138.5h1.25M199.5 133.5h1.25M204 145h1.25M197.5 144.5h1.25M190.5 146h1.25M198.5 143h1.25M193 142h1.25M202.5 138h1.25M198.5 148h1.25M191 139.5h1.25M198 150.5h1.25M198 138.5h1.25M196.5 131.5h1.25M198.5 142h1.25M195.5 143h1.25M197 136h1.25M205.5 135.5h1.25M197 142.5h1.25M189 140.5h1.25M192 133.5h1.25M188.5 141.5h1.25M200 147h1.25M195.5 144.5h1.25M186.5 144h1.25M193.5 146h1.25M199 142h1.25M195 140h1.25M204 139.5h1.25M197.5 147.5h1.25M202 133h1.25M196.5 134.5h1.25M194.5 146.5h1.25M188.5 143h1.25M195.5 147h1.25M196 143h1.25M195 149h1.25M199 144h1.25M182.5 146h1.25M193.5 146h1.25M197.5 145.5h1.25M194.5 143h1.25M195.5 132.5h1.25M198 137h1.25M196.5 148h1.25M201.5 145h1.25M197.5 142h1.25M192.5 145h1.25M197.5 138.5h1.25M198.5 135h1.25M198 138h1.25M192.5 137h1.25M194 136h1.25M196.5 143h1.25M208.5 131.5h1.25M194.5 147h1.25M202.5 142h1.25M200 140h1.25M199.5 139h1.25M190.5 143h1.25M195 142h1.25M194 133h1.25M194.5 138h1.25M191 136.5h1.25M195.5 141.5h1.25M192 135h1.25M193 136.5h1.25M195 151.5h1.25M194.5 130h1.25M202 141h1.25M194 144.5h1.25M193.5 151.5h1.25M195.5 141h1.25M194 144h1.25M194.5 139h1.25M195 136h1.25M199 149.5h1.25M191.5 139h1.25M197.5 133.5h1.25M192.5 144.5h1.25M196 143h1.25M187.5 148.5h1.25M196.5 140.5h1.25M203.5 147.5h1.25M189.5 153h1.25M193.5 140.5h1.25M191 151h1.25M196 145h1.25M200.5 142.5h1.25M187.5 152h1.25M195 133h1.25M194.5 140h1.25M194.5 141.5h1.25M198.5 153.5h1.25M200.5 143.5h1.25M206 143h1.25M206.5 143h1.25M189.5 151h1.25M195.5 140.5h1.25M196 143h1.25M199 142h1.25M191 145h1.25M198.5 140.5h1.25M198 146.5h1.25M189 130.5h1.25M193 148h1.25M190 149.5h1.25M194 145.5h1.25M194.5 139h1.25M195 137.5h1.25M192 137.5h1.25M194.5 140h1.25M190 139h1.25M195 146h1.25M199 143h1.25M197 134.5h1.25M194 147h1.25M198 151.5h1.25M205.5 154h1.25M194 138.5h1.25M195 150.5h1.25M198 140.5h1.25M191.5 142h1.25M195 150.5h1.25M207 133.5h1.25M189.5 147.5h1.25M199.5 138.5h1.25M198 145h1.25M191.5 147h1.25M194 144h1.25M202.5 136.5h1.25M200.5 147.5h1.25M203.5 137.5h1.25M198 133h1.25M196.5 151.5h1.25M205 147h1.25M192 132.5h1.25M198.5 138.5h1.25M198.5 143h1.25M196.5 153h1.25M190.5 141.5h1.25M200 152.5h1.25M192 134.5h1.25M194 131.5h1.25M191 151.5h1.25M192.5 134h1.25M194.5 143h1.25M193 142h1.25M200.5 147h1.25M195 150h1.25M203.5 145.5h1.25M188 148h1.25M195 148.5h1.25M193.5 137.5h1.25M193.5 139h1.25M203.5 138.5h1.25M194 143h1.25M191 138.5h1.25M191.5 148h1.25M189.5 141h1.25M197 150h1.25M199.5 144h1.25M202.5 145h1.25M190 139h1.25M191 134.5h1.25M192.5 132h1.25M190 138h1.25M194.5 128.5h1.25M194.5 151h1.25M194.5 137.5h1.25M199 146.5h1.25M198 141.5h1.25M204 140h1.25M186.5 145h1.25M200 143h1.25M198.5 145h1.25M203 146h1.25M197 139.5h1.25M191.5 134h1.25M191 140.5h1.25M195 146.5h1.25M197 129.5h1.25M188.5 137.5h1.25M207 139.5h1.25M198.5 144h1.25M194 146.5h1.25M187 135.5h1.25M189 144.5h1.25M205.5 139h1.25M191 135h1.25M196 140.5h1.25M197.5 137.5h1.25M193 149h1.25M201.5 146.5h1.25M192 150h1.25M210.5 136h1.25M200 141h1.25M198 144h1.25M199 138.5h1.25M197 138.5h1.25M197.5 142.5h1.25M193 141.5h1.25M194 144h1.25M197 144h1.25M186.5 141h1.25M193 138.5h1.25M200 147h1.25M196.5 151.5h1.25M202 144.5h1.25M200.5 153.5h1.25M192 134.5h1.25M192 140h1.25M196 150.5h1.25M193.5 152h1.25M202.5 151h1.25M196.5 137.5h1.25M202 145.5h1.25M195.5 148.5h1.25M198.5 138h1.25M199 144h1.25M196 145.5h1.25M193 143h1.25M194 147.5h1.25M197 141.5h1.25M200.5 139h1.25M193 149.5h1.25M192.5 151.5h1.25M201 140.5h1.25M197 140.5h1.25M194.5 137h1.25M206.5 147h1.25M197.5 140h1.25M195.5 149h1.25M187.5 139h1.25M193.5 134.5h1.25M200.5 140h1.25M202.5 151h1.25M193 150.5h1.25M198.5 142.5h1.25M203 145.5h1.25M198.5 135h1.25M201.5 142.5h1.25M203 142.5h1.25M202 145h1.25M200.5 131h1.25M197.5 142.5h1.25M196.5 136.5h1.25M189 147.5h1.25M197 144.5h1.25M201.5 140h1.25M203 147.5h1.25M198.5 144.5h1.25M205 146.5h1.25M200.5 137.5h1.25M199 137h1.25M194 146h1.25M196 132h1.25M192.5 139.5h1.25M199.5 140h1.25M201.5 144h1.25M192.5 153.5h1.25M196.5 140.5h1.25M194 143h1.25M195 145h1.25M200.5 144h1.25M194 150h1.25M196 146h1.25M187.5 150h1.25M194.5 148.5h1.25M192 142h1.25M203 150.5h1.25M198.5 148h1.25M188 139h1.25M196 130.5h1.25M194.5 144.5h1.25M201 142h1.25M196.5 147.5h1.25M200 152h1.25M188 145.5h1.25M194.5 135h1.25M191.5 140.5h1.25M198.5 139h1.25M169 121.5h1.25M194.5 118.5h1.25M188 127h1.25M181.5 119h1.25M174 127.5h1.25M188.5 122h1.25M184.5 119.5h1.25M181 128.5h1.25M188 124.5h1.25M189 120h1.25M185 117.5h1.25M161 121.5h1.25M177.5 119.5h1.25M169 120.5h1.25M179 118h1.25M174.5 116.5h1.25M176 124.5h1.25M172 124.5h1.25M169.5 118.5h1.25M208 116h1.25M189.5 118h1.25M184 124h1.25M189.5 121.5h1.25M176 131.5h1.25M187.5 124.5h1.25M174 117.5h1.25M187 128h1.25M176.5 117h1.25M190 119.5h1.25M185.5 117.5h1.25M181.5 118.5h1.25M178 118.5h1.25M184 120.5h1.25M184 120h1.25M191.5 119h1.25M178.5 126h1.25M183 119h1.25M176.5 118.5h1.25M191 122h1.25M181.5 115.5h1.25M189.5 125.5h1.25M193 117.5h1.25M192.5 119.5h1.25M185 122.5h1.25M189 116.5h1.25M182.5 125h1.25M198.5 121h1.25M186 127.5h1.25M178.5 121h1.25M182 127.5h1.25M179 123h1.25M178.5 123h1.25M198 125h1.25M187.5 120.5h1.25M176.5 126h1.25M193.5 119h1.25M180 120.5h1.25M179.5 125.5h1.25M172.5 126.5h1.25M196 116.5h1.25M183.5 121.5h1.25M173.5 130h1.25M195.5 120h1.25M178 123h1.25M194 126.5h1.25M185 118h1.25M168 122h1.25M188 126h1.25M196 122h1.25M181.5 127h1.25M181.5 125.5h1.25M161.5 127.5h1.25M185.5 124h1.25M191 122.5h1.25M169.5 120.5h1.25M198 121.5h1.25M182.5 120.5h1.25M181 120h1.25M173 122h1.25M176.5 117.5h1.25M193 121.5h1.25M185.5 128.5h1.25M198 120.5h1.25M186.5 122h1.25M176.5 123.5h1.25M178 119.5h1.25M182.5 123.5h1.25M188 122h1.25M191.5 120.5h1.25M179 125h1.25M175 124.5h1.25M189 120h1.25M177 122.5h1.25M187 120.5h1.25M179 116h1.25M185 125h1.25M190.5 122h1.25M187.5 128h1.25M189.5 123h1.25M183.5 124.5h1.25M186 121.5h1.25M191.5 122.5h1.25M189.5 121h1.25M194 123h1.25M178.5 120h1.25M199 124.5h1.25M192 121h1.25M181.5 121h1.25M187 122h1.25M186 118.5h1.25M202.5 118h1.25M222.5 124h1.25M195 123h1.25M193.5 124.5h1.25M173.5 119h1.25M173 126h1.25M181.5 122.5h1.25M185 122.5h1.25M183 119.5h1.25M174.5 124h1.25" stroke="#000" stroke-width="1.25" transform="translate(0,0.5)"/>
<path d="M168 117h1.25M177 128h1.25" stroke="#000" stroke-width="1.25" transform="translate(0,0.5)"/>
<path d="M336.5 108.5h1.25M324 104.5h1.25M323 106.5h1.25M338 102h1.25M334 106h1.25M332.5 102h1.25M338 92.5h1.25M336 104.5h1.25M338 104.5h1.25M326.5 108h1.25M329 91h1.25M335 102.5h1.25M335.5 105h1.25M341.5 106.5h1.25M327 104.5h1.25M336 102h1.25M334.5 102h1.25M337.5 98.5h1.25M322.5 102h1.25M329.5 101h1.25M337.5 97.5h1.25M334.5 97.5h1.25M329 99.5h1.25M329.5 104h1.25M328.5 101.5h1.25M333 101h1.25M337.5 107h1.25M337 108h1.25M334 107.5h1.25M338 102.5h1.25M339.5 98.5h1.25M329 97h1.25M335.5 97h1.25M338 97h1.25M332 102h1.25M336.5 99h1.25M337 106h1.25M333.5 94.5h1.25M339 100.5h1.25M330.5 103h1.25M324 106h1.25M328 104h1.25M334 98.5h1.25M335.5 104h1.25M333 102.5h1.25M335 99.5h1.25M329 102h1.25M325.5 97.5h1.25M336.5 105h1.25M333 104.5h1.25M333 99h1.25M336.5 102h1.25M333.5 101.5h1.25M344.5 104.5h1.25M338 101.5h1.25M336 99h1.25M332 101.5h1.25M333.5 109.5h1.25M330 106h1.25M335 103h1.25M344 101.5h1.25M325.5 107h1.25M337 95.5h1.25M336.5 98h1.25M333 107.5h1.25M329 101h1.25M340 102h1.25M331.5 106h1.25M338.5 106.5h1.25M345 95h1.25M326 99.5h1.25M325.5 98.5h1.25M327 105h1.25M338.5 99.5h1.25M344.5 109.5h1.25M330 100.5h1.25M332.5 104.5h1.25M336.5 102.5h1.25M335 103h1.25M336.5 99.5h1.25M334 98.5h1.25M334 101h1.25M334 94h1.25M327 109.5h1.25M335 98.5h1.25M336 111.5h1.25M339.5 97.5h1.25M330 94h1.25M328.5 106.5h1.25M341 102.5h1.25M326.5 91.5h1.25M334.5 102h1.25M333 102h1.25M343 101h1.25M335 105h1.25M341 101.5h1.25M333 105h1.25M333.5 97.5h1.25M333.5 101.5h1.25M329.5 95.5h1.25M329.5 99.5h1.25M337.5 107h1.25M320.5 102.5h1.25M332.5 102.5h1.25M336.5 98.5h1.25M320.5 103.5h1.25M332.5 105h1.25M335.5 100.5h1.25M336.5 101h1.25M335.5 98.5h1.25M368.5 105.5h1.25M363 104h1.25M377 102h1.25M360 111.5h1.25M379 105.5h1.25M370 108h1.25M365.5 108.5h1.25M365.5 92h1.25M365 105.5h1.25M378 103.5h1.25M363 104.5h1.25M366.5 101h1.25M374 106h1.25M362.5 104.5h1.25M372 96.5h1.25M357.5 102.5h1.25M363.5 98.5h1.25M364 96.5h1.25M378 105.5h1.25M370.5 100.5h1.25M370 90h1.25M362.5 106h1.25M363 103.5h1.25M354.5 102.5h1.25M369 107h1.25M366.5 100h1.25M374.5 99h1.25M363.5 103h1.25M368 106.5h1.25M362 107h1.25M370 97h1.25M370 99h1.25M375 112.5h1.25M359.5 93h1.25M361.5 102h1.25M366 101.5h1.25M375 105.5h1.25M370 94h1.25M369.5 102h1.25M367.5 103.5h1.25M374 97h1.25M370 93.5h1.25M369.5 104h1.25M375.5 103.5h1.25M369.5 100h1.25M368 104h1.25M366 102.5h1.25M368 99h1.25M367 110h1.25M371.5 106.5h1.25M356.5 98h1.25M358 101h1.25M365.5 107h1.25M364 101h1.25M372.5 102h1.25M356.5 105.5h1.25M361 104h1.25M373 107h1.25M363 102.5h1.25M362 109.5h1.25M371 104.5h1.25M370.5 109.5h1.25M364.5 107h1.25M376 102.5h1.25M374 106.5h1.25M361 103.5h1.25M359 107h1.25M362 103.5h1.25M365.5 113.5h1.25M371 104.5h1.25M377 100h1.25M371.5 106.5h1.25M368.5 108.5h1.25M362.5 113h1.25M370 107h1.25M369.5 105.5h1.25M384.5 104.5h1.25M362 102h1.25M350.5 106.5h1.25M364.5 103.5h1.25M363 107.5h1.25M379 99.5h1.25M373 107.5h1.25M371.5 105.5h1.25M373 110.5h1.25M365 91h1.25M370 101.5h1.25M375.5 101.5h1.25M369 91.5h1.25M369.5 105h1.25M375.5 106.5h1.25M370.5 106.5h1.25M356 109.5h1.25M369 105.5h1.25M370.5 101.5h1.25M366.5 104.5h1.25M370 111h1.25M369.5 107.5h1.25M363 114h1.25M375.5 109h1.25M360.5 107.5h1.25M360.5 102.5h1.25M363.5 98.5h1.25M369 113.5h1.25M363.5 109.5h1.25M367.5 103h1.25M369 107h1.25M363 98h1.25M363.5 89h1.25M349 100h1.25M368 102.5h1.25M364 100h1.25M362 103h1.25M366.5 102.5h1.25M367.5 108h1.25M359.5 95.5h1.25M375 98h1.25M363 106.5h1.25M365.5 109.5h1.25M367 108h1.25M368.5 107h1.25M364.5 101h1.25M368.5 99h1.25M374.5 103.5h1.25M365 112.5h1.25M363.5 100.5h1.25M370.5 103h1.25M367.5 105h1.25M371.5 102.5h1.25M374.5 100.5h1.25M368.5 102.5h1.25M375.5 100.5h1.25M382 100h1.25M370 106h1.25M371 107h1.25M360 97h1.25M366.5 105.5h1.25M362 106h1.25M375.5 105.5h1.25M371.5 101h1.25M381 104.5h1.25M368.5 105.5h1.25M366 104.5h1.25M369 99h1.25M372 107.5h1.25M365.5 98.5h1.25M365.5 99h1.25M378.5 111h1.25M369 103h1.25M373.5 108h1.25M378.5 95h1.25M371 97h1.25M379.5 94.5h1.25M361 99.5h1.25M365.5 103h1.25M373.5 103.5h1.25M368 106h1.25M358.5 111h1.25M360.5 107.5h1.25M371.5 98.5h1.25M374 107.5h1.25M370 105.5h1.25M369 108h1.25M374.5 93.5h1.25M379 106h1.25M370.5 102h1.25M365.5 107.5h1.25M362.5 98h1.25M372 106h1.25M365.5 114h1.25M369.5 107h1.25M367.5 105h1.25M363.5 112h1.25M359 101.5h1.25M356.5 103h1.25M369 105h1.25M371.5 101.5h1.25M370.5 101h1.25M363 104h1.25M373 94h1.25M362.5 100h1.25M370 102.5h1.25M369.5 111h1.25M369.5 105h1.25M363 97h1.25M365.5 113h1.25M361 104h1.25M361.5 107h1.25M373.5 98h1.25M367.5 103h1.25M364.5 99h1.25M369.5 106h1.25M376.5 101h1.25M367.5 100.5h1.25M364 115h1.25M374.5 103h1.25M366 105h1.25M376.5 110h1.25M367.5 98h1.25M365.5 113h1.25M362 103h1.25M356 107h1.25M368 113.5h1.25M355.5 99h1.25M361 108.5h1.25M367.5 97.5h1.25M370.5 88.5h1.25M375 109h1.25M358 99.5h1.25M358 105h1.25M370 99.5h1.25M376.5 102h1.25M371 106.5h1.25M369 106.5h1.25M366 100h1.25M360.5 102.5h1.25M371.5 113h1.25M369 103h1.25M366 104h1.25M360 98.5h1.25M369.5 109.5h1.25M375.5 107.5h1.25M364 110.5h1.25M369.5 103h1.25M378.5 104h1.25M375 103h1.25M367.5 105h1.25M368 104.5h1.25M369 111.5h1.25M368 100.5h1.25M355 108.5h1.25M378 98.5h1.25M369.5 114.5h1.25M364 102.5h1.25M373 101h1.25M360.5 103h1.25M348.5 98.5h1.25M371.5 102h1.25M365 104h1.25M364.5 100h1.25M365.5 96.5h1.25M369 103h1.25M370.5 101.5h1.25M377 104h1.25M364 109.5h1.25M361 112h1.25M380 98h1.25M358.5 106h1.25M371.5 107.5h1.25M361 97h1.25M354 105.5h1.25M362 92h1.25M368.5 108h1.25M368.5 101h1.25M371 90.5h1.25M368 107h1.25M365 99.5h1.25M363.5 111h1.25M362 91.5h1.25M367.5 95.5h1.25M365.5 100h1.25M366 97h1.25M370.5 107h1.25M368 105.5h1.25M368.5 101.5h1.25M366 107h1.25M364.5 97h1.25M351.5 105.5h1.25M374 104.5h1.25M366 99.5h1.25M365 108h1.25M378.5 107.5h1.25M368 111.5h1.25M375 91.5h1.25M363 93.5h1.25M352.5 104.5h1.25M365.5 102.5h1.25M371 103.5h1.25M368.5 106h1.25M362 115.5h1.25M372.5 103.5h1.25M369.5 100.5h1.25M369 106h1.25M362.5 99.5h1.25M384.5 99.5h1.25M375 100h1.25M364 107.5h1.25M359 114h1.25M371.5 104h1.25M378.5 101h1.25M376 105h1.25M371 103.5h1.25M363.5 102h1.25M373 104h1.25M365 100.5h1.25M355.5 111h1.25M368.5 96.5h1.25M365.5 105h1.25M363.5 103h1.25M366 106h1.25M365.5 113.5h1.25M374.5 108.5h1.25M368 104h1.25M374.5 122h1.25M370 112.5h1.25M377 100.5h1.25M365 115.5h1.25M368.5 117.5h1.25M367 123.5h1.25M373.5 103.5h1.25M354.5 117h1.25M362.5 103.5h1.25M357 93.5h1.25M376 102.5h1.25M366 98.5h1.25M356.5 106.5h1.25M363 116.5h1.25M373 111.5h1.25M383 109.5h1.25M359 115.5h1.25M383.5 105h1.25M380.5 112.5h1.25M365.5 93h1.25M360 100h1.25M376 99.5h1.25M375 117h1.25M364 103.5h1.25M358 108h1.25M363.5 105.5h1.25M362 106h1.25M382.5 106.5h1.25M359 99.5h1.25M370 103h1.25M367.5 107h1.25M359 89.5h1.25M364.5 87.5h1.25M374 95.5h1.25M360 104.5h1.25M356 115h1.25M357.5 107h1.25M369 119h1.25M374 119.5h1.25M373.5 89.5h1.25M370 103.5h1.25M367.5 107.5h1.25M377 91h1.25M369.5 104.5h1.25M352.5 103.5h1.25M368 105.5h1.25M365 101h1.25M368 105h1.25M354.5 121.5h1.25M351.5 116.5h1.25M358 98.5h1.25M370.5 98.5h1.25M352 99.5h1.25M375 92h1.25M382 115h1.25M375 110.5h1.25M356.5 102.5h1.25M370 114h1.25M373 106.5h1.25M361.5 129h1.25M354 107h1.25M354 117.5h1.25M360.5 112.5h1.25M381 83h1.25M354.5 87h1.25M350.5 93h1.25M355.5 117.5h1.25M363.5 109.5h1.25M380.5 107.5h1.25M363 117h1.25M368 96.5h1.25M343 99h1.25M365 98.5h1.25M371 121.5h1.25M374 83h1.25M360.5 97h1.25M374 111h1.25M365 105h1.25M361 95.5h1.25M365 97.5h1.25M361.5 116.5h1.25M363 113.5h1.25M368 99.5h1.25M372.5 103.5h1.25M370.5 106h1.25M377 112h1.25M365 100.5h1.25M387 105.5h1.25M368 107.5h1.25M363 95.5h1.25M361.5 98h1.25M376 127h1.25M359.5 108h1.25M374 98.5h1.25M359.5 100.5h1.25M380.5 112h1.25M357 107h1.25M366 107h1.25M346.5 106h1.25M368 111.5h1.25M367 101.5h1.25M362 114h1.25M394 99.5h1.25M376.5 117h1.25M364 78.5h1.25M371 102h1.25M359 111h1.25M332.5 135.5h1.25M340 143.5h1.25M340.5 142h1.25M337 142.5h1.25M341 146.5h1.25M339 144h1.25M335.5 145h1.25M344.5 147.5h1.25M337.5 133h1.25M333.5 141.5h1.25M332.5 137.5h1.25M344 134.5h1.25M331 140h1.25M336.5 149h1.25M338.5 142.5h1.25M338 134.5h1.25M329 134h1.25M335.5 133.5h1.25M339.5 140h1.25M338.5 142.5h1.25M336.5 133h1.25M333 140.5h1.25M330 138.5h1.25M331 142h1.25M338 140h1.25M338 143.5h1.25M336 140.5h1.25M339.5 140.5h1.25M336.5 139h1.25M334.5 136.5h1.25M338.5 140.5h1.25M334.5 144h1.25M341 140h1.25M333 141h1.25M336.5 142h1.25M336.5 144h1.25M332 139.5h1.25M335 141h1.25M333.5 137h1.25M331 139.5h1.25M343 146.5h1.25M334.5 139.5h1.25M337.5 133h1.25M339 145h1.25M335.5 132.5h1.25M330.5 142h1.25M334.5 139h1.25M338.5 140h1.25M335 138.5h1.25M329 144.5h1.25M341.5 138h1.25M337.5 136.5h1.25M339 139.5h1.25M334.5 137.5h1.25M340.5 139.5h1.25M338.5 136.5h1.25M347 141.5h1.25M331 145h1.25M332 144.5h1.25M340.5 147.5h1.25M335.5 134h1.25M338.5 143h1.25M337.5 140.5h1.25M343 144h1.25M333 141.5h1.25M331.5 139h1.25M329.5 136.5h1.25M332 132.5h1.25M336 140.5h1.25M334 133.5h1.25M342.5 139h1.25M334.5 137.5h1.25M340 135h1.25M336 134.5h1.25M340 136h1.25M332 141.5h1.25M337.5 143h1.25M338.5 147h1.25M332.5 141.5h1.25M339 141h1.25M341.5 143.5h1.25M338 145h1.25M334 140.5h1.25M334 144.5h1.25M333 136.5h1.25M337.5 140h1.25M331.5 139.5h1.25M341 139.5h1.25M331 138.5h1.25M331.5 136h1.25M339.5 141.5h1.25M341 136h1.25M335 135h1.25M339.5 136h1.25M332 135h1.25M338 140.5h1.25M336.5 144.5h1.25M336.5 136.5h1.25M344.5 137h1.25M334 144.5h1.25M336.5 141h1.25M330 137h1.25M332.5 141h1.25M335 141.5h1.25M333 138.5h1.25M337.5 135h1.25M332.5 144h1.25M334 148.5h1.25M339.5 142.5h1.25M335.5 141h1.25M336.5 134h1.25M334 138h1.25M339.5 138.5h1.25M326.5 140.5h1.25M335 141.5h1.25M337 134.5h1.25M330 137h1.25M332 139h1.25M333.5 138.5h1.25M338 138.5h1.25M334 141.5h1.25M340 142h1.25M330 140h1.25M335 143.5h1.25M326 139h1.25M336 141.5h1.25M334.5 138h1.25M336.5 133.5h1.25M336.5 133h1.25M332.5 143h1.25M337.5 141h1.25M340.5 141.5h1.25M337.5 136.5h1.25M333.5 145h1.25M333 143.5h1.25M338 146h1.25M333.5 144h1.25M334 138.5h1.25M343 146.5h1.25M337 145.5h1.25M338.5 139.5h1.25M340.5 135h1.25M331.5 129h1.25M337 136.5h1.25M334.5 140h1.25M336 142h1.25M336 144.5h1.25M329.5 143.5h1.25M340.5 138.5h1.25M342 139h1.25M345 145h1.25M338 140h1.25M338.5 141h1.25M336.5 141.5h1.25M341.5 139h1.25M333 148h1.25M337 142.5h1.25M336 137.5h1.25M340.5 145h1.25M334.5 137h1.25M337 141.5h1.25M334.5 143.5h1.25M337.5 136h1.25M336 140h1.25M337 138h1.25M339 136h1.25M338 139.5h1.25M332.5 137h1.25M330 133.5h1.25M330 140.5h1.25M335.5 134.5h1.25M333.5 135h1.25M339.5 136h1.25M336 141h1.25M338.5 144h1.25M335 133h1.25M338 142h1.25M329 139h1.25M337 138h1.25M336 134h1.25M332 135h1.25M342 139.5h1.25M334.5 136h1.25M336.5 140h1.25M335 135h1.25M332.5 133.5h1.25M329 141h1.25M333.5 141.5h1.25M335.5 138.5h1.25M334.5 139.5h1.25M343.5 142h1.25M333 144.5h1.25M334.5 134h1.25M328.5 132.5h1.25M338.5 142.5h1.25M332 138.5h1.25M330.5 139h1.25M339.5 141h1.25M334.5 136h1.25M336.5 141h1.25M334.5 139h1.25M339.5 140h1.25M331 144h1.25M335.5 132h1.25M340.5 145.5h1.25M337.5 137h1.25M331.5 137.5h1.25M328 141.5h1.25M338 135.5h1.25M343 143h1.25M342 142h1.25M341 141h1.25M332 140h1.25M331 136h1.25M335.5 135h1.25M330.5 142h1.25M335.5 139h1.25M336.5 134h1.25M336.5 136h1.25M337.5 140.5h1.25M336 145.5h1.25M336.5 141.5h1.25M336.5 141h1.25M341 147.5h1.25M337 138.5h1.25M335 139h1.25M341 137.5h1.25M331 129h1.25M335 139.5h1.25M334.5 138.5h1.25M336 136.5h1.25M336 135.5h1.25M334.5 148.5h1.25M338 140h1.25M335.5 139.5h1.25M341 136.5h1.25M336 138.5h1.25M340.5 141.5h1.25M333 132h1.25M338.5 144.5h1.25M333.5 145h1.25M330 134h1.25M328.5 141.5h1.25M334 142h1.25M324.5 141.5h1.25M336 145.5h1.25M338 133.5h1.25M342.5 139.5h1.25M341 135.5h1.25M337.5 143h1.25M340 142.5h1.25M331 138h1.25M332 140.5h1.25M329 146h1.25M332.5 142.5h1.25M332 148.5h1.25M343 132.5h1.25M329 141h1.25M329.5 138.5h1.25M340 135.5h1.25M334 137.5h1.25M336 143h1.25M338.5 134h1.25M331 140.5h1.25M341 137h1.25M332.5 138h1.25M335 140h1.25M335 140h1.25M333 143h1.25M339 141h1.25M336 137h1.25M331.5 140.5h1.25M335 138.5h1.25M342 138.5h1.25M341.5 147.5h1.25M341 138.5h1.25M338 138.5h1.25M337 141h1.25M331 139.5h1.25M337 142h1.25M337.5 140h1.25M335 144.5h1.25M334 137.5h1.25M336.5 139h1.25M331 142.5h1.25M340.5 140.5h1.25M336.5 140.5h1.25M340 136h1.25M336.5 144.5h1.25M333 142.5h1.25M328.5 143.5h1.25M343 143h1.25M338.5 136h1.25M332.5 136h1.25M338.5 139h1.25M340.5 139h1.25M339 141.5h1.25M336 138h1.25M339.5 130.5h1.25M345.5 138h1.25M338.5 147.5h1.25M331 136h1.25M340.5 134.5h1.25M336 139h1.25M337.5 139h1.25M339 136.5h1.25M336 134.5h1.25M338.5 132.5h1.25M338 137h1.25M342 141h1.25M338 137.5h1.25M337.5 143.5h1.25M338.5 147h1.25M336.5 147.5h1.25M330.5 138h1.25M335.5 139h1.25M338.5 138.5h1.25M331.5 138h1.25M331 139.5h1.25M337 125h1.25M339.5 136h1.25M335.5 140.5h1.25M335.5 143.5h1.25M341 128.5h1.25M345.5 138.5h1.25M336.5 138.5h1.25M332.5 138.5h1.25M336 140h1.25M340 142h1.25M333 145h1.25M338.5 137h1.25M338.5 143h1.25M335.5 139.5h1.25M326.5 132h1.25M334 138.5h1.25M339.5 134h1.25M332.5 139h1.25M331.5 135h1.25M340 139.5h1.25M341.5 135h1.25M339.5 143h1.25M343.5 140h1.25M341 143.5h1.25M336 134h1.25M333 136.5h1.25M334.5 142h1.25M339.5 135h1.25M337.5 141.5h1.25M338.5 135h1.25M330.5 142h1.25M335 138.5h1.25M341.5 136.5h1.25M330 136.5h1.25M341.5 138.5h1.25M338 141.5h1.25M344 136.5h1.25M337.5 140.5h1.25M335 140h1.25M329 141h1.25M330.5 143h1.25M335.5 132.5h1.25M334 142h1.25M332.5 130.5h1.25M334.5 139h1.25M335.5 140h1.25M340.5 143h1.25M340.5 138.5h1.25M343 133h1.25M330 134.5h1.25M334.5 140h1.25M331.5 139h1.25M339 141h1.25M337 143h1.25M341 136h1.25M335 132.5h1.25M332 135.5h1.25M333.5 132h1.25M334.5 139h1.25M330.5 136.5h1.25M338.5 141.5h1.25M323.5 138h1.25M328.5 144.5h1.25M336 138.5h1.25M327 142.5h1.25M326 143h1.25M320 136.5h1.25M341.5 141.5h1.25M322.5 147h1.25M330.5 141h1.25M327 135.5h1.25M334 145.5h1.25M323.5 139h1.25M341.5 145.5h1.25M340.5 139.5h1.25M330.5 134.5h1.25M322 141h1.25M324 140.5h1.25M325.5 151.5h1.25M330 137.5h1.25M329.5 125.5h1.25M333.5 136h1.25M337.5 134h1.25M339 126h1.25M324.5 147h1.25M334 138h1.25M336 135.5h1.25M336.5 150h1.25M341.5 135h1.25M340 149.5h1.25M332 143h1.25M333 138.5h1.25M328 144.5h1.25M336.5 141.5h1.25M335 135.5h1.25M336.5 146.5h1.25M327 132.5h1.25M338 142.5h1.25M327 146.5h1.25M325.5 148h1.25M342 137.5h1.25M326 146h1.25M331 130h1.25M338 138.5h1.25M338.5 133h1.25M333 144h1.25M334 136h1.25M319.5 145.5h1.25M338 142.5h1.25M334 137.5h1.25M323 149h1.25M333.5 136h1.25M338.5 146h1.25M335.5 135h1.25M339.5 150.5h1.25M349.5 150h1.25M342.5 131h1.25M321 134h1.25M337.5 142.5h1.25M324 136.5h1.25M335 132h1.25M334.5 145h1.25M346 142.5h1.25M318.5 151h1.25M332.5 142h1.25M326.5 144h1.25M326.5 139.5h1.25M327.5 149.5h1.25M336.5 134.5h1.25M331.5 139h1.25M333 145.5h1.25M329.5 150h1.25M340 136.5h1.25M331.5 135.5h1.25M320 133.5h1.25M323 135.5h1.25M334.5 144h1.25M326 136h1.25M332.5 145h1.25M340.5 143h1.25M334 132.5h1.25M328.5 145h1.25M326 137h1.25M347 148h1.25M330.5 148h1.25M333 138h1.25M329.5 140.5h1.25M337.5 140.5h1.25M330 134.5h1.25M322.5 140.5h1.25M329.5 145h1.25M334.5 143h1.25M323 144.5h1.25M320 143h1.25M334.5 150.5h1.25M360.5 147.5h1.25M359.5 139h1.25M367.5 140.5h1.25M364.5 138h1.25M367.5 146.5h1.25M366.5 148h1.25M350.5 146.5h1.25M356.5 146.5h1.25M373.5 138.5h1.25M362 142.5h1.25M358.5 138.5h1.25M365.5 145.5h1.25M348.5 142h1.25M358 148.5h1.25M352.5 141.5h1.25M361.5 137h1.25M369.5 148h1.25M368 146h1.25M375.5 147.5h1.25M366 146h1.25M363 144.5h1.25M373.5 145h1.25M369 152h1.25M377 146h1.25M367 146.5h1.25M380 145h1.25M368.5 141h1.25M364 147h1.25M367.5 150h1.25M366.5 135.5h1.25M368 147.5h1.25M355.5 143h1.25M364 145h1.25M374 141h1.25M374.5 148h1.25M371.5 139.5h1.25M364.5 143.5h1.25M361.5 152.5h1.25M353.5 145h1.25M357.5 149.5h1.25M364.5 148h1.25M360.5 130.5h1.25M356.5 148.5h1.25M369 146.5h1.25M354.5 147.5h1.25M363.5 148h1.25M360.5 142h1.25M349.5 145.5h1.25M368.5 137h1.25M369 149.5h1.25M373 144h1.25M368 149.5h1.25M367 147h1.25M361.5 144.5h1.25M369 152.5h1.25M350 144.5h1.25M359 143h1.25M360.5 143.5h1.25M360.5 147.5h1.25M374 143h1.25M358 148h1.25M348.5 149h1.25M364.5 141.5h1.25M368.5 139h1.25M365.5 149h1.25M377.5 145h1.25M364 151.5h1.25M357.5 147h1.25M368 136h1.25M369 137h1.25M368.5 143.5h1.25M368 145h1.25M355 150h1.25M368 142h1.25M365.5 137.5h1.25M365 145.5h1.25M368.5 149.5h1.25M361 151h1.25M363.5 145h1.25M365 142.5h1.25M361 143.5h1.25M366.5 136.5h1.25M360 146.5h1.25M362.5 141.5h1.25M360 152h1.25M371.5 136.5h1.25M360 145h1.25M360 151h1.25M345 147.5h1.25M361 147.5h1.25M366.5 147h1.25M366.5 142.5h1.25M363 148h1.25M372.5 146h1.25M360.5 144.5h1.25M373.5 144h1.25M373 141h1.25M363 149h1.25M359.5 145h1.25M361 140.5h1.25M356.5 150h1.25M370.5 131.5h1.25M366.5 145.5h1.25M371 147h1.25M368 147h1.25M366 139h1.25M362.5 146h1.25M355 147h1.25M360.5 152.5h1.25M375.5 141h1.25M370.5 136.5h1.25M364 143.5h1.25M367 140h1.25M363 145.5h1.25M358.5 142.5h1.25M366 139h1.25M361.5 139h1.25M352 146h1.25M359.5 152.5h1.25M357 146h1.25M360 149h1.25M368 140h1.25M364 151.5h1.25M372 141.5h1.25M358 136.5h1.25M362.5 152.5h1.25M356.5 139h1.25M360.5 144h1.25M367.5 143h1.25M368.5 151h1.25M359.5 143.5h1.25M365 146.5h1.25M358 151.5h1.25M351.5 147h1.25M369.5 149.5h1.25M364 150h1.25M360.5 142.5h1.25M362.5 149.5h1.25M370.5 150h1.25M369 149.5h1.25M370.5 136.5h1.25M356.5 148.5h1.25M373.5 147h1.25M359 146h1.25M356.5 146.5h1.25M378.5 137.5h1.25M355 145.5h1.25M372.5 136h1.25M353 144.5h1.25M361 144.5h1.25M361 143h1.25M351.5 148.5h1.25M355.5 149.5h1.25M360.5 145h1.25M363.5 138.5h1.25M372 145h1.25M367.5 140h1.25M366.5 150h1.25M362.5 138h1.25M365.5 142.5h1.25M361.5 146h1.25M352.5 147.5h1.25M354.5 145.5h1.25M368 147.5h1.25M368 147h1.25M362 144.5h1.25M360 151.5h1.25M364 147.5h1.25M368.5 151.5h1.25M358 147h1.25M355.5 146.5h1.25M367 142.5h1.25M347.5 149h1.25M364.5 145h1.25M361.5 149.5h1.25M362.5 146h1.25M369 145.5h1.25M352.5 149.5h1.25M371.5 142h1.25M369.5 140h1.25M368 143h1.25M362.5 147h1.25M368.5 139.5h1.25M361.5 143.5h1.25M361.5 146h1.25M362 146.5h1.25M369 138h1.25M372 134.5h1.25M362.5 150.5h1.25M361.5 144h1.25M354 141.5h1.25M370.5 141h1.25M369.5 143h1.25M362.5 138.5h1.25M366 143h1.25M359 144h1.25M362 146.5h1.25M363 145.5h1.25M376 144h1.25M380 146h1.25M360.5 139.5h1.25M355.5 149h1.25M374 145h1.25M364 141.5h1.25M364 147.5h1.25M366.5 142h1.25M351 148h1.25M367 143.5h1.25M369.5 146h1.25M360 149.5h1.25M368.5 138.5h1.25M361.5 152h1.25M361.5 147.5h1.25M363 146h1.25M365.5 150.5h1.25M365.5 145h1.25M366 143h1.25M356.5 143.5h1.25M374 137.5h1.25M360 151.5h1.25M370.5 146h1.25M366.5 139h1.25M380 144h1.25M363 145h1.25M348.5 149.5h1.25M372.5 147h1.25M360.5 143.5h1.25M364 144.5h1.25M365.5 149h1.25M355 141.5h1.25M368.5 147h1.25M360 145h1.25M364 144.5h1.25M363.5 149h1.25M359.5 144.5h1.25M357.5 142.5h1.25M367.5 136.5h1.25M364.5 147h1.25M356.5 146.5h1.25M358 152h1.25M352 146h1.25M372.5 147h1.25M361.5 145h1.25M384 143h1.25M364 140.5h1.25M368 148.5h1.25M369.5 150.5h1.25M363.5 149.5h1.25M371 142h1.25M367 147h1.25M361 149.5h1.25M368.5 146h1.25M366.5 146.5h1.25M364.5 147.5h1.25M362 145h1.25M369.5 130h1.25M354.5 151h1.25M373.5 148.5h1.25M359.5 146h1.25M354.5 148h1.25M367.5 140h1.25M370.5 144h1.25M354 146h1.25M363.5 149.5h1.25M357.5 145h1.25M363 146.5h1.25M366.5 148h1.25M353 150h1.25M371 150.5h1.25M368 143h1.25M364 141.5h1.25M366 139h1.25M357 146h1.25M367 149.5h1.25M367 152h1.25M374.5 147.5h1.25M370 145h1.25M367 149.5h1.25M364.5 143h1.25M371.5 147h1.25M362 143h1.25M360 138.5h1.25M370.5 141h1.25M372.5 145h1.25M363 146.5h1.25M352 152h1.25M364 148.5h1.25M359.5 143h1.25M367 144h1.25M364 141.5h1.25M364 143.5h1.25M375.5 134.5h1.25M362 140.5h1.25M352.5 143.5h1.25M375 143.5h1.25M373.5 145h1.25M360.5 142h1.25M356 142.5h1.25M361 144.5h1.25M355.5 150.5h1.25M358 147h1.25M364.5 151.5h1.25M360 148h1.25M379.5 147h1.25M369 146h1.25M378 142.5h1.25M362 144h1.25M361 149h1.25M367.5 152h1.25M364 152h1.25M367.5 145h1.25M371.5 142.5h1.25M361 139h1.25M360.5 141.5h1.25M365 145h1.25M361 142h1.25M363 152.5h1.25M368.5 141.5h1.25M371.5 140.5h1.25M353 149.5h1.25M360.5 142.5h1.25M360.5 149h1.25M358 148h1.25M364 140h1.25M358.5 143h1.25M370 150h1.25M363.5 136h1.25M367 139h1.25M361.5 140.5h1.25M376 140.5h1.25M361 148h1.25M369 133.5h1.25M369 142.5h1.25M352 152.5h1.25M366 142h1.25M354 146h1.25M365 149h1.25M366 148h1.25M353.5 144h1.25M375 148h1.25M361 147h1.25M365 148.5h1.25M367 145h1.25M358.5 137.5h1.25M369.5 135.5h1.25M353 141h1.25M356 143h1.25M356.5 143h1.25M365.5 145h1.25M363 146.5h1.25M362.5 148.5h1.25M380 137.5h1.25M363 143h1.25M360.5 151h1.25M368 138.5h1.25M360.5 144.5h1.25M358.5 147.5h1.25M355.5 144h1.25M373.5 127.5h1.25M361 148.5h1.25M354.5 143h1.25M365 146.5h1.25M364.5 134.5h1.25M363 149h1.25M375.5 143h1.25M356 149.5h1.25M362.5 147.5h1.25M370.5 149.5h1.25M360.5 151h1.25M359.5 143.5h1.25M357 145h1.25M368 145h1.25M368 145.5h1.25M367.5 142h1.25M362 136h1.25M359.5 142h1.25M348.5 144h1.25M360.5 148h1.25M349 151h1.25M364 141h1.25M366.5 140.5h1.25M366.5 144.5h1.25M374 147h1.25M369 132.5h1.25M373.5 143h1.25M365 141.5h1.25M360.5 146h1.25M363.5 145.5h1.25M360 142.5h1.25M364.5 147.5h1.25M368.5 140h1.25M355.5 142h1.25M374.5 145h1.25M351 142h1.25M361 142h1.25M371 152h1.25M360 141h1.25M371 146.5h1.25M367.5 144.5h1.25M363 147.5h1.25M353.5 152h1.25M364.5 147.5h1.25M363.5 141h1.25M363 141h1.25M360 137.5h1.25M359.5 147.5h1.25M362 149.5h1.25M361.5 138h1.25M361 151h1.25M367.5 148.5h1.25M361 147.5h1.25M364 137.5h1.25M360 138.5h1.25M365.5 150h1.25M365.5 145h1.25M364 149h1.25M368.5 146h1.25M367 141h1.25M371.5 144.5h1.25M360.5 146h1.25M359.5 142.5h1.25M350 151.5h1.25M368 150h1.25M370 151h1.25M363 146h1.25M363.5 144h1.25M368.5 138.5h1.25M365 146h1.25M366.5 142.5h1.25M372 142h1.25M366 141h1.25M366 142.5h1.25M356 146.5h1.25M361 146h1.25M349 150h1.25M374 144h1.25M375 142h1.25M363 153h1.25M361.5 148h1.25M366 145.5h1.25M360 150h1.25M359.5 148h1.25M365 136h1.25M356.5 145h1.25M372.5 144h1.25M367 149h1.25M363 150h1.25M370 146h1.25M365.5 150.5h1.25M377 148.5h1.25M361 145h1.25M371 142.5h1.25M378 140h1.25M362.5 141h1.25M367.5 142h1.25M374 144h1.25M369.5 144.5h1.25M359 149.5h1.25M361.5 148h1.25M365 152h1.25M372 141.5h1.25M366 144h1.25M359 135h1.25M371 142.5h1.25M359 144h1.25M367.5 140h1.25M372 143h1.25M359 149h1.25M368.5 140.5h1.25M356 150.5h1.25M378.5 135.5h1.25M359.5 143.5h1.25M373 140.5h1.25M366 147.5h1.25M364 137.5h1.25M367 138.5h1.25M354.5 149h1.25M366 143.5h1.25M357.5 145h1.25M365 143.5h1.25M352.5 143.5h1.25M360.5 145h1.25M349.5 152h1.25M370 148.5h1.25M367.5 140.5h1.25M359.5 150h1.25M355 145h1.25M373.5 131h1.25M359.5 139.5h1.25M364 139.5h1.25M366.5 147h1.25M369 149.5h1.25M371 134.5h1.25M365.5 147h1.25M366 148.5h1.25M364 151.5h1.25M370.5 151.5h1.25M354.5 145h1.25M359 140.5h1.25M354 147.5h1.25M357.5 149.5h1.25M357.5 142.5h1.25M367 149h1.25M370.5 140h1.25M371.5 143.5h1.25M363.5 150h1.25M353 145h1.25M356.5 145.5h1.25M369 150h1.25M359.5 139.5h1.25M371 136h1.25M366 147h1.25M370.5 142.5h1.25M372 145h1.25M365.5 144h1.25M363.5 141.5h1.25M359.5 149.5h1.25M372.5 132h1.25M365.5 148h1.25M358 146.5h1.25M366 136.5h1.25M368.5 146h1.25M366.5 149h1.25M367 143.5h1.25M361.5 139h1.25M367 148h1.25M370 138.5h1.25M380 131.5h1.25M369.5 135.5h1.25M368 143h1.25M356 148h1.25M361 144h1.25M363 143.5h1.25M368.5 149.5h1.25M358 143h1.25M376.5 133h1.25M358.5 150.5h1.25M360 143h1.25M364.5 138.5h1.25M364 134.5h1.25M365.5 144.5h1.25M353 139h1.25M359.5 147.5h1.25M366.5 150.5h1.25M368 138.5h1.25M356 142.5h1.25M362 146.5h1.25M364 142h1.25M366 139.5h1.25M367.5 151.5h1.25M358.5 147h1.25M370.5 143.5h1.25M364 137h1.25M371 146h1.25M373.5 137.5h1.25M360 140h1.25M361.5 142h1.25M369.5 149h1.25M360.5 150h1.25M364.5 146h1.25M369.5 140h1.25M362.5 136h1.25M376.5 143.5h1.25M358.5 151.5h1.25M362.5 144h1.25M365 146h1.25M370.5 141.5h1.25M350.5 151h1.25M372 141h1.25M370 145h1.25M365 149.5h1.25M374 147h1.25M358 149.5h1.25M366 146.5h1.25M354 147h1.25M370 148.5h1.25M362 141.5h1.25M376.5 142h1.25M370.5 141h1.25M364.5 146.5h1.25M364 139h1.25M357 135.5h1.25M363 139h1.25M376.5 143.5h1.25M373 146.5h1.25M368 142h1.25M363.5 147h1.25M358 144.5h1.25M373.5 152h1.25M363.5 140.5h1.25M346 144h1.25M358.5 151h1.25M359 141.5h1.25M362.5 145h1.25M369 145.5h1.25M361 140.5h1.25M355 148.5h1.25M362 152.5h1.25M367.5 135.5h1.25M369.5 136h1.25M365 148.5h1.25M356 149.5h1.25M363.5 150h1.25M359.5 143.5h1.25M369 144.5h1.25M368.5 141.5h1.25M360 138h1.25M362 148.5h1.25M350 147h1.25M362.5 143.5h1.25M365.5 141.5h1.25M376.5 135.5h1.25M362 141h1.25M364 146h1.25M356 143h1.25M376 137h1.25M359.5 141h1.25M374 134.5h1.25M364 145.5h1.25M369.5 137h1.25M367 145.5h1.25M359 142.5h1.25M355 149h1.25M360.5 148.5h1.25M371.5 143h1.25M365.5 139h1.25M350.5 152h1.25M366.5 141h1.25M354 148h1.25M364 148.5h1.25M360.5 148h1.25M354.5 135.5h1.25M367.5 139.5h1.25M378 146.5h1.25M359.5 146h1.25M367.5 144h1.25M376.5 147h1.25M349.5 141.5h1.25M373 149h1.25M361 143.5h1.25M363.5 142h1.25M343 146.5h1.25M360 151.5h1.25M358.5 147h1.25M363.5 145h1.25M362 145.5h1.25M360.5 148.5h1.25M377.5 139h1.25M349.5 149h1.25M367.5 145h1.25M364 143h1.25M357.5 143.5h1.25M367 142h1.25M371.5 146h1.25M354 151.5h1.25M365 139h1.25M358.5 145.5h1.25M367.5 139.5h1.25M362.5 137h1.25M371.5 146h1.25M373 140.5h1.25M357 140h1.25M371.5 148h1.25M363.5 145h1.25M361.5 150h1.25M366.5 148.5h1.25M370.5 137.5h1.25M359 150.5h1.25M365.5 134h1.25M358.5 146h1.25M362 148.5h1.25M364.5 142.5h1.25M378 145h1.25M364.5 144h1.25M358.5 150.5h1.25M353 148h1.25M361.5 146h1.25M363.5 149.5h1.25M365 143h1.25M365 143h1.25M355 144h1.25M363 141h1.25M364.5 145h1.25M366 145h1.25M362 149h1.25M364 147h1.25M362 143.5h1.25M358.5 145h1.25M360 142.5h1.25M364.5 144.5h1.25M360.5 143.5h1.25M373.5 147h1.25M368.5 141h1.25M366 149h1.25M370.5 145.5h1.25M371.5 148.5h1.25M361.5 140h1.25M366.5 145h1.25M374.5 139.5h1.25M365 147h1.25M356 145h1.25M352.5 144.5h1.25M370.5 147h1.25M366.5 146h1.25M364 131h1.25M369.5 137h1.25M361.5 137h1.25M347.5 152.5h1.25M373.5 145.5h1.25M357.5 145.5h1.25M368 141.5h1.25M359 147.5h1.25M353 139.5h1.25M360 141.5h1.25M369.5 143h1.25M354.5 141.5h1.25M358.5 147h1.25M375 142.5h1.25M351.5 146h1.25M347 152h1.25M359.5 147.5h1.25M353.5 141.5h1.25M364.5 142h1.25M368.5 150.5h1.25M360 146h1.25M362 133.5h1.25M365.5 145.5h1.25M369.5 148h1.25M365 144.5h1.25M369 145h1.25M373 138h1.25M371.5 146.5h1.25M371 141.5h1.25M359 139h1.25M359 138.5h1.25M359.5 144.5h1.25M359.5 145h1.25M367 149.5h1.25M365.5 141h1.25M358.5 147.5h1.25M365 139.5h1.25M371 152h1.25M361.5 141h1.25M374 143.5h1.25M362.5 145h1.25M367.5 146.5h1.25M360 149.5h1.25M353 150h1.25M359 149h1.25M371.5 149.5h1.25M367 137.5h1.25M367.5 151h1.25M356.5 149h1.25M373 140.5h1.25M358 150.5h1.25M361 149h1.25M358.5 148h1.25M357.5 142h1.25M358.5 150h1.25M364.5 140.5h1.25M362.5 148h1.25M376 139h1.25M377.5 137h1.25M363.5 146h1.25M353 145h1.25M365.5 149h1.25M366 141h1.25M366 151.5h1.25M365 143h1.25M358 142.5h1.25M357.5 140.5h1.25M356 147h1.25M359 144.5h1.25M356.5 140.5h1.25M366 142.5h1.25M361.5 148.5h1.25M361 148.5h1.25M378.5 132h1.25M355 147h1.25M361.5 136h1.25M365 145.5h1.25M363 142h1.25M363 146h1.25M361 140h1.25M363.5 139.5h1.25M363.5 134h1.25M361 143h1.25M363.5 141h1.25M375 136.5h1.25M370.5 142h1.25M367 152h1.25M364 140h1.25M361.5 142.5h1.25M366 143h1.25M347 147.5h1.25M362.5 149h1.25M362.5 134.5h1.25M362 143h1.25M359.5 146.5h1.25M357 143.5h1.25M360.5 147h1.25M381 143h1.25M369.5 144h1.25M357 146.5h1.25M366.5 150.5h1.25M369.5 146.5h1.25M368 144.5h1.25M362 134.5h1.25M347.5 144.5h1.25M364 149h1.25M367 147.5h1.25M365 147.5h1.25M357 147.5h1.25M361.5 147.5h1.25M353 144h1.25M370 134.5h1.25M371.5 141.5h1.25M361.5 146.5h1.25M372 140.5h1.25M366 149.5h1.25M357.5 150h1.25M364.5 142h1.25M372 138.5h1.25M365 149h1.25M364 146.5h1.25M381 143h1.25M369 150.5h1.25M369 141h1.25M365 149h1.25M364 142h1.25M367 150h1.25M363 144.5h1.25M361.5 136h1.25M371 151.5h1.25M359.5 138h1.25M365.5 144h1.25M351 147.5h1.25M370 147.5h1.25M364.5 145h1.25M366 140h1.25M361 146.5h1.25M362.5 145h1.25M366 148h1.25M360 147.5h1.25M362.5 146h1.25M371.5 141h1.25M375 140.5h1.25M355 150h1.25M362.5 152h1.25M354.5 149.5h1.25M367 143.5h1.25M365.5 139h1.25M360 143.5h1.25M361.5 138h1.25M371.5 139.5h1.25M379.5 142h1.25M358 145h1.25M355 149.5h1.25M361 151h1.25M358 152h1.25M368.5 149h1.25M353.5 149h1.25M362 147.5h1.25M362 143h1.25M362.5 148h1.25M361 147h1.25M353 150.5h1.25M373 146.5h1.25M360 144h1.25M363.5 143.5h1.25M356.5 152.5h1.25M365.5 147h1.25M377 136h1.25M372 145.5h1.25M378.5 148h1.25M364.5 141h1.25M360 145.5h1.25M375 132.5h1.25M366 139.5h1.25M356 151.5h1.25M361 149h1.25M361 151.5h1.25M371.5 137.5h1.25M364.5 141.5h1.25M349.5 143h1.25M376 137.5h1.25M355 151h1.25M362.5 143.5h1.25M362.5 143.5h1.25M359.5 149.5h1.25M377.5 143h1.25M368.5 146h1.25M370.5 149.5h1.25M372 136h1.25M354 148.5h1.25M376 147.5h1.25M367 148h1.25M361.5 148.5h1.25M360 150.5h1.25M349 142.5h1.25M354 149.5h1.25M366.5 148.5h1.25M364 149.5h1.25M360.5 145.5h1.25M364 137.5h1.25M358.5 146.5h1.25M356.5 145.5h1.25M360.5 147h1.25M355 151.5h1.25M362.5 148h1.25M362.5 146.5h1.25M357.5 147.5h1.25M355.5 150.5h1.25M368.5 139h1.25M359.5 137.5h1.25M357.5 150h1.25M357.5 148h1.25M365.5 141h1.25M366.5 134.5h1.25M358 146h1.25M358.5 136h1.25M371.5 141h1.25M363.5 148h1.25M362.5 149h1.25M362 144h1.25M347.5 143.5h1.25M360 143h1.25M382.5 145h1.25M363 141h1.25M365.5 140.5h1.25M374 141h1.25M375 148.5h1.25M366.5 152h1.25M358 150.5h1.25M365 146h1.25M365.5 152h1.25M362 148.5h1.25M369.5 144h1.25M363 146.5h1.25M358 141h1.25M359.5 149h1.25M364 133.5h1.25M353 151.5h1.25M374.5 129h1.25M363 143h1.25M363 145h1.25M361.5 150h1.25M373.5 145.5h1.25M358.5 144h1.25M370 143.5h1.25M370 133.5h1.25M369 140.5h1.25M366 143h1.25M359.5 141.5h1.25M366.5 152h1.25M363.5 152.5h1.25M364.5 144.5h1.25M362 151.5h1.25M355 145.5h1.25M374.5 140.5h1.25M359.5 138.5h1.25M361 153h1.25M355.5 139.5h1.25M365 136.5h1.25M372 140.5h1.25M356.5 144h1.25M364.5 144.5h1.25M372.5 140.5h1.25M372 143.5h1.25M369.5 129h1.25M363.5 141h1.25M356 138.5h1.25M362 139.5h1.25M374 149.5h1.25M368.5 134h1.25M364.5 150h1.25M368 137h1.25M367 144.5h1.25M367 149.5h1.25M364.5 148.5h1.25M361.5 144h1.25M358 152.5h1.25M361 141.5h1.25M360 149.5h1.25M367.5 141.5h1.25M357 149.5h1.25M365.5 149.5h1.25M355 146h1.25M371.5 147.5h1.25M362 145.5h1.25M363 142.5h1.25M366 151.5h1.25M373.5 141h1.25M365.5 145.5h1.25M369.5 134.5h1.25M365.5 145h1.25M362 146h1.25M357 149.5h1.25M364 143h1.25M371.5 148.5h1.25M369 142.5h1.25M362 146h1.25M355.5 150h1.25M369 141.5h1.25M364 141.5h1.25M365 147h1.25M360 137h1.25M359 146.5h1.25M362 148.5h1.25M358 138h1.25M358.5 143h1.25M370 145h1.25M368 150h1.25M364 144h1.25M359.5 152.5h1.25M364 149h1.25M368 147h1.25M359 141.5h1.25M363 143.5h1.25M358 145h1.25M366 143h1.25M356.5 151h1.25M367 145.5h1.25M357.5 144.5h1.25M365.5 151h1.25M355 144.5h1.25M358 141.5h1.25M372 137h1.25M366 140h1.25M378 143h1.25M369 148.5h1.25M366.5 138h1.25M367 145h1.25M374 142.5h1.25M363.5 142.5h1.25M358.5 151.5h1.25M356 149.5h1.25M361.5 137h1.25M351 141h1.25M364.5 144.5h1.25M363 144.5h1.25M369 143.5h1.25M355 150.5h1.25M370.5 137.5h1.25M369.5 137.5h1.25M362 143h1.25M358.5 135.5h1.25M362 146h1.25M363.5 151h1.25M366.5 141.5h1.25M366.5 139.5h1.25M363.5 148h1.25M367 150h1.25M362 144h1.25M370.5 144h1.25M370 143h1.25M362.5 141.5h1.25M363 141.5h1.25M369.5 142h1.25M356.5 151h1.25M373 144.5h1.25M370.5 150.5h1.25M360.5 149h1.25M364.5 148h1.25M363.5 150h1.25M372 142.5h1.25M375 135h1.25M358.5 144.5h1.25M363.5 149.5h1.25M372.5 142h1.25M360 145.5h1.25M354 151.5h1.25M352.5 150h1.25M361.5 149.5h1.25M376 145h1.25M352 148h1.25M370 135.5h1.25M359.5 148h1.25M356.5 152h1.25M365 144.5h1.25M368.5 137h1.25M367.5 145.5h1.25M363.5 146.5h1.25M357.5 141h1.25M369 142.5h1.25M359 140.5h1.25M373 138.5h1.25M369.5 146h1.25M358.5 149h1.25M367.5 142h1.25M365.5 147h1.25M362 146h1.25M352 148h1.25M360 144h1.25M362 142.5h1.25M360.5 145h1.25M374 139h1.25M349 145.5h1.25M367.5 146.5h1.25M358.5 144h1.25M362 136h1.25M366.5 145h1.25M361 136.5h1.25M367 148h1.25M359.5 143.5h1.25M356 148h1.25M367.5 144h1.25M368.5 149h1.25M356.5 141h1.25M354 149.5h1.25M363 146h1.25M370.5 137h1.25M358.5 139h1.25M350.5 145h1.25M364.5 146.5h1.25M353 148h1.25M358.5 152h1.25M363.5 150h1.25M356 149h1.25M369.5 150h1.25M372.5 135.5h1.25M370 140.5h1.25M362 144.5h1.25M360 137h1.25M364.5 142h1.25M359.5 137h1.25M361 144h1.25M361.5 146.5h1.25M368.5 142.5h1.25M364.5 141.5h1.25M355.5 146.5h1.25M360.5 150h1.25M368 146.5h1.25M364.5 142.5h1.25M366.5 135.5h1.25M376.5 135h1.25M369 137.5h1.25M366.5 145h1.25M370 143.5h1.25M352 149h1.25M363.5 143.5h1.25M374.5 143h1.25M361 146.5h1.25M364.5 144.5h1.25M371 144.5h1.25M366 147h1.25M363 150.5h1.25M373 143h1.25M362 147h1.25M363.5 152.5h1.25M370.5 140h1.25M364.5 142.5h1.25M363.5 143h1.25M371 138h1.25M370 139.5h1.25M367 143.5h1.25M359 144.5h1.25M367 147.5h1.25M368.5 146.5h1.25M365.5 151h1.25M362.5 146h1.25M364 147.5h1.25M367 147h1.25M386 135h1.25M354.5 145.5h1.25M367.5 142h1.25M368 145.5h1.25M358 138h1.25M356.5 146h1.25M363.5 141.5h1.25M369 152.5h1.25M354.5 140.5h1.25M352.5 152.5h1.25M352 142h1.25M363.5 149h1.25M377.5 148h1.25M370.5 142h1.25M360 144h1.25M367 144h1.25M356 148h1.25M358 150.5h1.25M368 147h1.25M356.5 146h1.25M358.5 139.5h1.25M360 146.5h1.25M363 142.5h1.25M375 143.5h1.25M359 144.5h1.25M363.5 148.5h1.25M370.5 146h1.25M368 145.5h1.25M357 147h1.25M365.5 147h1.25M358.5 152.5h1.25M367.5 135h1.25M350.5 146.5h1.25M359 149.5h1.25M373.5 147h1.25M360.5 144h1.25M375 143.5h1.25M365.5 142.5h1.25M361.5 150h1.25M363.5 145h1.25M363.5 148.5h1.25M371 145h1.25M361 138h1.25M366.5 144h1.25M350 150h1.25M357.5 149h1.25M365 148h1.25M372 133h1.25M367.5 137.5h1.25M370 143h1.25M356 132h1.25M366.5 147h1.25M365.5 148h1.25M374 141h1.25M366 144h1.25M368.5 140h1.25M362.5 150h1.25M363 141.5h1.25M360 146h1.25M368.5 146.5h1.25M368 141.5h1.25M362.5 146.5h1.25M365.5 150.5h1.25M358 145.5h1.25M359 145h1.25M353.5 148h1.25M370 149h1.25M373 146.5h1.25M375.5 141h1.25M373.5 147h1.25M362.5 147h1.25M373.5 149h1.25M359.5 142.5h1.25M355 141h1.25M362.5 146.5h1.25M374 144h1.25M378 150.5h1.25M374 138h1.25M360.5 148.5h1.25M365 148.5h1.25M361 144h1.25M372.5 144h1.25M375.5 147h1.25M363 151.5h1.25M370 146.5h1.25M367.5 140.5h1.25M359 142.5h1.25M354 146.5h1.25M366.5 144.5h1.25M365 136h1.25M375 135h1.25M365.5 145h1.25M361.5 149.5h1.25M364.5 150h1.25M369.5 142h1.25M377.5 142.5h1.25M360 145h1.25M363.5 133h1.25M358.5 149.5h1.25M368 144h1.25M362.5 142h1.25M362.5 147.5h1.25M366 151.5h1.25M352 151.5h1.25M358.5 147h1.25M364 140.5h1.25M371 139h1.25M368.5 142.5h1.25M366.5 148.5h1.25M365 147.5h1.25M365 147.5h1.25M354 144.5h1.25M365.5 144.5h1.25M361.5 144h1.25M355 153h1.25M367 142h1.25M350.5 145h1.25M367 142h1.25M362.5 143h1.25M368.5 143.5h1.25M352.5 142h1.25M356.5 143.5h1.25M370.5 144h1.25M358.5 148h1.25M358.5 143.5h1.25M370 141.5h1.25M357 144.5h1.25M361 144h1.25M354 146.5h1.25M362 138.5h1.25M364.5 142h1.25M364 143.5h1.25M364 151h1.25M366.5 147.5h1.25M360.5 145.5h1.25M371 149h1.25M365.5 142h1.25M370 144.5h1.25M361 144.5h1.25M361.5 140h1.25M358.5 140.5h1.25M372 143h1.25M365.5 139.5h1.25M370 145h1.25M362 152.5h1.25M363.5 146.5h1.25M364.5 141.5h1.25M362 146h1.25M363.5 144h1.25M366.5 141h1.25M356.5 150.5h1.25M362.5 147.5h1.25M377 144h1.25M371 142.5h1.25M364.5 144.5h1.25M366 147.5h1.25M369 143.5h1.25M362 151.5h1.25M352 149h1.25M369.5 152h1.25M372.5 149.5h1.25M364 139h1.25M361 143.5h1.25M363.5 144h1.25M363.5 149.5h1.25M372.5 151h1.25M363.5 146.5h1.25M369.5 144h1.25M361.5 146h1.25M353 147.5h1.25M366 145h1.25M359.5 147h1.25M383 142h1.25M363.5 141h1.25M368.5 138.5h1.25M372.5 133h1.25M351 149h1.25M367 142.5h1.25M360.5 144.5h1.25M369.5 148h1.25M366 151.5h1.25M364 148h1.25M363.5 144h1.25M358.5 137h1.25M369 152.5h1.25M375 144h1.25M364.5 139h1.25M365.5 138.5h1.25M369.5 148.5h1.25M353 149.5h1.25M370.5 144h1.25M367 151h1.25M372.5 139h1.25M353 149.5h1.25M370 139.5h1.25M370.5 139.5h1.25M358 145h1.25M365.5 148.5h1.25M365.5 140.5h1.25M359.5 136.5h1.25M354.5 139h1.25M366.5 139h1.25M368.5 145.5h1.25M360 147h1.25M360.5 140.5h1.25M353 149h1.25M357 146h1.25M366 147.5h1.25M359 145.5h1.25M367.5 144.5h1.25M366.5 136.5h1.25M372.5 147h1.25M356 149.5h1.25M367 145h1.25M373 148h1.25M369.5 137h1.25M375.5 144.5h1.25M357 144.5h1.25M366.5 141h1.25M358.5 143.5h1.25M370 140.5h1.25M368 137h1.25M360 149h1.25M373.5 151h1.25M364.5 144h1.25M366 146.5h1.25M366.5 146h1.25M364.5 146.5h1.25M366.5 145.5h1.25M371 144.5h1.25M353 145h1.25M360 148.5h1.25M370.5 147h1.25M367.5 144h1.25M358 150.5h1.25M365 140.5h1.25M368.5 145.5h1.25M360.5 149.5h1.25M365 142h1.25M364 146.5h1.25M359 139.5h1.25M362.5 139h1.25M369.5 144.5h1.25M371 143h1.25M361.5 146.5h1.25M359 152.5h1.25M367 144h1.25M369 136h1.25M363 141h1.25M353 149.5h1.25M357.5 141h1.25M376 142.5h1.25M370.5 144.5h1.25M370 149h1.25M371 140h1.25M366.5 132h1.25M362 145h1.25M364 147.5h1.25M368 151h1.25M351 149h1.25M368 145.5h1.25M356.5 148h1.25M361 147h1.25M360.5 141h1.25M356.5 143h1.25M366 150h1.25M374.5 144.5h1.25M361.5 137.5h1.25M361.5 138.5h1.25M355.5 146h1.25M364.5 145.5h1.25M351.5 142.5h1.25M365 144h1.25M354.5 152.5h1.25M358 152h1.25M373.5 149.5h1.25M362.5 139.5h1.25M372 132.5h1.25M360.5 143h1.25M366 148.5h1.25M367.5 137h1.25M370.5 143.5h1.25M369 140h1.25M357 140h1.25M364 141h1.25M365 140.5h1.25M351.5 140.5h1.25M360 144h1.25M362 139.5h1.25M362 142h1.25M358.5 142.5h1.25M360 148.5h1.25M368.5 139h1.25M365 149h1.25M363.5 152.5h1.25M360.5 146.5h1.25M367.5 144h1.25M370.5 147h1.25M368 143.5h1.25M355 149h1.25M364 141.5h1.25M367 144h1.25M363 143.5h1.25M364 146.5h1.25M362 148h1.25M355.5 149.5h1.25M362.5 137.5h1.25M361.5 146.5h1.25M360 150h1.25M376 145h1.25M366.5 147.5h1.25M374 139h1.25M366 147h1.25M377.5 133.5h1.25M375.5 129.5h1.25M375 133.5h1.25M372.5 142h1.25M372.5 130h1.25M374 137h1.25M371.5 134.5h1.25M375 136h1.25M367.5 132.5h1.25M374.5 136h1.25M373 138.5h1.25M376.5 133.5h1.25M375.5 137.5h1.25M367.5 133.5h1.25M373 130h1.25M378 138.5h1.25M361.5 132h1.25M378 140.5h1.25M375 140h1.25M375 135.5h1.25M380 133h1.25M370.5 134.5h1.25M371.5 131.5h1.25M368.5 140h1.25M373 133h1.25M366.5 132h1.25M371.5 131h1.25M377 133.5h1.25M375 132.5h1.25M372 129.5h1.25M368.5 133h1.25M375.5 131.5h1.25M377.5 132h1.25M372 135.5h1.25M371.5 132h1.25M368.5 135h1.25M368.5 139.5h1.25M375 133.5h1.25M366.5 137.5h1.25M381 132h1.25M365 136.5h1.25M380.5 136h1.25M368 133h1.25M375.5 131.5h1.25M373.5 136.5h1.25M377 131.5h1.25M373 136.5h1.25M372 137h1.25M371 132h1.25M366.5 133.5h1.25M372 137.5h1.25M373.5 131.5h1.25M374.5 140h1.25M369 135.5h1.25M364 141h1.25M376 138.5h1.25M373 135.5h1.25M372 133h1.25M380.5 138h1.25M370 133.5h1.25M373 136h1.25M380 130h1.25M369.5 129h1.25M369.5 135h1.25M380 137.5h1.25M376.5 133.5h1.25M381.5 138.5h1.25M371.5 133.5h1.25M376 131.5h1.25M369.5 136.5h1.25M373 133.5h1.25M373 134.5h1.25M372 135.5h1.25M365.5 137.5h1.25M372 134.5h1.25M373 136.5h1.25M383.5 133h1.25M369.5 134.5h1.25M371 130.5h1.25M371.5 133.5h1.25M379.5 137.5h1.25M364.5 129h1.25M380.5 134h1.25M364.5 133.5h1.25M379 136h1.25M382 139.5h1.25M372 138h1.25M367 137h1.25M375 136h1.25M375.5 141.5h1.25M369.5 133.5h1.25M373.5 134.5h1.25M377 135.5h1.25M367.5 136.5h1.25M371.5 131.5h1.25M377 133h1.25M371.5 137h1.25M370 133h1.25M371 136h1.25M373 138.5h1.25M369.5 138.5h1.25M376 137.5h1.25M373.5 131.5h1.25M372 137h1.25M378 133.5h1.25M373 136.5h1.25M377 136h1.25M368.5 132.5h1.25M374 134h1.25M384 132h1.25M374 133.5h1.25M375.5 140.5h1.25M364.5 134.5h1.25M371.5 136.5h1.25M370.5 135.5h1.25M369 138h1.25M378 134h1.25M363.5 134h1.25M373 132h1.25M379.5 130.5h1.25M382 136h1.25M376.5 132.5h1.25M368 136.5h1.25M382 134.5h1.25M379.5 136.5h1.25M370 136.5h1.25M377.5 135h1.25M376.5 136.5h1.25M379.5 134.5h1.25M372 137.5h1.25M366.5 135h1.25M371.5 134h1.25M377.5 136h1.25M373.5 138h1.25M368 137.5h1.25M371 136.5h1.25M380.5 135.5h1.25M370 131h1.25M370.5 133h1.25M369 132h1.25M370.5 133h1.25M372.5 134h1.25M379.5 134h1.25M372 136h1.25M374 133h1.25M369.5 134h1.25M370.5 138h1.25M368.5 134h1.25M373.5 136.5h1.25M379.5 134h1.25M372 139h1.25M379 135h1.25M368.5 136.5h1.25M367.5 139h1.25M376.5 131.5h1.25M377 132.5h1.25M371.5 138.5h1.25M368 129.5h1.25M368 136h1.25M374 132.5h1.25M364.5 134h1.25M368.5 137h1.25M364.5 137h1.25M372 135.5h1.25M375 136.5h1.25M368 137h1.25M367.5 137h1.25M373 133.5h1.25M373 136h1.25M373.5 137.5h1.25M374 134.5h1.25M383.5 133h1.25M368.5 136.5h1.25M378.5 138.5h1.25M378.5 139h1.25M370.5 138h1.25M369 136.5h1.25M370 136h1.25M375.5 137h1.25M372.5 133.5h1.25M364 150h1.25M343 124.5h1.25M348.5 146.5h1.25M344 136h1.25M359.5 149h1.25M335.5 131h1.25M342.5 128h1.25M354.5 128.5h1.25M367 135.5h1.25M343 145.5h1.25M356.5 141.5h1.25M356.5 134h1.25M376 128.5h1.25M340 131.5h1.25M333.5 147.5h1.25M367 149h1.25M353 126h1.25M325 130.5h1.25M335.5 141.5h1.25M353 138h1.25M324 143.5h1.25M347 125h1.25M352.5 132h1.25M375 128h1.25M356 135.5h1.25M326.5 135.5h1.25M363.5 141.5h1.25M369 144h1.25M365.5 139.5h1.25M355.5 143.5h1.25M342 140h1.25M336.5 136.5h1.25M333.5 136h1.25M341 146h1.25M336.5 132h1.25M350 134.5h1.25M339 139h1.25M351 139h1.25M362.5 151.5h1.25M362.5 136.5h1.25M328.5 129.5h1.25M347.5 127h1.25M350.5 134h1.25M345 142h1.25M348.5 122.5h1.25M322 149h1.25M343 148.5h1.25M343 140h1.25M337 141.5h1.25M357.5 139.5h1.25M358.5 139.5h1.25M358.5 132h1.25M359.5 128.5h1.25M343 141h1.25M346 144.5h1.25M338.5 137h1.25M345.5 138h1.25M332 148h1.25M326.5 135h1.25M350.5 131.5h1.25M359.5 134h1.25M336 141.5h1.25M372.5 137h1.25M362 133.5h1.25M345 138.5h1.25M356.5 141.5h1.25M334.5 133.5h1.25M343.5 142h1.25M382.5 138h1.25M340 131h1.25M362 127h1.25M366.5 137.5h1.25M357.5 141h1.25M321.5 146h1.25M351.5 120h1.25M319.5 139.5h1.25M347.5 137.5h1.25M347 130h1.25M338.5 147.5h1.25M364.5 142h1.25M370 144h1.25M362 140.5h1.25M326.5 130.5h1.25M359.5 139.5h1.25M358 150.5h1.25M339 138h1.25M356.5 144.5h1.25M342.5 145h1.25M322.5 141h1.25M361 139.5h1.25M346.5 139.5h1.25M350 137h1.25M347.5 142h1.25" stroke="#000" stroke-width="1.25" transform="translate(0,0.5)"/>
<path d="M333.5 88.5h1.25M346 95h1.25M363.5 97h1.25M373 106h1.25" stroke="#000" stroke-width="1.25" transform="translate(0,0.5)"/>
<path d="M431.5 103.5h1.25M446 95.5h1.25M447.5 98.5h1.25M445 95.5h1.25M443 96h1.25M446 96.5h1.25M444.5 97h1.25M446.5 100.5h1.25M444 101.5h1.25M443 108.5h1.25M450 102h1.25M434.5 96h1.25M443 99.5h1.25M445 99.5h1.25M436.5 105h1.25M445 100h1.25M443.5 98h1.25M443 103.5h1.25M440.5 99.5h1.25M450.5 92.5h1.25M437.5 93.5h1.25M445.5 91.5h1.25M440.5 97h1.25M440 90.5h1.25M452.5 94h1.25M438 101h1.25M439 95h1.25M436.5 95.5h1.25M443.5 101.5h1.25M441.5 97.5h1.25M430.5 97.5h1.25M447 101h1.25M431.5 93.5h1.25M431.5 96.5h1.25M449.5 91h1.25M444 94.5h1.25M448 94.5h1.25M430.5 94.5h1.25M440 94.5h1.25M436.5 98.5h1.25M444 95.5h1.25M445 97.5h1.25M449.5 103.5h1.25M453 95h1.25M445.5 96h1.25M444.5 99h1.25M441.5 96.5h1.25M447 95.5h1.25M438 93h1.25M434 99.5h1.25M448.5 96h1.25M437.5 102h1.25M440 94.5h1.25M439.5 99.5h1.25M442.5 102.5h1.25M447 97.5h1.25M431 93.5h1.25M451 101.5h1.25M446 100h1.25M443 97h1.25M436 99.5h1.25M445 93h1.25M434.5 98.5h1.25M438 103h1.25M442.5 93h1.25M439 94h1.25M437.5 99.5h1.25M437 93h1.25M443.5 89h1.25M449 95.5h1.25M452.5 97.5h1.25M438 99.5h1.25M448.5 92.5h1.25M443.5 99h1.25M440 93h1.25M438 100.5h1.25M447.5 98h1.25M453 99.5h1.25M448.5 100h1.25M444 97h1.25M446.5 95.5h1.25M442 87.5h1.25M435 92h1.25M453 89.5h1.25M443.5 100.5h1.25M440 96h1.25M443.5 89.5h1.25M441 101.5h1.25M447 97h1.25M442 101h1.25M437 98h1.25M449 92.5h1.25M441 100h1.25M454.5 93h1.25M448 104h1.25M446 97h1.25M442 92.5h1.25M450.5 91.5h1.25M441 95.5h1.25M444.5 95h1.25M450 90h1.25M429.5 96.5h1.25M433 99.5h1.25M445.5 100h1.25M435 94h1.25M438.5 97.5h1.25M441.5 99.5h1.25M438.5 104h1.25M443.5 98.5h1.25M447.5 94.5h1.25M438 92.5h1.25M440.5 99.5h1.25M442 101h1.25M436 99h1.25M443 97.5h1.25M433 97h1.25M443.5 91h1.25M452.5 97h1.25M434 101h1.25M435 98h1.25M431.5 101h1.25M444 96.5h1.25M436.5 92.5h1.25M450.5 96h1.25M449 93h1.25M442 92.5h1.25M444.5 89.5h1.25M446.5 92h1.25M444 97h1.25M441 96.5h1.25M452 93h1.25M437 101h1.25M445.5 102h1.25M444 95h1.25M441.5 98.5h1.25M446.5 98h1.25M437 96h1.25M451.5 94h1.25M450.5 91.5h1.25M436 91h1.25M447.5 95h1.25M440.5 102h1.25M444.5 91.5h1.25M435.5 90.5h1.25M446.5 96.5h1.25M436 96.5h1.25M445.5 100.5h1.25M455.5 94h1.25M447 100.5h1.25M444 87h1.25M433.5 104h1.25M436.5 97.5h1.25M436.5 104.5h1.25M447.5 94h1.25M435 99.5h1.25M449 96h1.25M447 97.5h1.25M443 98h1.25M433.5 94.5h1.25M444 97h1.25M451.5 92h1.25M444.5 106.5h1.25M445.5 100.5h1.25M439.5 96h1.25M445 94h1.25M435 92h1.25M434 101h1.25M447 101h1.25M443.5 98h1.25M435 96.5h1.25M446.5 94.5h1.25M431.5 99h1.25M435 99.5h1.25M440 94.5h1.25M438 95h1.25M445.5 99h1.25M447.5 98h1.25M442 99h1.25M439.5 94h1.25M440.5 95h1.25M431 92h1.25M444.5 96.5h1.25M439 97.5h1.25M444 101h1.25M446 97h1.25M444 98h1.25M430.5 103.5h1.25M435.5 99.5h1.25M439 94h1.25M449 93.5h1.25M439 87.5h1.25M445 95h1.25M436 100h1.25M440.5 87h1.25M445 92.5h1.25M436.5 93.5h1.25M431 94h1.25M440.5 100h1.25M449 94.5h1.25M452.5 96h1.25M450 98h1.25M442 88h1.25M449 91h1.25M445.5 90.5h1.25M429.5 90.5h1.25M433 92.5h1.25M443 98.5h1.25M444.5 101h1.25M445.5 98.5h1.25M442 102h1.25M441.5 89.5h1.25M436.5 101.5h1.25M440 95h1.25M448.5 97.5h1.25M442.5 97h1.25M451 98h1.25M443 98h1.25M438.5 96h1.25M453 97h1.25M450 95h1.25M440 94h1.25M442.5 101h1.25M439.5 96h1.25M433.5 100h1.25M447 97.5h1.25M449 99.5h1.25M441 90.5h1.25M441 93.5h1.25M444 100.5h1.25M439.5 90.5h1.25M448.5 100h1.25M447.5 92h1.25M439.5 100h1.25M448 100h1.25M429.5 103h1.25M438 94.5h1.25M446.5 95h1.25M438.5 97.5h1.25M441 97h1.25M439.5 93h1.25M439 95.5h1.25M440 99h1.25M453 92.5h1.25M442.5 98h1.25M435.5 95h1.25M439.5 96h1.25M440 95.5h1.25M446.5 91.5h1.25M445 100h1.25M445 91.5h1.25M433 95.5h1.25M437.5 93.5h1.25M449 93.5h1.25M446.5 102h1.25M450.5 104.5h1.25M448.5 97.5h1.25M433.5 96h1.25M439.5 103.5h1.25M446.5 97h1.25M434 92.5h1.25M440 98h1.25M448 98.5h1.25M442.5 100h1.25M435.5 94.5h1.25M438 97.5h1.25M445 95.5h1.25M431.5 97h1.25M435 98.5h1.25M435.5 103.5h1.25M446 102h1.25M448.5 94h1.25M438 94h1.25M435.5 101h1.25M436 95h1.25M430 98h1.25M432 105.5h1.25M441 96h1.25M444 93.5h1.25M438.5 96.5h1.25M442.5 99h1.25M441 89h1.25M439 93.5h1.25M439 97h1.25M440.5 104.5h1.25M439 93.5h1.25M441 97h1.25M450 94h1.25M445 98h1.25M442.5 97h1.25M442.5 92h1.25M437.5 97.5h1.25M450.5 100h1.25M443 97.5h1.25M443.5 98.5h1.25M447 91h1.25M439.5 105h1.25M446.5 96h1.25M438 97h1.25M433.5 94h1.25M446.5 100h1.25M443.5 97.5h1.25M440 92h1.25M436 94.5h1.25M441 93h1.25M435.5 101.5h1.25M440 100h1.25M441.5 94h1.25M439.5 92h1.25M447 100h1.25M446.5 97.5h1.25M439 94h1.25M446.5 96h1.25M439 95.5h1.25M442 94.5h1.25M442 100h1.25M447.5 94.5h1.25M444 96h1.25M435.5 91h1.25M445 104h1.25M445.5 102h1.25M454 102.5h1.25M437 98h1.25M439.5 90.5h1.25M447.5 95h1.25M449.5 95.5h1.25M442 95h1.25M441.5 100.5h1.25M443.5 98h1.25M441 99h1.25M435.5 97.5h1.25M445 95h1.25M449.5 97.5h1.25M433.5 96h1.25M445.5 97h1.25M431.5 98.5h1.25M438 97h1.25M452 97h1.25M432 98h1.25M454 101.5h1.25M456 91.5h1.25M450 95.5h1.25M439.5 99.5h1.25M442.5 92.5h1.25M429 95.5h1.25M437 106h1.25M436.5 102h1.25M438.5 102.5h1.25M447 102.5h1.25M444.5 100.5h1.25M440.5 93h1.25M452 104h1.25M445.5 105h1.25M436 97h1.25M438.5 99.5h1.25M435 98h1.25M446.5 103h1.25M443.5 105.5h1.25M436 99h1.25M453.5 92h1.25M441 98h1.25M450 100.5h1.25M435.5 95h1.25M440.5 101h1.25M452 97h1.25M436 92h1.25M446 101.5h1.25M439.5 92.5h1.25M435.5 97.5h1.25M431 94.5h1.25M441.5 90h1.25M444 93.5h1.25M447.5 89h1.25M448 91h1.25M442.5 99.5h1.25M439.5 97.5h1.25M441.5 96h1.25M449.5 92.5h1.25M446.5 103.5h1.25M447 93.5h1.25M444.5 99.5h1.25M447 90h1.25M429 102.5h1.25M446 98h1.25M440.5 100h1.25M451 100h1.25M437.5 98h1.25M454.5 97h1.25M436.5 101h1.25M439 97.5h1.25M453 101.5h1.25M436.5 100.5h1.25M449.5 103h1.25M442.5 98h1.25M454 91h1.25M436.5 94h1.25M447.5 100.5h1.25M443.5 101h1.25M439 94.5h1.25M441 90h1.25M434 98h1.25M441 94.5h1.25M449 99.5h1.25M442.5 97.5h1.25M449 106h1.25M437 96.5h1.25M439 98.5h1.25M435 96.5h1.25M452 96.5h1.25M436 99h1.25M447 95h1.25M450.5 97.5h1.25M450.5 100h1.25M442.5 96h1.25M447 94h1.25M434 103.5h1.25M434.5 95.5h1.25M439.5 97h1.25M434 93.5h1.25M446 98h1.25M430.5 100h1.25M446 96.5h1.25M434 103h1.25M458 95h1.25M430.5 105.5h1.25M443.5 99h1.25M445 94h1.25M440 95.5h1.25M444 95.5h1.25M450.5 96.5h1.25M450.5 92.5h1.25M442.5 98h1.25M437 99h1.25M441.5 103.5h1.25M450 98h1.25M439.5 97.5h1.25M450.5 98.5h1.25M441 95.5h1.25M430.5 101h1.25M438.5 97.5h1.25M444.5 94.5h1.25M440 98.5h1.25M451.5 96.5h1.25M441 97h1.25M439.5 100.5h1.25M435 96.5h1.25M442 100h1.25M445.5 94.5h1.25M439.5 92.5h1.25M441 96.5h1.25M433 97.5h1.25M456.5 98h1.25M439 95h1.25M450 97h1.25M438 91h1.25M448 88.5h1.25M444 94h1.25M448.5 96.5h1.25M438.5 101.5h1.25M433.5 100h1.25M446.5 88h1.25M435.5 93h1.25M439 97h1.25M440.5 99h1.25M438.5 91h1.25M437 93.5h1.25M445 96.5h1.25M431 93.5h1.25M438.5 106h1.25M445.5 95.5h1.25M444.5 100.5h1.25M434.5 103.5h1.25M436 100h1.25M452.5 97.5h1.25M446 93h1.25M450.5 100.5h1.25M454.5 101h1.25M438 94h1.25M436.5 94h1.25M450 90.5h1.25M433.5 93h1.25M431.5 92.5h1.25M447.5 95h1.25M442.5 95.5h1.25M444.5 100.5h1.25M444.5 97.5h1.25M437 92h1.25M443 98.5h1.25M447 97.5h1.25M436.5 93.5h1.25M445 94.5h1.25M435 91h1.25M435.5 99.5h1.25M444.5 102.5h1.25M444.5 98h1.25M448.5 101.5h1.25M440.5 86h1.25M440 93.5h1.25M449 97.5h1.25M436.5 91h1.25M444 100.5h1.25M431.5 97.5h1.25M436.5 97.5h1.25M454 91h1.25M444 103h1.25M440.5 91.5h1.25M443 92.5h1.25M449.5 87h1.25M432 98h1.25M440.5 98.5h1.25M443 93h1.25M437.5 101.5h1.25M442 100.5h1.25M443 101h1.25M444 95h1.25M433 100.5h1.25M437.5 90h1.25M449 97.5h1.25M442 91.5h1.25M445.5 96h1.25M432.5 94h1.25M433.5 102h1.25M438 98h1.25M448.5 104h1.25M437.5 92h1.25M447 99.5h1.25M456.5 95h1.25M451.5 101h1.25M442 95.5h1.25M436.5 92.5h1.25M439.5 101h1.25M453.5 100.5h1.25M444.5 97.5h1.25M431 92.5h1.25M440.5 96.5h1.25M437 103h1.25M449.5 93.5h1.25M448 97.5h1.25M457.5 101h1.25M447.5 99h1.25M448.5 97h1.25M453.5 96.5h1.25M432 96.5h1.25M446.5 91h1.25M431.5 96h1.25M449.5 99.5h1.25M439 93.5h1.25M442 106h1.25M433.5 96h1.25M444 98h1.25M444.5 92h1.25M441 96h1.25M435.5 99.5h1.25M445.5 93h1.25M442 98.5h1.25M443 99h1.25M441.5 95.5h1.25M433 93.5h1.25M442 97h1.25M433.5 96h1.25M444.5 101.5h1.25M445 96.5h1.25M446.5 90.5h1.25M443 93.5h1.25M452.5 92h1.25M445.5 104h1.25M438.5 94h1.25M441 95.5h1.25M435 94h1.25M446 99h1.25M435 92.5h1.25M442 98h1.25M441.5 97h1.25M453.5 101h1.25M446 94.5h1.25M452 96h1.25M443 87h1.25M447 90.5h1.25M437.5 101h1.25M440 93.5h1.25M446.5 101h1.25M443 99.5h1.25M435 97.5h1.25M438.5 89h1.25M443.5 95h1.25M439 97h1.25M440 100h1.25M438 99h1.25M438 98.5h1.25M441.5 99.5h1.25M456.5 97h1.25M446 93h1.25M438.5 98h1.25M449 92.5h1.25M440.5 101.5h1.25M430.5 98.5h1.25M440 104h1.25M440 93h1.25M451 102.5h1.25M445 104h1.25M439.5 97.5h1.25M437.5 93.5h1.25M444 95.5h1.25M453 94h1.25M443 88.5h1.25M443 95h1.25M438 97.5h1.25M440 92.5h1.25M445.5 97h1.25M437.5 102.5h1.25M441 100h1.25M447 95.5h1.25M443.5 96h1.25M436 95.5h1.25M452.5 97h1.25M452 99.5h1.25M432.5 96h1.25M446.5 97h1.25M444 98h1.25M437 100.5h1.25M453.5 95h1.25M440 97.5h1.25M447 96h1.25M448.5 96h1.25M438 89.5h1.25M444.5 100.5h1.25M437 97.5h1.25M437 94h1.25M452 101h1.25M429.5 100h1.25M443.5 104h1.25M444 98h1.25M436.5 96h1.25M439.5 91h1.25M446.5 95h1.25M442.5 99h1.25M429.5 95h1.25M436 94h1.25M433 96.5h1.25M432 94h1.25M437 94h1.25M439 96h1.25M442.5 104h1.25M436.5 95.5h1.25M436.5 103h1.25M429.5 92h1.25M446 97.5h1.25M431.5 100.5h1.25M434.5 92.5h1.25M449 101.5h1.25M446.5 97h1.25M446 93.5h1.25M453 89.5h1.25M445 101.5h1.25M435 95.5h1.25M443.5 103.5h1.25M447.5 101h1.25M441 98.5h1.25M445 102.5h1.25M433 97.5h1.25M441 95h1.25M453 94h1.25M445 97.5h1.25M445.5 94h1.25M434 105h1.25M448.5 96h1.25M437 97h1.25M441.5 95h1.25M446.5 98h1.25M440.5 98h1.25M437.5 99h1.25M443.5 89h1.25M446 95h1.25M440.5 99.5h1.25M441.5 98.5h1.25M433 101h1.25M440 101.5h1.25M443 98h1.25M449 100h1.25M442 99h1.25M454.5 97.5h1.25M440 99.5h1.25M434 98.5h1.25M441 98.5h1.25M443.5 94h1.25M448 95h1.25M433.5 92.5h1.25M440.5 95h1.25M441 95h1.25M444.5 99.5h1.25M436 101.5h1.25M436 99.5h1.25M447 96.5h1.25M438.5 93h1.25M454 91h1.25M441 96.5h1.25M449 100h1.25M440.5 94h1.25M455 96h1.25M437 103h1.25M440 92.5h1.25M445 95.5h1.25M444 91h1.25M440.5 101.5h1.25M439 92.5h1.25M436 99.5h1.25M438 98.5h1.25M440.5 93.5h1.25M447.5 103.5h1.25M435 98h1.25M444 98h1.25M442.5 103h1.25M458 98h1.25M441.5 100.5h1.25M438 94.5h1.25M446 101h1.25M444 99.5h1.25M441.5 100h1.25M435.5 99h1.25M442 99h1.25M440.5 101h1.25M438 103h1.25M439.5 99h1.25M435 94.5h1.25M444.5 88.5h1.25M442.5 97h1.25M462.5 97h1.25M453.5 97h1.25M439 102h1.25M445.5 103.5h1.25M435 91.5h1.25M449.5 102.5h1.25M450 97h1.25M450 97.5h1.25M439.5 97.5h1.25M432 101h1.25M448 94.5h1.25M433.5 99h1.25M450.5 89h1.25M441 95.5h1.25M452 103.5h1.25M434.5 95h1.25M431 97.5h1.25M444.5 102h1.25M430.5 90.5h1.25M444 98h1.25M438 97h1.25M445 96.5h1.25M453 104h1.25M445.5 96.5h1.25M434.5 96h1.25M441 98.5h1.25M441.5 91h1.25M432.5 99h1.25M447.5 93.5h1.25M432 94.5h1.25M442 104.5h1.25M447 98.5h1.25M438.5 97h1.25M435.5 100.5h1.25M443 93.5h1.25M442.5 103.5h1.25M438 93h1.25M440 97h1.25M444.5 97h1.25M447.5 97h1.25M444.5 104h1.25M434.5 93h1.25M443 93.5h1.25M438 106.5h1.25M436 94h1.25M445.5 97.5h1.25M431.5 98.5h1.25M451 96.5h1.25M445.5 96.5h1.25M436 93.5h1.25M446.5 99h1.25M431.5 100.5h1.25M444 99.5h1.25M448.5 90.5h1.25M439.5 94.5h1.25M437 96.5h1.25M445 96h1.25M455 93h1.25M460 98h1.25M454 99h1.25M437 96.5h1.25M438.5 100h1.25M444 92.5h1.25M457 101h1.25M431.5 93.5h1.25M439.5 97.5h1.25M443 95.5h1.25M453 91h1.25M445.5 97.5h1.25M450 95.5h1.25M441.5 104.5h1.25M444 97h1.25M441 95.5h1.25M433.5 91.5h1.25M438.5 97h1.25M447 95.5h1.25M439 97h1.25M438 97h1.25M449 93.5h1.25M434 94.5h1.25M442 93h1.25M446 105h1.25M448.5 102.5h1.25M452 100.5h1.25M443 98h1.25M432.5 92h1.25M438 93h1.25M437.5 99h1.25M441.5 96h1.25M454.5 95h1.25M441 101h1.25M440.5 101.5h1.25M437 102.5h1.25M444.5 90.5h1.25M441 99h1.25M439.5 98.5h1.25M439.5 99h1.25M441 101.5h1.25M445.5 101h1.25M448 95.5h1.25M441 98.5h1.25M450 99.5h1.25M434.5 102h1.25M445 102.5h1.25M437 95.5h1.25M438.5 92.5h1.25M451.5 96.5h1.25M437.5 92h1.25M438 100h1.25M450.5 100h1.25M440 98h1.25M431 91.5h1.25M441 98.5h1.25M441.5 98h1.25M438.5 96h1.25M443 95.5h1.25M439 96h1.25M452.5 93.5h1.25M455.5 93.5h1.25M448 102h1.25M451 96h1.25M444 106h1.25M440.5 99h1.25M445.5 104h1.25M447 104h1.25M438.5 91.5h1.25M442 94h1.25M447.5 97h1.25M448.5 93.5h1.25M439 95.5h1.25M449.5 96.5h1.25M442 103h1.25M438.5 95.5h1.25M452.5 88h1.25M450 96h1.25M441.5 97.5h1.25M444 97h1.25M451.5 89h1.25M433 96h1.25M439 96.5h1.25M445 87.5h1.25M435.5 103h1.25M438.5 94.5h1.25M458.5 98h1.25M435.5 99h1.25M445.5 92.5h1.25M446.5 95.5h1.25M429.5 100h1.25M446.5 99h1.25M444.5 94.5h1.25M439 93h1.25M448 99h1.25M453 98.5h1.25M438.5 94h1.25M435.5 93h1.25M460 89h1.25M434.5 90.5h1.25M448 97.5h1.25M440.5 100.5h1.25M466.5 99.5h1.25M482 97.5h1.25M469 100h1.25M475.5 101.5h1.25M468 99.5h1.25M470.5 102h1.25M468 97h1.25M462.5 96h1.25M465 99.5h1.25M479 96h1.25M484.5 97h1.25M479 100.5h1.25M466 98h1.25M459 100h1.25M483.5 99.5h1.25M483 98h1.25M468.5 98.5h1.25M467.5 99.5h1.25M483.5 98.5h1.25M467 98.5h1.25M477 97.5h1.25M457.5 94.5h1.25M481.5 98h1.25M479.5 98h1.25M465 99h1.25M477.5 97h1.25M461 97h1.25M465.5 103h1.25M463.5 93.5h1.25M459.5 98h1.25M466.5 96.5h1.25M473 97.5h1.25M487.5 105h1.25M465.5 106h1.25M471 100h1.25M463.5 100.5h1.25M478 101h1.25M473.5 102.5h1.25M475.5 92h1.25M469.5 100h1.25M466 107h1.25M474.5 98.5h1.25M472.5 100.5h1.25M468 95.5h1.25M458.5 102.5h1.25M472.5 93h1.25M478 98.5h1.25M467.5 95h1.25M484.5 103h1.25M474.5 100.5h1.25M470.5 98.5h1.25M482.5 96.5h1.25M466.5 102.5h1.25M458 96.5h1.25M466 98.5h1.25M461 97h1.25M467.5 99h1.25M476 104h1.25M472.5 96.5h1.25M466.5 97h1.25M486 105h1.25M479.5 101.5h1.25M464 103.5h1.25M470 94.5h1.25M464 100h1.25M466.5 105.5h1.25M481 102h1.25M475 102h1.25M457 93h1.25M472 97h1.25M456 100h1.25M467.5 94.5h1.25M477.5 103.5h1.25M466 98.5h1.25M473 97.5h1.25M472.5 93.5h1.25M465 100h1.25M471 106.5h1.25M467 97.5h1.25M473 101h1.25M473 104h1.25M473.5 102.5h1.25M467.5 103h1.25M474 92.5h1.25M479 102h1.25M465 100h1.25M480.5 98h1.25M481 97.5h1.25M480 99.5h1.25M451.5 98.5h1.25M468.5 100h1.25M466.5 103h1.25M473 98.5h1.25M470 98h1.25M465 99.5h1.25M464 96h1.25M462.5 103h1.25M480 95.5h1.25M467.5 92h1.25M459.5 100.5h1.25M486 95.5h1.25M476 92.5h1.25M483 107.5h1.25M471.5 100h1.25M484.5 100.5h1.25M462.5 100h1.25M460.5 102h1.25M474.5 103.5h1.25M474 101h1.25M469.5 101h1.25M470 97h1.25M490 91h1.25M472.5 96h1.25M467.5 99h1.25M472 103h1.25M458.5 100.5h1.25M470 103h1.25M463.5 89h1.25M470 96.5h1.25M465 96.5h1.25M477.5 97h1.25M479 101h1.25M464.5 88.5h1.25M475.5 93.5h1.25M461.5 100.5h1.25M479 103h1.25M467.5 97.5h1.25M462.5 98h1.25M472 105.5h1.25M469.5 94h1.25M477 95h1.25M461.5 98.5h1.25M471 98h1.25M462 97h1.25M461 91.5h1.25M473.5 103h1.25M472.5 103.5h1.25M474.5 107h1.25M465.5 97.5h1.25M469 100.5h1.25M476.5 95.5h1.25M461.5 91h1.25M456 101h1.25M462 102h1.25M468 101h1.25M476 101.5h1.25M478 96.5h1.25M475 97h1.25M464 97.5h1.25M473 95.5h1.25M479.5 94h1.25M461 94.5h1.25M477 97h1.25M472.5 100h1.25M460 97.5h1.25M476 101h1.25M469.5 100h1.25M471.5 101h1.25M458.5 93.5h1.25M478.5 98h1.25M461.5 99.5h1.25M471 94h1.25M470.5 97h1.25M475 97.5h1.25M471 101h1.25M472 95.5h1.25M462 94.5h1.25M464.5 97h1.25M467.5 96.5h1.25M464.5 103h1.25M469 92.5h1.25M470.5 101.5h1.25M469.5 99.5h1.25M463.5 101h1.25M474.5 102.5h1.25M473 106.5h1.25M478 103h1.25M479.5 94h1.25M475.5 102h1.25M477 96.5h1.25M463.5 95.5h1.25M461 99.5h1.25M465 98.5h1.25M470 97h1.25M464.5 95h1.25M478.5 92h1.25M471.5 94h1.25M465 97h1.25M484 99.5h1.25M475 101h1.25M477 99.5h1.25M480.5 99h1.25M466.5 98h1.25M470 104.5h1.25M459 95h1.25M469.5 98h1.25M468.5 94h1.25M469.5 99h1.25M460.5 97h1.25M469.5 98h1.25M481.5 93h1.25M473 99.5h1.25M460 101.5h1.25M462 98.5h1.25M464.5 96.5h1.25M474 102h1.25M471 99h1.25M469 102h1.25M473.5 89h1.25M482.5 95h1.25M458 94h1.25M468 96h1.25M460 100h1.25M465.5 98h1.25M482 99h1.25M454.5 93h1.25M465.5 99.5h1.25M477 95h1.25M467 98.5h1.25M474 102h1.25M477 94h1.25M474 94h1.25M470 100.5h1.25M474 97.5h1.25M464 101h1.25M473.5 89.5h1.25M478.5 101.5h1.25M457 103.5h1.25M475 100h1.25M462.5 95h1.25M471 101h1.25M473 104.5h1.25M467 92h1.25M463.5 100.5h1.25M475 102.5h1.25M474.5 102h1.25M472 101h1.25M477.5 101h1.25M466.5 94h1.25M469.5 108h1.25M472 94.5h1.25M464.5 95h1.25M476.5 102.5h1.25M461 95h1.25M465.5 88.5h1.25M468.5 97h1.25M471.5 94.5h1.25M466.5 99h1.25M468 102.5h1.25M477.5 98h1.25M471.5 97.5h1.25M486 95.5h1.25M461 90.5h1.25M459 98.5h1.25M468.5 97h1.25M449 103.5h1.25M473.5 90h1.25M471.5 94h1.25M487 99h1.25M464.5 92h1.25M491.5 92.5h1.25M483 96h1.25M484.5 90h1.25M489 94h1.25M491.5 95.5h1.25M489 102h1.25M488.5 94.5h1.25M479.5 95h1.25M479.5 93.5h1.25M483.5 95.5h1.25M490 99h1.25M489 96h1.25M486 91.5h1.25M492 94.5h1.25M488 97h1.25M479.5 99h1.25M484 99h1.25M493 94.5h1.25M487.5 93.5h1.25M487 96.5h1.25M484.5 96.5h1.25M489 97.5h1.25M489 97.5h1.25M484.5 90.5h1.25M488 96.5h1.25M490.5 95.5h1.25M488 95.5h1.25M482.5 93.5h1.25M471 96.5h1.25M481.5 98h1.25M490 93h1.25M483.5 96.5h1.25M486.5 99.5h1.25M481.5 95.5h1.25M494 96h1.25M493.5 97.5h1.25M483 99h1.25M489.5 92.5h1.25M495.5 101h1.25M491 89.5h1.25M482 92h1.25M484.5 98.5h1.25M491 100h1.25M483 103.5h1.25M483.5 93h1.25M485 102.5h1.25M474.5 101h1.25M483.5 93h1.25M474.5 95h1.25M483 94.5h1.25M481 95h1.25M480.5 96h1.25M490.5 105h1.25M483.5 102.5h1.25M488.5 102.5h1.25M480 89h1.25M483.5 97.5h1.25M489 85.5h1.25M487 103h1.25M484.5 100h1.25M482 97.5h1.25M482 94.5h1.25M478.5 100.5h1.25M495.5 93.5h1.25M487 93.5h1.25M485 96.5h1.25M486.5 96h1.25M487 99h1.25M496 99h1.25M488.5 93h1.25M483 96.5h1.25M486 97h1.25M483 95.5h1.25M484.5 96.5h1.25M485.5 98.5h1.25M489 94.5h1.25M490.5 98h1.25M493 87h1.25M483.5 93.5h1.25M493.5 98h1.25M489 97h1.25M484.5 95h1.25M486.5 88h1.25M484 93h1.25M485.5 94.5h1.25M480.5 93h1.25M479.5 93.5h1.25M490 93h1.25M493 89.5h1.25M490 94h1.25M490 92h1.25M488.5 103h1.25M482.5 99.5h1.25M491 90.5h1.25M487 95.5h1.25M481 98.5h1.25M488.5 97.5h1.25M483 95.5h1.25M485.5 97h1.25M490 94h1.25M483 102h1.25M488.5 90.5h1.25M491 102h1.25M492.5 99.5h1.25M483 94h1.25M488 98.5h1.25M483.5 98h1.25M488 90.5h1.25M484 105h1.25M482 96.5h1.25M481.5 95h1.25M486 92.5h1.25M489 101.5h1.25M489 88h1.25M485.5 94.5h1.25M486 100.5h1.25M481 99h1.25M483.5 98.5h1.25M486.5 96.5h1.25M490 102h1.25M480 96.5h1.25M475.5 94h1.25M491.5 91.5h1.25M483.5 93h1.25M484 98h1.25M488.5 92.5h1.25M481 95.5h1.25M489 97.5h1.25M491 98.5h1.25M485 98h1.25M481.5 101.5h1.25M484 93.5h1.25M484 98.5h1.25M484 88.5h1.25M494 94h1.25M478 88h1.25M485 89h1.25M483 89h1.25M484 96.5h1.25M478.5 102h1.25M481.5 96.5h1.25M493 98.5h1.25M489 89.5h1.25M478.5 96h1.25M487 99h1.25M487.5 96h1.25M484.5 94.5h1.25M485.5 90.5h1.25M483.5 96h1.25M488 95h1.25M489 99h1.25M489 97h1.25M484 100h1.25M488.5 94.5h1.25M489 100h1.25M486 96h1.25M480 94h1.25M487.5 97.5h1.25M481.5 102.5h1.25M485.5 95.5h1.25M481 97.5h1.25M481 98h1.25M483 98h1.25M478.5 96h1.25M489.5 95.5h1.25M488.5 94.5h1.25M493 95.5h1.25M481 87.5h1.25M492.5 92.5h1.25M490 91h1.25M482 101.5h1.25M481.5 98h1.25M480.5 90.5h1.25M485 93h1.25M481 97h1.25M479 98.5h1.25M486.5 89h1.25M487.5 96.5h1.25M495 99h1.25M488.5 102h1.25M477 90h1.25M481 90.5h1.25M488.5 97h1.25M496.5 91.5h1.25M481.5 98.5h1.25M487 97h1.25M483 98.5h1.25M487 94h1.25M489.5 88.5h1.25M489 103h1.25M483 104.5h1.25M489.5 94h1.25M491 90.5h1.25M480.5 93.5h1.25M487.5 92.5h1.25M482 92h1.25M493.5 98.5h1.25M479 90.5h1.25M487 101h1.25M484.5 102h1.25M489 92h1.25M482 98.5h1.25M489 94h1.25M485.5 91h1.25M488.5 100h1.25M486 99h1.25M491 93.5h1.25M492 93.5h1.25M489.5 97h1.25M486 97.5h1.25M494 95h1.25M488.5 101.5h1.25M491.5 97.5h1.25M484.5 99h1.25M486 94.5h1.25M490 102h1.25M488.5 95.5h1.25M483.5 100.5h1.25M488.5 98h1.25M485 94.5h1.25M479.5 99h1.25M483.5 89.5h1.25M482 90h1.25M479.5 100h1.25M485 92.5h1.25M483 90.5h1.25M481 97.5h1.25M484 94.5h1.25M477.5 91.5h1.25M490.5 94.5h1.25M488 93h1.25M490 99h1.25M490 97h1.25M482.5 94.5h1.25M485.5 95.5h1.25M483 92.5h1.25M484.5 94h1.25M490 96.5h1.25M495 98.5h1.25M482 95h1.25M489.5 104h1.25M483 95.5h1.25M487 96.5h1.25M480.5 98h1.25M487 102h1.25M485 103h1.25M488.5 98.5h1.25M486 91.5h1.25M477 94h1.25M477 96.5h1.25M480.5 89h1.25M492 101.5h1.25M493 94h1.25M483 96h1.25M487 100.5h1.25M485.5 94h1.25M485.5 90h1.25M488 94.5h1.25M494 94h1.25M487 93h1.25M490 104h1.25M496.5 94h1.25M492.5 100h1.25M491.5 97h1.25M488 97h1.25M482 96.5h1.25M493.5 91h1.25M490 92.5h1.25M486.5 102.5h1.25M481 102h1.25M478.5 103h1.25M483.5 110.5h1.25M485 91.5h1.25M481.5 96h1.25M483 96.5h1.25M482.5 101h1.25M495 93h1.25M490 96h1.25M489.5 100h1.25M486.5 95h1.25M476 105.5h1.25M480 101h1.25M484.5 98h1.25M480.5 99h1.25M483 93h1.25M483.5 96.5h1.25M482 95.5h1.25M481 100.5h1.25M482 98.5h1.25M483.5 92h1.25M483 96.5h1.25M488 100.5h1.25M486 99h1.25M482 87h1.25M491 96h1.25M488 88.5h1.25M486.5 96.5h1.25M491 92h1.25M487.5 95.5h1.25M487 101h1.25M486.5 98.5h1.25M487.5 96.5h1.25M485.5 95h1.25M486.5 96h1.25M486 92.5h1.25M479.5 93.5h1.25M478.5 102h1.25M480.5 93.5h1.25M488.5 93.5h1.25M485.5 100h1.25M482 102.5h1.25M481.5 98.5h1.25M481.5 93h1.25M478 100h1.25M487.5 89h1.25M492.5 92h1.25M484 92h1.25M477.5 105.5h1.25M481.5 91.5h1.25M490.5 94.5h1.25M480.5 99.5h1.25M497 98h1.25M481.5 92h1.25M482 90.5h1.25M481.5 93.5h1.25M484.5 96h1.25M493.5 89h1.25M486.5 96h1.25M479 103h1.25M490 87.5h1.25M493.5 90h1.25M487.5 102h1.25M484 99.5h1.25M479.5 92h1.25M482 95h1.25M493 102.5h1.25M480 89h1.25M485.5 91h1.25M479.5 94.5h1.25M487 94h1.25M483.5 93h1.25M488 100h1.25M486.5 92.5h1.25M486 94h1.25M479.5 95h1.25M486 98.5h1.25M488.5 94h1.25M482 97h1.25M491 96h1.25M487 91h1.25M479 95h1.25M482 85h1.25M486 99h1.25M493.5 92.5h1.25M481.5 94h1.25M481.5 100.5h1.25M487.5 90.5h1.25M488 95h1.25M486 89h1.25M474.5 97h1.25M482.5 95h1.25M486 94h1.25M492.5 97.5h1.25M475 94.5h1.25M487.5 96.5h1.25M486 92h1.25M484.5 95h1.25M488.5 95.5h1.25M484.5 96.5h1.25M483 99.5h1.25M483.5 103h1.25M483.5 97h1.25M485 100h1.25M489 92h1.25M494 101.5h1.25M488.5 95h1.25M480 99.5h1.25M484 97.5h1.25M476.5 94h1.25M491 100.5h1.25M473.5 114h1.25M459 122.5h1.25M464.5 98h1.25M462.5 110.5h1.25M481.5 95h1.25M477.5 114.5h1.25M486 106.5h1.25M476 93.5h1.25M450.5 123.5h1.25M473 104h1.25M490 105.5h1.25M466.5 112.5h1.25M485 87.5h1.25M442.5 113.5h1.25M482.5 93.5h1.25M470.5 116.5h1.25M481.5 108.5h1.25M492.5 100h1.25M472 108h1.25M461.5 101h1.25M480 110.5h1.25M475 90.5h1.25M489.5 109h1.25M473 106.5h1.25M485.5 101.5h1.25M468.5 101h1.25M488 118.5h1.25M465 126h1.25M459.5 104.5h1.25M473.5 98.5h1.25M467.5 96.5h1.25M460 107.5h1.25M485 97.5h1.25M443 96h1.25M448.5 103h1.25M477.5 113h1.25M449.5 122.5h1.25M452 105h1.25M470.5 97h1.25M479 97.5h1.25M466.5 96.5h1.25M457.5 105h1.25M462 102h1.25M473.5 94.5h1.25M464.5 90h1.25M478 103h1.25M479.5 101.5h1.25M467 102.5h1.25M461 97.5h1.25M486 107.5h1.25M466.5 107.5h1.25M467 122.5h1.25M487 105h1.25M456.5 120h1.25M447.5 105h1.25M477 112.5h1.25M450 104.5h1.25M458 104.5h1.25M454.5 106.5h1.25M460 106h1.25M454 99h1.25M453.5 114.5h1.25M465 108.5h1.25M454 108h1.25M461.5 109h1.25M461.5 85.5h1.25M478 87h1.25M475 105.5h1.25M493 98h1.25M494 116.5h1.25M475.5 120h1.25M460.5 99.5h1.25M455.5 107h1.25M456.5 124h1.25M485.5 117.5h1.25M462 96h1.25M448.5 95h1.25M482 102h1.25M473 102h1.25M447.5 116.5h1.25M460 105.5h1.25M468.5 100.5h1.25M474.5 95h1.25M484 108h1.25M466.5 103.5h1.25M461.5 109h1.25M489 115.5h1.25M467.5 103h1.25M488.5 111.5h1.25M481.5 116h1.25M472 111.5h1.25M458.5 100h1.25M471.5 95.5h1.25M457 108.5h1.25M460.5 101.5h1.25M493.5 95h1.25M477 111.5h1.25M482 118h1.25M484.5 112.5h1.25M451.5 98.5h1.25M477.5 85.5h1.25M481.5 113.5h1.25M491 102h1.25M483.5 91h1.25M457 104.5h1.25M490.5 101.5h1.25M474 112.5h1.25M454 100.5h1.25M443 127h1.25M485 103.5h1.25M486.5 113.5h1.25M495.5 108h1.25M486 106h1.25M491.5 116h1.25M486.5 109h1.25M490.5 118.5h1.25M492 114h1.25M489 118h1.25M486 113.5h1.25M491 115h1.25M488 111h1.25M490.5 115h1.25M487.5 112h1.25M489.5 115h1.25M489.5 114h1.25M485.5 113h1.25M486.5 116h1.25M495 111.5h1.25M496.5 111h1.25M489 111.5h1.25M488.5 114.5h1.25M492 114.5h1.25M489 118h1.25M490.5 114.5h1.25M490.5 119.5h1.25M489.5 112.5h1.25M489 116h1.25M494 119h1.25M482.5 116h1.25M489 115h1.25M491.5 106.5h1.25M490 110h1.25M496.5 112h1.25M487.5 110h1.25M488.5 118.5h1.25M490 116.5h1.25M489 117.5h1.25M485.5 116.5h1.25M489 122h1.25M487.5 116.5h1.25M484.5 113h1.25M488 109.5h1.25M485 111h1.25M486 108.5h1.25M493 109.5h1.25M483.5 110.5h1.25M492.5 107h1.25M491 103h1.25M488 111h1.25M489.5 116h1.25M490 105h1.25M489.5 110.5h1.25M488 110h1.25M487 116.5h1.25M491.5 112h1.25M484 109.5h1.25M488.5 111h1.25M492.5 111h1.25M485.5 114.5h1.25M488.5 105.5h1.25M483.5 122h1.25M488.5 111.5h1.25M485 118.5h1.25M484 115.5h1.25M486 121h1.25M480.5 118h1.25M492 115h1.25M479 118.5h1.25M488 122h1.25M482.5 123h1.25M484 122h1.25M489.5 115.5h1.25M485 115h1.25M479 116h1.25M487.5 130.5h1.25M491.5 119h1.25M488 122h1.25M490.5 122h1.25M484.5 123h1.25M489 118h1.25M487 116.5h1.25M491 117h1.25M484.5 125h1.25M488 119.5h1.25M485 116h1.25M474 111.5h1.25M484.5 122.5h1.25M477 117.5h1.25M483 111.5h1.25M484 121.5h1.25M486.5 121h1.25M483 126h1.25M483 115.5h1.25M484 118h1.25M486.5 120h1.25M491 125h1.25M483.5 119.5h1.25M482.5 123h1.25M485 123.5h1.25M483.5 121.5h1.25M485.5 116h1.25M492 120h1.25M484.5 121.5h1.25M480.5 126h1.25M483.5 124.5h1.25M489 120.5h1.25M488.5 124h1.25M482.5 124.5h1.25M483.5 124.5h1.25M482 121.5h1.25M481.5 123.5h1.25M486.5 120.5h1.25M481 111h1.25M489 119.5h1.25M480 120.5h1.25M484.5 122.5h1.25M477.5 119.5h1.25M487 126h1.25M486 120.5h1.25M487 121h1.25M478.5 121.5h1.25M480.5 129.5h1.25M486 126h1.25M489.5 118h1.25M483 125h1.25M482 126.5h1.25M477.5 133.5h1.25M487.5 131h1.25M479.5 129h1.25M474 131.5h1.25M484 124h1.25M482 132h1.25M483.5 130.5h1.25M479 134h1.25M477.5 134.5h1.25M480.5 131.5h1.25M483.5 128.5h1.25M485.5 125h1.25M482.5 125h1.25M486 128h1.25M484.5 123.5h1.25M486.5 122.5h1.25M473 121.5h1.25M482.5 130h1.25M479 125.5h1.25M481 134.5h1.25M480.5 123.5h1.25M486.5 132h1.25M483.5 126h1.25M477 131h1.25M476.5 134.5h1.25M479.5 137.5h1.25M484.5 129h1.25M484.5 135.5h1.25M474 134h1.25M483 119.5h1.25M478.5 129.5h1.25M485.5 129.5h1.25M478.5 122h1.25M478.5 130h1.25M477.5 126.5h1.25M483 131h1.25M482.5 129.5h1.25M484.5 124h1.25M474 141h1.25M484 124h1.25M473 138.5h1.25M479 131h1.25M493 126.5h1.25M473 133.5h1.25M478 142h1.25M478 128h1.25M479.5 129.5h1.25M479 126.5h1.25M481.5 124h1.25M475 128.5h1.25M479 134.5h1.25M486 137.5h1.25M490.5 125.5h1.25M479.5 133.5h1.25M484.5 138h1.25M479.5 126.5h1.25M485.5 133.5h1.25M477 130h1.25M477.5 133.5h1.25M482 129.5h1.25M476.5 125h1.25M482.5 122.5h1.25M476 133h1.25M484.5 131.5h1.25M478 124h1.25M481.5 128.5h1.25M478 132.5h1.25M483 119h1.25M493 131h1.25M480 129.5h1.25M486 132.5h1.25M480.5 128.5h1.25M483.5 139.5h1.25M484 135h1.25M483 134.5h1.25M484 136.5h1.25M486.5 126h1.25M476.5 131h1.25M475.5 132h1.25M479 126h1.25M474.5 125h1.25M476 140h1.25M484 136h1.25M481.5 131h1.25M480.5 134h1.25M482 129h1.25M477.5 123h1.25M475.5 134h1.25M478 135h1.25M456 149h1.25M481.5 140h1.25M459.5 148h1.25M474 149h1.25M466.5 150h1.25M477.5 137h1.25M462 146h1.25M465 145h1.25M473 140h1.25M475.5 147h1.25M470 152h1.25M477.5 151h1.25M463.5 145.5h1.25M468 145.5h1.25M472.5 149h1.25M479 145h1.25M461.5 149.5h1.25M468 145h1.25M463.5 141h1.25M468.5 142h1.25M467 148h1.25M483 146.5h1.25M467 149h1.25M482 145h1.25M473.5 151h1.25M463 141.5h1.25M474.5 142.5h1.25M455 144h1.25M475.5 149h1.25M462 151.5h1.25M467 149h1.25M462 150.5h1.25M488 144.5h1.25M461 146h1.25M473 151.5h1.25M470 148.5h1.25M470.5 142.5h1.25M481 147h1.25M486 144h1.25M466.5 149.5h1.25M478 153h1.25M482.5 151.5h1.25M475 144h1.25M473.5 143h1.25M482 149h1.25M475.5 146.5h1.25M479.5 150h1.25M466 147.5h1.25M475 142.5h1.25M481.5 145.5h1.25M474.5 149.5h1.25M461 148.5h1.25M459.5 149h1.25M466 149h1.25M464.5 142h1.25M475 138.5h1.25M465.5 146.5h1.25M477 150.5h1.25M471.5 144h1.25M463 141.5h1.25M472.5 137.5h1.25M464.5 150.5h1.25M476.5 153h1.25M478.5 144.5h1.25M473.5 135h1.25M468 148.5h1.25M464 147.5h1.25M479 145h1.25M478 144h1.25M480.5 149h1.25M459.5 145.5h1.25M474.5 141h1.25M459.5 140.5h1.25M471 145h1.25M479.5 137h1.25M468 148.5h1.25M476.5 149h1.25M465 148h1.25M468 145h1.25M473.5 145.5h1.25M463.5 145h1.25M473 152h1.25M475 141h1.25M470.5 150h1.25M472.5 141.5h1.25M468.5 143.5h1.25M475 148.5h1.25M458 147h1.25M471 147.5h1.25M478 150h1.25M483.5 140h1.25M467 149.5h1.25M469 140.5h1.25M480.5 144h1.25M471.5 146h1.25M468.5 143.5h1.25M457.5 149.5h1.25M471 153h1.25M467 152h1.25M468 137h1.25M470.5 149.5h1.25M474 144.5h1.25M457 141.5h1.25M474.5 141.5h1.25M468.5 150h1.25M480 152h1.25M466.5 149h1.25M479.5 145.5h1.25M466 144.5h1.25M469 144h1.25M491 146.5h1.25M475.5 145.5h1.25M474 150h1.25M467 144.5h1.25M474.5 151.5h1.25M468.5 148.5h1.25M475.5 151h1.25M474 138.5h1.25M474.5 151.5h1.25M464 152h1.25M470 148h1.25M494 148.5h1.25M459 142.5h1.25M467.5 147h1.25M468.5 151h1.25M467 148h1.25M475 150h1.25M464.5 152h1.25M460 149h1.25M462 146h1.25M475.5 146.5h1.25M484.5 143h1.25M458.5 142h1.25M480.5 143.5h1.25M484.5 145.5h1.25M458.5 143h1.25M473 144.5h1.25M460.5 149h1.25M478 144h1.25M467 151.5h1.25M473.5 146h1.25M479.5 149.5h1.25M456.5 147h1.25M464.5 145.5h1.25M483 148h1.25M464.5 151.5h1.25M471 150.5h1.25M466 145.5h1.25M457 139.5h1.25M475 143h1.25M478.5 141.5h1.25M468 137.5h1.25M474 143h1.25M470.5 152h1.25M476.5 153h1.25M477 148.5h1.25M461.5 145.5h1.25M477 145h1.25M471.5 144.5h1.25M483.5 148h1.25M468 150h1.25M491 153.5h1.25M466 142.5h1.25M471.5 147.5h1.25M468.5 150.5h1.25M474 148h1.25M459.5 142h1.25M479 143.5h1.25M493 145h1.25M473 151h1.25M485 151h1.25M477 140h1.25M463.5 148.5h1.25M465.5 152h1.25M468 147h1.25M475.5 152h1.25M465 145.5h1.25M454 144h1.25M474.5 149h1.25M480.5 144.5h1.25M474 137.5h1.25M466 153h1.25M453.5 142.5h1.25M468.5 142.5h1.25M458.5 148.5h1.25M467.5 152.5h1.25M472.5 147.5h1.25M467.5 150h1.25M466.5 146.5h1.25M476 146h1.25M485.5 141h1.25M483 149.5h1.25M482 144h1.25M469.5 138.5h1.25M468.5 148.5h1.25M477.5 142.5h1.25M481.5 149.5h1.25M472.5 142.5h1.25M471.5 143.5h1.25M474 152.5h1.25M470.5 142.5h1.25M471.5 146.5h1.25M478 149h1.25M483.5 138h1.25M469 145h1.25M470 138.5h1.25M478 146h1.25M461.5 148h1.25M478 148h1.25M473 145.5h1.25M487.5 143h1.25M473.5 144.5h1.25M467.5 152h1.25M470.5 150.5h1.25M467 147.5h1.25M480.5 143h1.25M455.5 148h1.25M469.5 152.5h1.25M472 140h1.25M469 139.5h1.25M468.5 143.5h1.25M471 142.5h1.25M478 149h1.25M466.5 147.5h1.25M477.5 142.5h1.25M461.5 142.5h1.25M461 143.5h1.25M480 150.5h1.25M468 151h1.25M469.5 149.5h1.25M466.5 145.5h1.25M479.5 147.5h1.25M475 147.5h1.25M472.5 145.5h1.25M478.5 153.5h1.25M476 141.5h1.25M474.5 147h1.25M466 145.5h1.25M473 149h1.25M467 148h1.25M457.5 141.5h1.25M477.5 153h1.25M466 145.5h1.25M471.5 146.5h1.25M468.5 145h1.25M470.5 150h1.25M467 147h1.25M473 148h1.25M466 151.5h1.25M462 145h1.25M474.5 148h1.25M470.5 145h1.25M475.5 151h1.25M493 142.5h1.25M467 152.5h1.25M474.5 148.5h1.25M479.5 152.5h1.25M472 147.5h1.25M460.5 150.5h1.25M478.5 150h1.25M464 140.5h1.25M477 144.5h1.25M471.5 145.5h1.25M479.5 147h1.25M470.5 142.5h1.25M478.5 151.5h1.25M465.5 138.5h1.25M473.5 145.5h1.25M469.5 143.5h1.25M478.5 141h1.25M465.5 152.5h1.25M468.5 146.5h1.25M475 146.5h1.25M478 152h1.25M475 150.5h1.25M472 146.5h1.25M478 141h1.25M476 148.5h1.25M481.5 150.5h1.25M474 147h1.25M467 152.5h1.25M475.5 150.5h1.25M474.5 150h1.25M468 145h1.25M470.5 148.5h1.25M473.5 146.5h1.25M454 142.5h1.25M479 141.5h1.25M465.5 146.5h1.25M473.5 145h1.25M479.5 149.5h1.25M457 141.5h1.25M480 143.5h1.25M472 147h1.25M472.5 145h1.25M472 148.5h1.25M472.5 148.5h1.25M472.5 151h1.25M466.5 141.5h1.25M484 147.5h1.25M475.5 150h1.25M480.5 141.5h1.25M465.5 148.5h1.25M474 145.5h1.25M478 142h1.25M460.5 144h1.25M469.5 146.5h1.25M467 148.5h1.25M483.5 143h1.25M463 150h1.25M473.5 145.5h1.25M478 145h1.25M466 142.5h1.25M461.5 144h1.25M478.5 148h1.25M468.5 145.5h1.25M460.5 147.5h1.25M473.5 152h1.25M472.5 148h1.25M471.5 140.5h1.25M476.5 149h1.25M464 142h1.25M474 146h1.25M459 145.5h1.25M470 141.5h1.25M473 152h1.25M467.5 147.5h1.25M465.5 143.5h1.25M480 143h1.25M484.5 145h1.25M467.5 140.5h1.25M465.5 150h1.25M471 149h1.25M479.5 145.5h1.25M465.5 152h1.25M460 148h1.25M479.5 141.5h1.25M468 140h1.25M472.5 143.5h1.25M474.5 152h1.25M468 143.5h1.25M476 138.5h1.25M468 143.5h1.25M456 150.5h1.25M468 144h1.25M469 143.5h1.25M460.5 146.5h1.25M470 148h1.25M471 144.5h1.25M483.5 149h1.25M477.5 140.5h1.25M466.5 145h1.25M478 145h1.25M464 145.5h1.25M460 144h1.25M471 151h1.25M470.5 149.5h1.25M464 147h1.25M472 149.5h1.25M467.5 144h1.25M468.5 149h1.25M490.5 143h1.25M464 142h1.25M462.5 152h1.25M469 148h1.25M485 150.5h1.25M477.5 148h1.25M474.5 148h1.25M478.5 153h1.25M472 148h1.25M475.5 149.5h1.25M482 153.5h1.25M472 147.5h1.25M466 146h1.25M479 151h1.25M452 148h1.25M467.5 148.5h1.25M480 144.5h1.25M461 148h1.25M471 152h1.25M467.5 143.5h1.25M468 142.5h1.25M469.5 150h1.25M467.5 139.5h1.25M464 151h1.25M481 152.5h1.25M471 143.5h1.25M472 151h1.25M474.5 144h1.25M476 150.5h1.25M453.5 143h1.25M478.5 150h1.25M474 150.5h1.25M470.5 146h1.25M477.5 141.5h1.25M470 152.5h1.25M480 151.5h1.25M475 137h1.25M480.5 149.5h1.25M479.5 152h1.25M493 143.5h1.25M467 152h1.25M478 148.5h1.25M458.5 147.5h1.25M466.5 144.5h1.25M465.5 145h1.25M474.5 141.5h1.25M470 146.5h1.25M462 145.5h1.25M470 144.5h1.25M457.5 148h1.25M468.5 147.5h1.25M457 152h1.25M462 148.5h1.25M468 141.5h1.25M479.5 152h1.25M473.5 149h1.25M459 153h1.25M481 146.5h1.25M471.5 145.5h1.25M476 151h1.25M486 149h1.25M473.5 150.5h1.25M470 147.5h1.25M483 149h1.25M481.5 149.5h1.25M468.5 143h1.25M476 148.5h1.25M472.5 146h1.25M474.5 143.5h1.25M476.5 147h1.25M471.5 148h1.25M453 148h1.25M490.5 142h1.25M480 144.5h1.25M480 145h1.25M467 142.5h1.25M480 149h1.25M452.5 146.5h1.25M468 144.5h1.25M477 146h1.25M472.5 148.5h1.25M474.5 147.5h1.25M487 139.5h1.25M458.5 142.5h1.25M475.5 149h1.25M479 151.5h1.25M466.5 147.5h1.25M470 148.5h1.25M474 147.5h1.25M477 139h1.25M493 152h1.25M463.5 141.5h1.25M483.5 150.5h1.25M472 146.5h1.25M471 143h1.25M460 141h1.25M464.5 142h1.25M477 145.5h1.25M476.5 144h1.25M455 145h1.25M473 142h1.25M461 148.5h1.25M475 144h1.25M471 147.5h1.25M477.5 141.5h1.25M476.5 150h1.25M479 152h1.25M465 149.5h1.25M468.5 143h1.25M468.5 143h1.25M474.5 143.5h1.25M469.5 150h1.25M467 145h1.25M466 148.5h1.25M458 153h1.25M468 143.5h1.25M485 146.5h1.25M478.5 151h1.25M470.5 144h1.25M470 145h1.25M477 144h1.25M467 146.5h1.25M463.5 144.5h1.25M461.5 149.5h1.25M468 149.5h1.25M479.5 148h1.25M476.5 143h1.25M468.5 152h1.25M478 153h1.25M478 148.5h1.25M475.5 142h1.25M470.5 145.5h1.25M485 141.5h1.25M466 145h1.25M463.5 143.5h1.25M465 147h1.25M476.5 148h1.25M467 144.5h1.25M466.5 152h1.25M484 142.5h1.25M464.5 143h1.25M468.5 145h1.25M477 143.5h1.25M488.5 141.5h1.25M479 145.5h1.25M474 146h1.25M463 143.5h1.25M466 144.5h1.25M491 150.5h1.25M473 152h1.25M458.5 149.5h1.25M453 148h1.25M466.5 146h1.25M462 144h1.25M486.5 146.5h1.25M474.5 143h1.25M466.5 148h1.25M465 148.5h1.25M480.5 145.5h1.25M471 150.5h1.25M476.5 145.5h1.25M479.5 151.5h1.25M459 145.5h1.25M476 142.5h1.25M466 146.5h1.25M467 147.5h1.25M488 148h1.25M469.5 143.5h1.25M482 151.5h1.25M464 148h1.25M469.5 149.5h1.25M465 148h1.25M469.5 153h1.25M480 149h1.25M476 153h1.25M460 150h1.25M472 146h1.25M470.5 145h1.25M470 150.5h1.25M469.5 142h1.25M470.5 149.5h1.25M471 138.5h1.25M459.5 151.5h1.25M471.5 146.5h1.25M464 149.5h1.25M480.5 147h1.25M472 150h1.25M475 148.5h1.25M481 140.5h1.25M465.5 144h1.25M458.5 147h1.25M480 142.5h1.25M473 150.5h1.25M459.5 146h1.25M464.5 152.5h1.25M470 149h1.25M470 146.5h1.25M467.5 144.5h1.25M467 139.5h1.25M459 144.5h1.25M478.5 144.5h1.25M458.5 147h1.25M475.5 146.5h1.25M458 143.5h1.25M473 150.5h1.25M465.5 143.5h1.25M472 147.5h1.25M469 150h1.25M473 142.5h1.25M465 147h1.25M457.5 149h1.25M469 144.5h1.25M472 151.5h1.25M473.5 142.5h1.25M470.5 144h1.25M470 146.5h1.25M467.5 151.5h1.25M464.5 145h1.25M476 153h1.25M468 147.5h1.25M487.5 146h1.25M484 146.5h1.25M473.5 144.5h1.25M467.5 152h1.25M465.5 147.5h1.25M477 147.5h1.25M460 151.5h1.25M473 151h1.25M458 140.5h1.25M469.5 144.5h1.25M468.5 150h1.25M474.5 148.5h1.25M480.5 143.5h1.25M477 144.5h1.25M464 149.5h1.25M471 147h1.25M476 151.5h1.25M477.5 139.5h1.25M467 144.5h1.25M469 150h1.25M469 151h1.25M463.5 148.5h1.25M475 147h1.25M479 150h1.25M467 150.5h1.25M460 146.5h1.25M480 150.5h1.25M479.5 149.5h1.25M469.5 147h1.25M475.5 148.5h1.25M474 147.5h1.25M471 148h1.25M473.5 140.5h1.25M461.5 145.5h1.25M463 141.5h1.25M481 141.5h1.25M476.5 142h1.25M469.5 143h1.25M464.5 147.5h1.25M459.5 149h1.25M482 151.5h1.25M480 148.5h1.25M483 151h1.25M492 141.5h1.25M477.5 147.5h1.25M472.5 141.5h1.25M473.5 150.5h1.25M479 151.5h1.25M456.5 148.5h1.25M477.5 153h1.25M474 150.5h1.25M459.5 146.5h1.25M468 148h1.25M481.5 146h1.25M476 143.5h1.25M475 146h1.25M466 147h1.25M470 145.5h1.25M466 151.5h1.25M466.5 147h1.25M479 146.5h1.25M460.5 149.5h1.25M489 144.5h1.25M464 150h1.25M469 144h1.25M470.5 148h1.25M478.5 152h1.25M465.5 150h1.25M474.5 148.5h1.25M478.5 150.5h1.25M472 146h1.25M461 146.5h1.25M470.5 147h1.25M470 150.5h1.25M474 136.5h1.25M473 153h1.25M480 139h1.25M482.5 150h1.25M463 151h1.25M471 147.5h1.25M474.5 140.5h1.25M471.5 142.5h1.25M482 134.5h1.25M468.5 145h1.25M473 150h1.25M480.5 146h1.25M474 144h1.25M463.5 143h1.25M471 151.5h1.25M474.5 141h1.25M461.5 148.5h1.25M487.5 144h1.25M467.5 143.5h1.25M469.5 153h1.25M468.5 138h1.25M466 142h1.25M475 150.5h1.25M466.5 146h1.25M483.5 152h1.25M472 140.5h1.25M473.5 148.5h1.25M474 141h1.25M452 152h1.25M494 141h1.25M473 149.5h1.25M474 151h1.25M473 153h1.25M460 146h1.25M483.5 142h1.25M474.5 142.5h1.25M478 146.5h1.25M461 152h1.25M457 148h1.25M474 147h1.25M469 146h1.25M470.5 143h1.25M465 150.5h1.25M474 145.5h1.25M472.5 142h1.25M471.5 142.5h1.25M472.5 146h1.25M471.5 146.5h1.25M474.5 150h1.25M479.5 150h1.25M477.5 148h1.25M459 146.5h1.25M471 146h1.25M455.5 142.5h1.25M479.5 145h1.25M478.5 149h1.25M475.5 150h1.25M480 145h1.25M471 148h1.25M480 142.5h1.25M481 151.5h1.25M480 144.5h1.25M464.5 153h1.25M474.5 145h1.25M476.5 147.5h1.25M472.5 141.5h1.25M458.5 142h1.25M468 147.5h1.25M462 144.5h1.25M482.5 150.5h1.25M475 142h1.25M469.5 145.5h1.25M472.5 147.5h1.25M478 150.5h1.25M467.5 146h1.25M477.5 143.5h1.25M468.5 152.5h1.25M454 152.5h1.25M465.5 142h1.25M459 143h1.25M464 151h1.25M477.5 143.5h1.25M463 140.5h1.25M473 150.5h1.25M479 146h1.25M454.5 145.5h1.25M478.5 144h1.25M475 150h1.25M476.5 150h1.25M466.5 152h1.25M473.5 149h1.25M470.5 150.5h1.25M470 146h1.25M467.5 148h1.25M465.5 145.5h1.25M466.5 150h1.25M487.5 141h1.25M470.5 148.5h1.25M473.5 139.5h1.25M477.5 151.5h1.25M464 145h1.25M480 145h1.25M467 149.5h1.25M473.5 142h1.25M475 151.5h1.25M467 150.5h1.25M479 148.5h1.25M481.5 148.5h1.25M473 153.5h1.25M475 148.5h1.25M471 146h1.25M458.5 150h1.25M475 142h1.25M460.5 147.5h1.25M479.5 144.5h1.25M484 147h1.25M484.5 149.5h1.25M479.5 145.5h1.25M475.5 146h1.25M473 152h1.25M483.5 143h1.25M474.5 148.5h1.25M480 152.5h1.25M470 144h1.25M476 151.5h1.25M466.5 149h1.25M471 144h1.25M477.5 151h1.25M470 150.5h1.25M471 153h1.25M473.5 142h1.25M481 144.5h1.25M466 145.5h1.25M467.5 149h1.25M462 150.5h1.25M462 152.5h1.25M453 145h1.25M471.5 146.5h1.25M461 144.5h1.25M469 148.5h1.25M474 150h1.25M477.5 150h1.25M481.5 145.5h1.25M463.5 149.5h1.25M479 137.5h1.25M476.5 147h1.25M472.5 151.5h1.25M466 147.5h1.25M464 147.5h1.25M461.5 147h1.25M470.5 151.5h1.25M473 152h1.25M474 143.5h1.25M484 148.5h1.25M466 144.5h1.25M465.5 153h1.25M478 143.5h1.25M473.5 152h1.25M474 148.5h1.25M471.5 152h1.25M474 144h1.25M470.5 144.5h1.25M462.5 146.5h1.25M477 151h1.25M473.5 147.5h1.25M462.5 153h1.25M472 149h1.25M470 148.5h1.25M465.5 150.5h1.25M464 143h1.25M462 147.5h1.25M473 147h1.25M469.5 146.5h1.25M472.5 145.5h1.25M474 146.5h1.25M459 152.5h1.25M465.5 149.5h1.25M456 144.5h1.25M476 144h1.25M474 147.5h1.25M462.5 153h1.25M471.5 147.5h1.25M461.5 143h1.25M467.5 142.5h1.25M465.5 142.5h1.25M473.5 146h1.25M452.5 146.5h1.25M469.5 147h1.25M463 147h1.25M479 145h1.25M473.5 148.5h1.25M461.5 145.5h1.25M474 152.5h1.25M471.5 152.5h1.25M464.5 141.5h1.25M473.5 148h1.25M477 147.5h1.25M469.5 147.5h1.25M459 149.5h1.25M470.5 151.5h1.25M477.5 149.5h1.25M467.5 141h1.25M479.5 147h1.25M474 151h1.25M473 145.5h1.25M470 146.5h1.25M463 150.5h1.25M473.5 144h1.25M472 149.5h1.25M467 145.5h1.25M469.5 152h1.25M480.5 148.5h1.25M476.5 149.5h1.25M476.5 143h1.25M472.5 150.5h1.25M452 142h1.25M483.5 147.5h1.25M477 144.5h1.25M478 149h1.25M467.5 148.5h1.25M464 142h1.25M460.5 138.5h1.25M469 144h1.25M477 149.5h1.25M468 147h1.25M469 138h1.25M473 146.5h1.25M477 153h1.25M483.5 151h1.25M456 150.5h1.25M473.5 144.5h1.25M479 145.5h1.25M467.5 150.5h1.25M479.5 151.5h1.25M466.5 138.5h1.25M485.5 146h1.25M470 145h1.25M464.5 150.5h1.25M481 151.5h1.25M471.5 150h1.25M461 152.5h1.25M467 141.5h1.25M474 145.5h1.25M488.5 149.5h1.25M463.5 145h1.25M485 148h1.25M474.5 151h1.25M474 148h1.25M471 147.5h1.25M478 151.5h1.25M459.5 144.5h1.25M460.5 148.5h1.25M461.5 145h1.25M467 148.5h1.25M476.5 150.5h1.25M478 151h1.25M475.5 148h1.25M477 147h1.25M476.5 150h1.25M478.5 146.5h1.25M457 147h1.25M476 149h1.25M474 145.5h1.25M478.5 147.5h1.25M465 148.5h1.25M487 146h1.25M483 152h1.25M476 150h1.25M467 139h1.25M468 146.5h1.25M474.5 147.5h1.25M482.5 144h1.25M479 140.5h1.25M462.5 150h1.25M471.5 151h1.25M461.5 147h1.25M478.5 144h1.25M480.5 148.5h1.25M478 139h1.25M473.5 143h1.25M467.5 148.5h1.25M463 139h1.25M484 152h1.25M469.5 144h1.25M474.5 147.5h1.25M462 151.5h1.25M471 148h1.25M471.5 147h1.25M475.5 143.5h1.25M483.5 151h1.25M473.5 143h1.25M478.5 141h1.25M479 144h1.25M478.5 147.5h1.25M483.5 143.5h1.25M447 151h1.25M463 146h1.25M473 149h1.25M476.5 143h1.25M462 148.5h1.25M475 150h1.25M463.5 145h1.25M464 147h1.25M488.5 139h1.25M478 144.5h1.25M466 148.5h1.25M477.5 150h1.25M470.5 142.5h1.25M479 152h1.25M472 141h1.25M477.5 143h1.25M457.5 152.5h1.25M476 150h1.25M475 149.5h1.25M488.5 153h1.25M466 143.5h1.25M478.5 149h1.25M475 142h1.25M455.5 140.5h1.25M465.5 140.5h1.25M459.5 141h1.25M469 148h1.25M468.5 142h1.25M463 144.5h1.25M482 143h1.25M472.5 151h1.25M475.5 153h1.25M467 148h1.25M479 151h1.25M474 142.5h1.25M472 150.5h1.25M470.5 150h1.25M466 147.5h1.25M460 141.5h1.25M476.5 145h1.25M465 149.5h1.25M474 147h1.25M473.5 148.5h1.25M464 147.5h1.25M467 147h1.25M458.5 152h1.25M466.5 151.5h1.25M483 146h1.25M487.5 144h1.25M470.5 145.5h1.25M466 146.5h1.25M469.5 145h1.25M470.5 148.5h1.25M475 148.5h1.25M472.5 148h1.25M486.5 145h1.25M461 148.5h1.25M476.5 148.5h1.25M479 142.5h1.25M477.5 153.5h1.25M475.5 151.5h1.25M483 147.5h1.25M460 150.5h1.25M479 144h1.25M489 148.5h1.25M478.5 145.5h1.25M465 148h1.25M466.5 152h1.25M480.5 137h1.25M479.5 143h1.25M490 146.5h1.25M474.5 146h1.25M476.5 146h1.25M471.5 147.5h1.25M477.5 145h1.25M466 148.5h1.25M473 148h1.25M462 148.5h1.25M465.5 145.5h1.25M481 143.5h1.25M462 146h1.25M475.5 148h1.25M483.5 139h1.25M468 140.5h1.25M472.5 147h1.25M479.5 138h1.25M464 145.5h1.25M479 150h1.25M480.5 149.5h1.25M476.5 145.5h1.25M467 145.5h1.25M482.5 152h1.25M467 152h1.25M482 146.5h1.25M477.5 153h1.25M464.5 149.5h1.25M466.5 146.5h1.25M461 145h1.25M479 145h1.25M477 152h1.25M468.5 149h1.25M468.5 145.5h1.25M457.5 150h1.25M482 145.5h1.25M466.5 149.5h1.25M471.5 147h1.25M489.5 147.5h1.25M466.5 144.5h1.25M470 151h1.25M462.5 146.5h1.25M461.5 148.5h1.25M478.5 141h1.25M468 145.5h1.25M470 147.5h1.25M478 148.5h1.25M465.5 150.5h1.25M471.5 142h1.25M483.5 147h1.25M462.5 147.5h1.25M465.5 143h1.25M476.5 142.5h1.25M464.5 141.5h1.25M468 147h1.25M471 144.5h1.25M467.5 149h1.25M470 150.5h1.25M479.5 145h1.25M472.5 149h1.25M465 144h1.25M470.5 144h1.25M476 148h1.25M466 149h1.25M469.5 149h1.25M481 149h1.25M475 152h1.25M456 145.5h1.25M466.5 134.5h1.25M464 151.5h1.25M483 140h1.25M465.5 149.5h1.25M470.5 152.5h1.25M472 148h1.25M470 144.5h1.25M484 147.5h1.25M473 147.5h1.25M477.5 149h1.25M475 147h1.25M459.5 142h1.25M475 148h1.25M469.5 143h1.25M473.5 152h1.25M474.5 152h1.25M473.5 141.5h1.25M471 143.5h1.25M480.5 151h1.25M485 149h1.25M462 141h1.25M463.5 147h1.25M477.5 149.5h1.25M479.5 144h1.25M474.5 148.5h1.25M468.5 143h1.25M472 149h1.25M464.5 143h1.25M479.5 150h1.25M456.5 148.5h1.25M475 145h1.25M465.5 147h1.25M478.5 148.5h1.25M472 142.5h1.25M479.5 149h1.25M462.5 143h1.25M464 147.5h1.25M469 150.5h1.25M460 153h1.25M456.5 143.5h1.25M480.5 153h1.25M461 144h1.25M465 143.5h1.25M480 147h1.25M466 150h1.25M477 152.5h1.25M460.5 145.5h1.25M458.5 147.5h1.25M472 146.5h1.25M480.5 145.5h1.25M482 143.5h1.25M465 145h1.25M484.5 150.5h1.25M471.5 149h1.25M464 144h1.25M474.5 149.5h1.25M466.5 152.5h1.25M466.5 140h1.25M468 145.5h1.25M480 142.5h1.25M478 145.5h1.25M474.5 146h1.25M471.5 140.5h1.25M474 145.5h1.25M473 144h1.25M470 138h1.25M472 147h1.25M470.5 145h1.25M469.5 153.5h1.25M470 142.5h1.25M467.5 146.5h1.25M469.5 144h1.25M470.5 149.5h1.25M469 147h1.25M476.5 149h1.25M471.5 150h1.25M465 145h1.25M470.5 151h1.25M471.5 146.5h1.25M467 148.5h1.25M464.5 151h1.25M480 141.5h1.25M464 142.5h1.25M477.5 142.5h1.25M465 153h1.25M472.5 143h1.25M471.5 146h1.25M476 140.5h1.25M467 147.5h1.25M463.5 142.5h1.25M469 147.5h1.25M472 149h1.25M465 149h1.25M465.5 146.5h1.25M462.5 152h1.25M475.5 143.5h1.25M470.5 147h1.25M473.5 149h1.25M455.5 150h1.25M476.5 152h1.25M476 142.5h1.25M463.5 148h1.25M477.5 144.5h1.25M460 138.5h1.25M455 149h1.25M464 145.5h1.25M469.5 148h1.25M466.5 146.5h1.25M469.5 145.5h1.25M461.5 148h1.25M475 147.5h1.25M486 147h1.25M468.5 146h1.25M475 146.5h1.25M494 150.5h1.25M472.5 149.5h1.25M469 152.5h1.25M459 144.5h1.25M474 146h1.25M478.5 141.5h1.25M465.5 150h1.25M468 145h1.25M474.5 153h1.25M459 146h1.25M480.5 151.5h1.25M470 146h1.25M474.5 150h1.25M474.5 150.5h1.25M469.5 153h1.25M461 152.5h1.25M473.5 152h1.25M465 142.5h1.25M478 151h1.25M458.5 152h1.25M477.5 142.5h1.25M483.5 148h1.25M480 147h1.25M484.5 148.5h1.25M480 148h1.25M470 146.5h1.25M475.5 148.5h1.25M463.5 139.5h1.25M456.5 146.5h1.25M490.5 144.5h1.25M472.5 146h1.25M479 147.5h1.25M469.5 147.5h1.25M459 145.5h1.25M471.5 153h1.25M468.5 142.5h1.25M477 148.5h1.25M471 139.5h1.25M463 152h1.25M467.5 151.5h1.25M467.5 151.5h1.25M483 146.5h1.25M470.5 150.5h1.25M466.5 144h1.25M480 144h1.25M475 144.5h1.25M476.5 145h1.25M472.5 149.5h1.25M475 143.5h1.25M468.5 151h1.25M488.5 145h1.25M473.5 142h1.25M474.5 150.5h1.25M479.5 146.5h1.25M470 138h1.25M463 150.5h1.25M467 147.5h1.25M467.5 147.5h1.25M460.5 147h1.25M472 147.5h1.25M487.5 144.5h1.25M471 147h1.25M482 149h1.25M461 150h1.25M458.5 152h1.25M464.5 147.5h1.25M470.5 148.5h1.25M476 150h1.25M470.5 146h1.25M470 147h1.25M467 150h1.25M459 150h1.25M464 149.5h1.25M480.5 151h1.25M481.5 145.5h1.25M477 149.5h1.25M467 142.5h1.25M464 152.5h1.25M468.5 151.5h1.25M472.5 150h1.25M464.5 144h1.25M462.5 145.5h1.25M478.5 145h1.25M467 147h1.25M470.5 148h1.25M465.5 147h1.25M454.5 150.5h1.25M480 144.5h1.25M474.5 146.5h1.25M464 147.5h1.25M467 144.5h1.25M464 144.5h1.25M484 150h1.25M472.5 146.5h1.25M470 143.5h1.25M459 140h1.25M461.5 144.5h1.25M464 142.5h1.25M477 144.5h1.25M478.5 143h1.25M480 150h1.25M472 145h1.25M469.5 146.5h1.25M483 148.5h1.25M462.5 146h1.25M477 146h1.25M466.5 151.5h1.25M460 145h1.25M477 146.5h1.25M469.5 150.5h1.25M463.5 149.5h1.25M474 152.5h1.25M472 145h1.25M458 147h1.25M491.5 151.5h1.25M467.5 143.5h1.25M468.5 146.5h1.25M471 152h1.25M486 146.5h1.25M461.5 148h1.25M466 147h1.25M456.5 151h1.25M476 142h1.25M463.5 143.5h1.25M468.5 151.5h1.25M465 145h1.25M485.5 144h1.25M479 148.5h1.25M470.5 142.5h1.25M474 140.5h1.25M459 151.5h1.25M472 148.5h1.25M488.5 150.5h1.25M470.5 144h1.25M478 150.5h1.25M484 147.5h1.25M474.5 150h1.25M471.5 144.5h1.25M475.5 149.5h1.25M479.5 151.5h1.25M481 148.5h1.25M477.5 153h1.25M467.5 150h1.25M475.5 143h1.25M471.5 148.5h1.25M470.5 142h1.25M470 142.5h1.25M463 146.5h1.25M471.5 145h1.25M461 148.5h1.25M473.5 145.5h1.25M481 149.5h1.25M467 153h1.25M477 146.5h1.25M463 145h1.25M475.5 146.5h1.25M469 143.5h1.25M471 145h1.25M475 152.5h1.25M483 150h1.25M477.5 146.5h1.25M472.5 142h1.25M470.5 142.5h1.25M472 148.5h1.25M475.5 150h1.25M471 144h1.25M467 148h1.25M463.5 149h1.25M473 150.5h1.25M474.5 144h1.25M467 142h1.25M469 142.5h1.25M470 150.5h1.25M470 147.5h1.25M488.5 142h1.25M480.5 149h1.25M489 147h1.25M449 149h1.25M476.5 146.5h1.25M477 144h1.25M467.5 147.5h1.25M468.5 147.5h1.25M469 149.5h1.25M470.5 145.5h1.25M465.5 146.5h1.25M486 149h1.25M480.5 145.5h1.25M474.5 142h1.25M483 147.5h1.25M486 146.5h1.25M474.5 147.5h1.25M484.5 149.5h1.25M474.5 148.5h1.25M473 148.5h1.25M478 139.5h1.25M477.5 145.5h1.25M473 149h1.25M465 147h1.25M466 150h1.25M476 151.5h1.25M474 144.5h1.25M476.5 145h1.25M461.5 145.5h1.25M472 151.5h1.25M461 144.5h1.25M472.5 147h1.25M483.5 148h1.25M462 152.5h1.25M470.5 145h1.25M458.5 143.5h1.25M467.5 148.5h1.25M480 148.5h1.25M477 148h1.25M467 149.5h1.25M465.5 150h1.25M469.5 147h1.25M478 147.5h1.25M463 143.5h1.25M482.5 148.5h1.25M472.5 147h1.25M462.5 147h1.25M477 146h1.25M473 145.5h1.25M463 137.5h1.25M475 144.5h1.25M467 147.5h1.25M474.5 145.5h1.25M487.5 147h1.25M455 139h1.25M466 148h1.25M463 147.5h1.25M480 148.5h1.25M484.5 146.5h1.25M472 143.5h1.25M473.5 150.5h1.25M468 146h1.25M475 147h1.25M468 145.5h1.25M467 146.5h1.25M461 141.5h1.25M461 152h1.25M474 148h1.25M476 146.5h1.25M479.5 148.5h1.25M462 135h1.25M469.5 147h1.25M469.5 151h1.25M465.5 148h1.25M470 149.5h1.25M473.5 144h1.25M466.5 150.5h1.25M468.5 141h1.25M474 143h1.25M461.5 147h1.25M470 151.5h1.25M461.5 144h1.25M472 147h1.25M471 145h1.25M466 151h1.25M475.5 142h1.25M480 146.5h1.25M461.5 146.5h1.25M486.5 147h1.25M475 152.5h1.25M471.5 142.5h1.25M475 149.5h1.25M470.5 148h1.25M462 145h1.25M472.5 138.5h1.25M500 149h1.25M466.5 143.5h1.25M465.5 145h1.25M476 149h1.25M478 149h1.25M468.5 146.5h1.25M457 153h1.25M473 143.5h1.25M470.5 151h1.25M479 153h1.25M472.5 152.5h1.25M471 149h1.25M460.5 149h1.25M468 146.5h1.25M470.5 145.5h1.25M478.5 144h1.25M487.5 152h1.25M461.5 137.5h1.25M478 144.5h1.25M477.5 142h1.25M474.5 142.5h1.25M482 140h1.25M457.5 148h1.25M476 141.5h1.25M475.5 151h1.25M473 146.5h1.25M475 143.5h1.25M476 143h1.25M466 144h1.25M476 146.5h1.25M467.5 143.5h1.25M463.5 150.5h1.25M462 149.5h1.25M475 142h1.25M468 152.5h1.25M469 147.5h1.25M481.5 150.5h1.25M475.5 145.5h1.25M455.5 144.5h1.25M470.5 140.5h1.25M482.5 144.5h1.25M462.5 141.5h1.25M481.5 150h1.25M464 150.5h1.25M470.5 148.5h1.25M471 147.5h1.25M465 149h1.25M474.5 142.5h1.25M482 149h1.25M480.5 149.5h1.25M466 144.5h1.25M475.5 148h1.25M476.5 149h1.25M473 150h1.25M475 133.5h1.25M493 142.5h1.25M467.5 147.5h1.25M469 140.5h1.25M472 150h1.25M479.5 147h1.25M478.5 151h1.25M472.5 145.5h1.25M495.5 145h1.25M469 145h1.25M474.5 152h1.25M467 150h1.25M470 145h1.25M472.5 141.5h1.25M482.5 142.5h1.25M480 147.5h1.25M472 150.5h1.25M457 146.5h1.25M467.5 148.5h1.25M468 144.5h1.25M471 141h1.25M466 149.5h1.25M483.5 149.5h1.25M464 141h1.25M467 145h1.25M483.5 146h1.25M482.5 150.5h1.25M472 152h1.25M486 142.5h1.25M484 145.5h1.25M474 143.5h1.25M472 147.5h1.25M463.5 151h1.25M463 150.5h1.25M486.5 146.5h1.25M484.5 151.5h1.25M471 152.5h1.25M481 147h1.25M471.5 146.5h1.25M467 150h1.25M464.5 151h1.25M484 148h1.25M464 148.5h1.25M472.5 148.5h1.25M473.5 149.5h1.25M465.5 147.5h1.25M463.5 147.5h1.25M471 146.5h1.25M462 143h1.25M468 151.5h1.25M468.5 142h1.25M471 145h1.25M476.5 149h1.25M470.5 152h1.25M466.5 143.5h1.25M464.5 142.5h1.25M477.5 150.5h1.25M466.5 141h1.25M454 146h1.25M461.5 146h1.25M485 143.5h1.25M456 142h1.25M480.5 147.5h1.25M479 150.5h1.25M485 146.5h1.25M469.5 137.5h1.25M476.5 147.5h1.25M461 146h1.25M473 148.5h1.25M470.5 147.5h1.25M484 140.5h1.25M474 147h1.25M462.5 144h1.25M480.5 151.5h1.25M471 148.5h1.25M471.5 147.5h1.25M456 151.5h1.25M460.5 144h1.25M473.5 151h1.25M463.5 149h1.25M475 148.5h1.25M473 150.5h1.25M472 140.5h1.25M464 151h1.25M461.5 145.5h1.25M489 146h1.25M488 150.5h1.25M476.5 148.5h1.25M467 144.5h1.25M475 144h1.25M474.5 148h1.25M488 150h1.25M472 153.5h1.25M478.5 147.5h1.25M474.5 150h1.25M480 143h1.25M480 145.5h1.25M466 145.5h1.25M463.5 143.5h1.25M466 151h1.25M468 149.5h1.25M474.5 147.5h1.25M477 145.5h1.25M474 147.5h1.25M458.5 149.5h1.25M463 147h1.25M473.5 142h1.25M469.5 146h1.25M482.5 147.5h1.25M473 148h1.25M467.5 147.5h1.25M479 142.5h1.25M487.5 148h1.25M469.5 151.5h1.25M464 147.5h1.25M474 148h1.25M479.5 142h1.25M470 151h1.25M465 146.5h1.25M468 147.5h1.25M467.5 143.5h1.25M472 148h1.25M468.5 145.5h1.25M469 151.5h1.25M467.5 150.5h1.25M476.5 152h1.25M474 148.5h1.25M475.5 152h1.25M466.5 147h1.25M461 148.5h1.25M469.5 151h1.25M487.5 141h1.25M477.5 144.5h1.25M475.5 141h1.25M469.5 151.5h1.25M478 145.5h1.25M472.5 151.5h1.25M487 153h1.25M466 145.5h1.25M471 148.5h1.25M458 144.5h1.25M470 144.5h1.25M455.5 145h1.25M478.5 152.5h1.25M462 149h1.25M470 148.5h1.25M484 147h1.25M466.5 146.5h1.25M467 140.5h1.25M475.5 144h1.25M479 152h1.25M469.5 146h1.25M469 146h1.25M463.5 144.5h1.25M452.5 149.5h1.25M479.5 145.5h1.25M470 148.5h1.25M469 148h1.25M461.5 148.5h1.25M471.5 148h1.25M461.5 143.5h1.25M478.5 143.5h1.25M464.5 150h1.25M472.5 144h1.25M474 149h1.25M484.5 152h1.25M468 148h1.25M463 147h1.25M477 146h1.25M470.5 151h1.25M492.5 151.5h1.25M479.5 147.5h1.25M480 144h1.25M467.5 142h1.25M482.5 148.5h1.25M473 148.5h1.25M472 147h1.25M473 143h1.25M457.5 143.5h1.25M467.5 151.5h1.25M481 147.5h1.25M486 149.5h1.25M469.5 142h1.25M474 150.5h1.25M469 146h1.25M470.5 147.5h1.25M470.5 146.5h1.25M481.5 153h1.25M467 148.5h1.25M460 150.5h1.25M469.5 147.5h1.25M459 145.5h1.25M470.5 143h1.25M467.5 145h1.25M481.5 150h1.25M467.5 150h1.25M466.5 140h1.25M468 150.5h1.25M474.5 149h1.25M465.5 143h1.25M477.5 148.5h1.25M486.5 141.5h1.25M480.5 151h1.25M472.5 139.5h1.25M454 150h1.25M478.5 150h1.25M465.5 145.5h1.25M471.5 141h1.25M470.5 147.5h1.25M476 142h1.25M479 147h1.25M471.5 143h1.25M464.5 148.5h1.25M464 147.5h1.25M472 145.5h1.25M461.5 152h1.25M465.5 146h1.25M465.5 146.5h1.25M469 146.5h1.25M473.5 146h1.25M474.5 132h1.25M476 138h1.25M487 139.5h1.25M467.5 146.5h1.25M483 140.5h1.25M462.5 149h1.25M477.5 139.5h1.25M475 147.5h1.25M461 150h1.25M466.5 150h1.25M477 147.5h1.25M467 143h1.25M471.5 150h1.25M473.5 145h1.25M468 149.5h1.25M456.5 145h1.25M465 149h1.25M483 141h1.25M468 151h1.25M467 150h1.25M477.5 145h1.25M475 149h1.25M470.5 143.5h1.25M480 147h1.25M475 146h1.25M470.5 149.5h1.25M478.5 149.5h1.25M476 150.5h1.25M479 151h1.25M466.5 147h1.25M463 152h1.25M460.5 149h1.25M469.5 146.5h1.25M468.5 151h1.25M473 146h1.25M470.5 146h1.25M486.5 146.5h1.25M476 148h1.25M477.5 148.5h1.25M466 149.5h1.25M483.5 153.5h1.25M463 153h1.25M479.5 148h1.25M479.5 145h1.25M477.5 143h1.25M477 152h1.25M466 143.5h1.25M472.5 141.5h1.25M476 149h1.25M492 147.5h1.25M461.5 149.5h1.25M471.5 152.5h1.25M467.5 148h1.25M470.5 147.5h1.25M468.5 151.5h1.25M475.5 145.5h1.25M477.5 151h1.25M468 145h1.25M470.5 150.5h1.25M473 147.5h1.25M459.5 146h1.25M471.5 150.5h1.25M472 145h1.25M467.5 149.5h1.25M471 135h1.25M463 144h1.25M475.5 148h1.25M473.5 147.5h1.25M464.5 143h1.25M473.5 149.5h1.25M486.5 145.5h1.25M471 147.5h1.25M490 149.5h1.25M478.5 147h1.25M470 151.5h1.25M454.5 145.5h1.25M476.5 148h1.25M458 146.5h1.25M472 145.5h1.25M480 145.5h1.25M474 142.5h1.25M473 152h1.25M479 141.5h1.25M471.5 145h1.25M468.5 144.5h1.25M466.5 148h1.25M484.5 147.5h1.25M486.5 145h1.25M459.5 145.5h1.25M473 144.5h1.25M482.5 152h1.25M475 148h1.25M467 146.5h1.25M472.5 143.5h1.25M471 148h1.25M469 147h1.25M470 152.5h1.25M464 142.5h1.25M467 150.5h1.25M473 141h1.25M464 152.5h1.25M455.5 148.5h1.25M487 140.5h1.25M474.5 142h1.25M468.5 145h1.25M453 145h1.25M473.5 146.5h1.25M485.5 141h1.25M465 139.5h1.25M459 151h1.25M481 151.5h1.25M471.5 147.5h1.25M485 153h1.25M468.5 152h1.25M476.5 147.5h1.25M462.5 146h1.25M472 147.5h1.25M469.5 143.5h1.25M469.5 147h1.25M481 148h1.25M476 144h1.25M465 143h1.25M466 149.5h1.25M484.5 145h1.25M489 148h1.25M478 140.5h1.25M473.5 149.5h1.25M482 145.5h1.25M470.5 147h1.25M462 153h1.25M472.5 151h1.25M461 145h1.25M471 142h1.25M472 142h1.25M485 146h1.25M465 145.5h1.25M483 145.5h1.25M481 147h1.25M471.5 152h1.25M466.5 150h1.25M467.5 140.5h1.25M470 145.5h1.25M465 147h1.25M469 151.5h1.25M471.5 142.5h1.25M468 147h1.25M477 150h1.25M477 148h1.25M467.5 138h1.25M486 153h1.25M480 143.5h1.25M462.5 145.5h1.25M469.5 141.5h1.25M469 152.5h1.25M454.5 149.5h1.25M475.5 145.5h1.25M470 146h1.25M470.5 151.5h1.25M482.5 149h1.25M476.5 148h1.25M464 150.5h1.25M481.5 145.5h1.25M476 149h1.25M471.5 147h1.25M480 143.5h1.25M478 151.5h1.25M474 144.5h1.25M461.5 143h1.25M469 149.5h1.25M451.5 153h1.25M464 149.5h1.25M464 144.5h1.25M474.5 142.5h1.25M486 143.5h1.25M462 150.5h1.25M479 142.5h1.25M474.5 140.5h1.25M481.5 145h1.25M460.5 150h1.25M471 149h1.25M463 152h1.25M472.5 142h1.25M469 142h1.25M459 152h1.25M481.5 153h1.25M456 145h1.25M472.5 138.5h1.25M455 153h1.25M469 145h1.25M464.5 141.5h1.25M484.5 145.5h1.25M453.5 149h1.25M472.5 142h1.25M470 152h1.25M481.5 150.5h1.25M463 150.5h1.25M473.5 139.5h1.25M469 143h1.25M472 142.5h1.25M480.5 144h1.25M466.5 144h1.25M481 144h1.25M455 143h1.25M476 149h1.25M491 147h1.25M471.5 145h1.25M472 147.5h1.25M473 139h1.25M481 146.5h1.25M466.5 144h1.25M471 150h1.25M478.5 148h1.25M484 138.5h1.25M470.5 150h1.25M475.5 147.5h1.25M462.5 144.5h1.25M474 144h1.25M476 143h1.25M468 140.5h1.25M465 149.5h1.25M469 142.5h1.25M488 145h1.25M474 152.5h1.25M462 146h1.25M468.5 150h1.25M473 144.5h1.25M461.5 141.5h1.25M474.5 151h1.25M469 145.5h1.25M478 143h1.25M475 147h1.25M452 149h1.25M464 150.5h1.25M476 147h1.25M475.5 153h1.25M480.5 146.5h1.25M474 146h1.25M470.5 142.5h1.25M481.5 147.5h1.25M475.5 143h1.25M455 143h1.25M473.5 149.5h1.25M484.5 148.5h1.25M471 151.5h1.25M473.5 150h1.25M483 140.5h1.25M480 138.5h1.25M468 145h1.25M469.5 147.5h1.25M475 143h1.25M459 149.5h1.25M475 148.5h1.25M470.5 143.5h1.25M478.5 145h1.25M482 144.5h1.25M469.5 145.5h1.25M486 147.5h1.25M482 146h1.25M487.5 150h1.25M481 150.5h1.25M460.5 144h1.25M480 151h1.25M455.5 145.5h1.25M465.5 149.5h1.25M480.5 151h1.25M470 148h1.25M472.5 143h1.25M477.5 148h1.25M453 148h1.25M473.5 150.5h1.25M470.5 150h1.25M476.5 149h1.25M469 146h1.25M488 153h1.25M484 149.5h1.25M477.5 140h1.25M470 150.5h1.25M469.5 149h1.25M461 144.5h1.25M481.5 138h1.25M476 149.5h1.25M484 147.5h1.25M473 145.5h1.25M466 142h1.25M466 153h1.25M482 151.5h1.25M475.5 146h1.25M471 142h1.25M475 148h1.25M473.5 145.5h1.25M467.5 145.5h1.25M480.5 150.5h1.25M470 152.5h1.25M464.5 151h1.25M475 147h1.25M463 147h1.25M467.5 152h1.25M489.5 141.5h1.25M469.5 149.5h1.25M461 145.5h1.25M478 140.5h1.25M482 151h1.25M470.5 147h1.25M469.5 144h1.25M472 150.5h1.25M477.5 149h1.25M460.5 144.5h1.25M480.5 149h1.25M462 151.5h1.25M479.5 143h1.25M456 142.5h1.25M470.5 139.5h1.25M458 146h1.25M464 148.5h1.25M464 146h1.25M473 143.5h1.25M470.5 148h1.25M475 146h1.25M463.5 144.5h1.25M473.5 143h1.25M470.5 146.5h1.25M473.5 150.5h1.25M478.5 144h1.25M470 148.5h1.25M468.5 148h1.25M471 153h1.25M470 150.5h1.25M476 152.5h1.25M464.5 149.5h1.25M460 144h1.25M461.5 147.5h1.25M485 142h1.25M482 148h1.25M467.5 144h1.25M479 149h1.25M478.5 146.5h1.25M456 139.5h1.25M475 143.5h1.25M473 145h1.25M467 138h1.25M480.5 138.5h1.25M465.5 150h1.25M452 148h1.25M468.5 149.5h1.25M464 152.5h1.25M471.5 142.5h1.25M468 149.5h1.25M469.5 145.5h1.25M480 147h1.25M468 151h1.25M470.5 148.5h1.25M473 145h1.25M486 148h1.25M470.5 151h1.25M456.5 147.5h1.25M475 144h1.25M473.5 150.5h1.25M469 140.5h1.25M468.5 147h1.25M476.5 143.5h1.25M458.5 145.5h1.25M464.5 152h1.25M488 143h1.25M481.5 142.5h1.25M453.5 145h1.25M474.5 149h1.25M474 147.5h1.25M470.5 147.5h1.25M461.5 150h1.25M484 149.5h1.25M474.5 152.5h1.25M476.5 151h1.25M465.5 145.5h1.25M462.5 145.5h1.25M461 148h1.25M468.5 146h1.25M482.5 149.5h1.25M474.5 147h1.25M475 148h1.25M494 140.5h1.25M477.5 134.5h1.25M486.5 140.5h1.25M488.5 139.5h1.25M480.5 134.5h1.25M480 141h1.25M475 141h1.25M479 135h1.25M484.5 135h1.25M480.5 142h1.25M488 144.5h1.25M480 143h1.25M479 139.5h1.25M488.5 140.5h1.25M476 136.5h1.25M474 135.5h1.25M492.5 141h1.25M481 138h1.25M488.5 142h1.25M483 136h1.25M481 144h1.25M481 136.5h1.25M484.5 141.5h1.25M478.5 138h1.25M486 144.5h1.25M476.5 142h1.25M475.5 143.5h1.25M485 139.5h1.25M479.5 135.5h1.25M475 140.5h1.25M480 140.5h1.25M487.5 138h1.25M481.5 134h1.25M489 141.5h1.25M482.5 141.5h1.25M473.5 137h1.25M480.5 141h1.25M478 140.5h1.25M482 135h1.25M483.5 138.5h1.25M480.5 139.5h1.25M477 141h1.25M483.5 136h1.25M478.5 135.5h1.25M493 140.5h1.25M477.5 133.5h1.25M480 141h1.25M476.5 139.5h1.25M477.5 134h1.25M483 130h1.25M487 133h1.25M480.5 140.5h1.25M483.5 139.5h1.25M476.5 144.5h1.25M471.5 142h1.25M482 145h1.25M483.5 144h1.25M472.5 145h1.25M486.5 135h1.25M478 145h1.25M480.5 139.5h1.25M482.5 144.5h1.25M475.5 142h1.25M477 136.5h1.25M475.5 133h1.25M487 145h1.25M482.5 148.5h1.25M474.5 134h1.25M484.5 144h1.25M473 136.5h1.25M481 135.5h1.25M481 129h1.25M474.5 142h1.25M483.5 144h1.25M485.5 132h1.25M481 141h1.25M475 138.5h1.25M477 131.5h1.25M485 139.5h1.25M486 145.5h1.25M483 142h1.25M484.5 133.5h1.25M490 136h1.25M478 132h1.25M485.5 139h1.25M489 137.5h1.25M479 133h1.25M486.5 139h1.25M484 133h1.25M473.5 140.5h1.25M477.5 137h1.25M475.5 138.5h1.25M478.5 139h1.25M475 148h1.25M479.5 144h1.25M486 135.5h1.25M484.5 132h1.25M470 135h1.25M480.5 144.5h1.25M479 143h1.25M484 134.5h1.25M484.5 144h1.25M486.5 136.5h1.25M480.5 138.5h1.25M474.5 131h1.25M477.5 141.5h1.25M473.5 142h1.25M475 141.5h1.25M476 140h1.25M476.5 139.5h1.25M481 137h1.25M478.5 139.5h1.25M483.5 137.5h1.25M483 139h1.25M487 131h1.25M477.5 137h1.25M477 135h1.25M477 138.5h1.25M480 138h1.25M482 137.5h1.25M476 142h1.25M489.5 142.5h1.25M477.5 137h1.25M491 132.5h1.25M486 140h1.25M477 134h1.25M487 141h1.25M482.5 137.5h1.25M477.5 139h1.25M478 138h1.25M477 136.5h1.25M486.5 137.5h1.25M471.5 132h1.25M480 137.5h1.25M471 141.5h1.25M494 137.5h1.25M474.5 144.5h1.25M485.5 134.5h1.25M476.5 139h1.25M479 141.5h1.25M478 140.5h1.25M487.5 141h1.25M485 139.5h1.25M488.5 143.5h1.25M474.5 144h1.25M477 145h1.25M477 138h1.25M479.5 138h1.25M478.5 130h1.25M480.5 146.5h1.25M485 136.5h1.25M486 147.5h1.25M476.5 134.5h1.25M485 138h1.25M483 136h1.25M485 134.5h1.25M478 138h1.25M480.5 136h1.25M479.5 136.5h1.25M483.5 136h1.25M482 145h1.25M485 141.5h1.25M478 132.5h1.25M479 135.5h1.25M479 141.5h1.25M474.5 134.5h1.25M479 141h1.25M479 130h1.25M478 141.5h1.25M478 144.5h1.25M481.5 139.5h1.25M477 148h1.25M477 137.5h1.25M481.5 135h1.25M484 141h1.25M480.5 137.5h1.25M485.5 146.5h1.25M486.5 138.5h1.25M474.5 139.5h1.25M472.5 146.5h1.25M479 141.5h1.25M478.5 136h1.25M491.5 143h1.25M476.5 139h1.25M484 134h1.25M485 141.5h1.25M475.5 141.5h1.25M478 137.5h1.25M480 140h1.25M488 145.5h1.25M480.5 137.5h1.25M481 137.5h1.25M492.5 144h1.25M470 137.5h1.25M480 144h1.25M480.5 143.5h1.25M489 142.5h1.25M481.5 138h1.25M487.5 137h1.25M478.5 142h1.25M480.5 142h1.25M482.5 136h1.25M481 136h1.25M490.5 135.5h1.25M483.5 134.5h1.25M486.5 141.5h1.25M475 142h1.25M494 142.5h1.25M475.5 145h1.25M475 136.5h1.25M475 134.5h1.25M472 136h1.25M482 149.5h1.25M482.5 140.5h1.25M483.5 142.5h1.25M469.5 138h1.25M488 129h1.25M480 140.5h1.25M487 135.5h1.25M472.5 141h1.25M445.5 143.5h1.25M451 136h1.25M451.5 146.5h1.25M462 135.5h1.25M452.5 143.5h1.25M455 134.5h1.25M445 142.5h1.25M443.5 148h1.25M452 143.5h1.25M434.5 147.5h1.25M447 146h1.25M440.5 150h1.25M444.5 146h1.25M448 141h1.25M448.5 141.5h1.25M437.5 147.5h1.25M446 145h1.25M445 148.5h1.25M441.5 140.5h1.25M441.5 149.5h1.25M447 140.5h1.25M454 145.5h1.25M447 140.5h1.25M442.5 145.5h1.25M447.5 148.5h1.25M453.5 146.5h1.25M447 146h1.25M451 146h1.25M446 143.5h1.25M436.5 146h1.25M458 140h1.25M452.5 145h1.25M441.5 145h1.25M449.5 142.5h1.25M449.5 145.5h1.25M447.5 147.5h1.25M437.5 152.5h1.25M452.5 142h1.25M447 147h1.25M445 146.5h1.25M449.5 151.5h1.25M438 150h1.25M445 148h1.25M436.5 150.5h1.25M435.5 152.5h1.25M436 150.5h1.25M453 135h1.25M451 149h1.25M450.5 137h1.25M453.5 142.5h1.25M447 139h1.25M455.5 138h1.25M437.5 150h1.25M449.5 148h1.25M448 142.5h1.25M449.5 146.5h1.25M447 145.5h1.25M441 145h1.25M447.5 147.5h1.25M449.5 146h1.25M456 139.5h1.25M453 142.5h1.25M446.5 152h1.25M453 136.5h1.25M448 146h1.25M438.5 149h1.25M449 143.5h1.25M439 149.5h1.25M448.5 145.5h1.25M449 143.5h1.25M449.5 150h1.25M444.5 145h1.25M443 146.5h1.25M445 149h1.25M444.5 140.5h1.25M445 144h1.25M447 144h1.25M446 142h1.25M452 147.5h1.25M462 135h1.25M446 143.5h1.25M446 140h1.25M466 132.5h1.25M447 145.5h1.25M456.5 133.5h1.25M443 147h1.25M460.5 141h1.25M446.5 144.5h1.25M444.5 145h1.25M445.5 141h1.25M442 145h1.25M449 140.5h1.25M450 147h1.25M442.5 142h1.25M438.5 142.5h1.25M462 137h1.25M449.5 136.5h1.25M440.5 146h1.25M459 137.5h1.25M456.5 141.5h1.25M438.5 150h1.25M439.5 148.5h1.25M452.5 139.5h1.25M450.5 141.5h1.25M457.5 141h1.25M453.5 142h1.25M447.5 147.5h1.25M434.5 143h1.25M450 142h1.25M442 145h1.25M451 142h1.25M449.5 134h1.25M439 151h1.25M447 141.5h1.25M462 139h1.25M449 145h1.25M445 144.5h1.25M452.5 136h1.25M453 143h1.25M450.5 144h1.25M441 147.5h1.25M440.5 149h1.25M440 147.5h1.25M438.5 143h1.25M437.5 148h1.25M447.5 142.5h1.25M446.5 142.5h1.25M445.5 146h1.25M438.5 145.5h1.25M443 146h1.25M450.5 143.5h1.25M435 150h1.25M448.5 141.5h1.25M443 149h1.25M444 147.5h1.25M437.5 151h1.25M434.5 151.5h1.25M445 145h1.25M442 146h1.25M438 151.5h1.25M442 140h1.25M443.5 140.5h1.25M447.5 149h1.25M451 141.5h1.25M454.5 138h1.25M452 138h1.25M436 148h1.25M442 144h1.25M437.5 151h1.25M446 150.5h1.25M447 148.5h1.25M450 141h1.25M439.5 149.5h1.25M448 147h1.25M461 135.5h1.25M442 147h1.25M455.5 138h1.25M440.5 147.5h1.25M447 144.5h1.25M450 146.5h1.25M438.5 153h1.25M446.5 143h1.25M456.5 144.5h1.25M448 138.5h1.25M452.5 142.5h1.25M447 143h1.25M448 143.5h1.25M462 141.5h1.25M444.5 146.5h1.25M443 146.5h1.25M452.5 137h1.25M452.5 150h1.25M434 151h1.25M446.5 148h1.25M456.5 141.5h1.25M445.5 146h1.25M451 142h1.25M446 141h1.25M449.5 152h1.25M455.5 141h1.25M456 138.5h1.25M437.5 152.5h1.25M444.5 139h1.25M449.5 145h1.25M475 137.5h1.25M470 143.5h1.25M468.5 135.5h1.25M467 139h1.25M456 137h1.25M454 129.5h1.25M460.5 134h1.25M460.5 136h1.25M464.5 131h1.25M460 140.5h1.25M468 142.5h1.25M472.5 131.5h1.25M460.5 135h1.25M458 135h1.25M462 128h1.25M460.5 131.5h1.25M454 128.5h1.25M470.5 133h1.25M461.5 138h1.25M458 136h1.25M460.5 133h1.25M460 134h1.25M464.5 136h1.25M461.5 141.5h1.25M469 137h1.25M458 141h1.25M464 136.5h1.25M456.5 136h1.25M458.5 139.5h1.25M458.5 138h1.25M470 132h1.25M452 138.5h1.25M459 132.5h1.25M454 131.5h1.25M456.5 135h1.25M453.5 130h1.25M463 136.5h1.25M458 140.5h1.25M464.5 134h1.25M457.5 134.5h1.25M458.5 130h1.25M469.5 140h1.25M466 137h1.25M462 134h1.25M461.5 134h1.25M459.5 137.5h1.25M461 133.5h1.25M456 135.5h1.25M451.5 136.5h1.25M466 146h1.25M458.5 135.5h1.25M460 135.5h1.25M454.5 135.5h1.25M463.5 136.5h1.25M457.5 138h1.25M460 135h1.25M461 142.5h1.25M462.5 136.5h1.25M466 134h1.25M463 132.5h1.25M457.5 136h1.25M460.5 132h1.25M461.5 136h1.25M453 137.5h1.25M463.5 141h1.25M454 137h1.25M465 130h1.25M458.5 133.5h1.25M455.5 140h1.25M468 138h1.25M452 132.5h1.25M466.5 137h1.25M448.5 141.5h1.25M464 133h1.25M460 132.5h1.25M461.5 137h1.25M466 137.5h1.25M467.5 133h1.25M473 138.5h1.25M461.5 135h1.25" stroke="#000" stroke-width="1.25" transform="translate(0,0.5)"/>
<path d="M454 98.5h1.25M457 108h1.25M510.5 147h1.25M479 142.5h1.25M488 75.5h1.25M507 78h1.25M466.5 72h1.25M466.5 143h1.25M453 91.5h1.25M443.5 145.5h1.25M434.5 98h1.25M488.5 103h1.25" stroke="#000" stroke-width="1.25" transform="translate(0,0.5)"/>
<rect x="42.699999999999996" y="69.2" width="85.10000000000002" height="86.19999999999997" fill="none" stroke="#000" stroke-width="1.5"/>
<line x1="71.60000000000001" y1="69.2" x2="71.60000000000001" y2="155.39999999999998" stroke="#000" stroke-width="1.4"/>
<line x1="42.699999999999996" y1="127.3" x2="127.80000000000001" y2="127.3" stroke="#000" stroke-width="1.4"/>
<path d="M42.7 155.39999999999998v4.3M42.699999999999996 155.4h-4.3M49.1 155.39999999999998v3M42.699999999999996 148.9h-3M52.9 155.39999999999998v3M42.699999999999996 145.1h-3M55.5 155.39999999999998v3M42.699999999999996 142.4h-3M57.6 155.39999999999998v3M42.699999999999996 140.3h-3M59.3 155.39999999999998v3M42.699999999999996 138.6h-3M60.7 155.39999999999998v3M42.699999999999996 137.2h-3M61.9 155.39999999999998v3M42.699999999999996 135.9h-3M63.0 155.39999999999998v3M42.699999999999996 134.8h-3M64.0 155.39999999999998v4.3M42.699999999999996 133.8h-4.3M70.4 155.39999999999998v3M42.699999999999996 127.4h-3M74.1 155.39999999999998v3M42.699999999999996 123.6h-3M76.8 155.39999999999998v3M42.699999999999996 120.9h-3M78.8 155.39999999999998v3M42.699999999999996 118.8h-3M80.5 155.39999999999998v3M42.699999999999996 117.1h-3M82.0 155.39999999999998v3M42.699999999999996 115.6h-3M83.2 155.39999999999998v3M42.699999999999996 114.4h-3M84.3 155.39999999999998v3M42.699999999999996 113.3h-3M85.2 155.39999999999998v4.3M42.699999999999996 112.3h-4.3M91.7 155.39999999999998v3M42.699999999999996 105.8h-3M95.4 155.39999999999998v3M42.699999999999996 102.0h-3M98.1 155.39999999999998v3M42.699999999999996 99.3h-3M100.1 155.39999999999998v3M42.699999999999996 97.2h-3M101.8 155.39999999999998v3M42.699999999999996 95.5h-3M103.2 155.39999999999998v3M42.699999999999996 94.1h-3M104.5 155.39999999999998v3M42.699999999999996 92.8h-3M105.6 155.39999999999998v3M42.699999999999996 91.7h-3M106.5 155.39999999999998v4.3M42.699999999999996 90.8h-4.3M112.9 155.39999999999998v3M42.699999999999996 84.3h-3M116.7 155.39999999999998v3M42.699999999999996 80.5h-3M119.3 155.39999999999998v3M42.699999999999996 77.8h-3M121.4 155.39999999999998v3M42.699999999999996 75.7h-3M123.1 155.39999999999998v3M42.699999999999996 74.0h-3M124.5 155.39999999999998v3M42.699999999999996 72.5h-3M125.7 155.39999999999998v3M42.699999999999996 71.3h-3M126.8 155.39999999999998v3M42.699999999999996 70.2h-3M127.80000000000001 155.39999999999998v4.3M42.699999999999996 69.2h-4.3" stroke="#000" stroke-width="1.25"/>
<text class="tk" x="36.5" y="170.2" font-size="8.8">10<tspan dy="-5.8" dx="0.2" font-size="7.2">0</tspan></text>
<text class="tk" x="57.8" y="170.2" font-size="8.8">10<tspan dy="-5.8" dx="0.2" font-size="7.2">1</tspan></text>
<text class="tk" x="79.0" y="170.2" font-size="8.8">10<tspan dy="-5.8" dx="0.2" font-size="7.2">2</tspan></text>
<text class="tk" x="100.3" y="170.2" font-size="8.8">10<tspan dy="-5.8" dx="0.2" font-size="7.2">3</tspan></text>
<text class="tk" x="121.6" y="170.2" font-size="8.8">10<tspan dy="-5.8" dx="0.2" font-size="7.2">4</tspan></text>
<text class="tk" transform="translate(35.1,161.8) rotate(-90)" font-size="8.8">10<tspan dy="-5.8" dx="0.2" font-size="7.2">0</tspan></text>
<text class="tk" transform="translate(35.1,140.2) rotate(-90)" font-size="8.8">10<tspan dy="-5.8" dx="0.2" font-size="7.2">1</tspan></text>
<text class="tk" transform="translate(35.1,118.7) rotate(-90)" font-size="8.8">10<tspan dy="-5.8" dx="0.2" font-size="7.2">2</tspan></text>
<text class="tk" transform="translate(35.1,97.2) rotate(-90)" font-size="8.8">10<tspan dy="-5.8" dx="0.2" font-size="7.2">3</tspan></text>
<text class="tk" transform="translate(35.1,75.6) rotate(-90)" font-size="8.8">10<tspan dy="-5.8" dx="0.2" font-size="7.2">4</tspan></text>
<rect x="154.4" y="69.2" width="85.30000000000001" height="86.19999999999997" fill="none" stroke="#000" stroke-width="1.5"/>
<line x1="183.4" y1="69.2" x2="183.4" y2="155.39999999999998" stroke="#000" stroke-width="1.4"/>
<line x1="154.4" y1="126.8" x2="239.70000000000002" y2="126.8" stroke="#000" stroke-width="1.4"/>
<path d="M154.4 155.39999999999998v4.3M154.4 155.4h-4.3M160.8 155.39999999999998v3M154.4 148.9h-3M164.6 155.39999999999998v3M154.4 145.1h-3M167.2 155.39999999999998v3M154.4 142.4h-3M169.3 155.39999999999998v3M154.4 140.3h-3M171.0 155.39999999999998v3M154.4 138.6h-3M172.4 155.39999999999998v3M154.4 137.2h-3M173.7 155.39999999999998v3M154.4 135.9h-3M174.7 155.39999999999998v3M154.4 134.8h-3M175.7 155.39999999999998v4.3M154.4 133.8h-4.3M182.1 155.39999999999998v3M154.4 127.4h-3M185.9 155.39999999999998v3M154.4 123.6h-3M188.6 155.39999999999998v3M154.4 120.9h-3M190.6 155.39999999999998v3M154.4 118.8h-3M192.3 155.39999999999998v3M154.4 117.1h-3M193.7 155.39999999999998v3M154.4 115.6h-3M195.0 155.39999999999998v3M154.4 114.4h-3M196.1 155.39999999999998v3M154.4 113.3h-3M197.1 155.39999999999998v4.3M154.4 112.3h-4.3M203.5 155.39999999999998v3M154.4 105.8h-3M207.2 155.39999999999998v3M154.4 102.0h-3M209.9 155.39999999999998v3M154.4 99.3h-3M212.0 155.39999999999998v3M154.4 97.2h-3M213.6 155.39999999999998v3M154.4 95.5h-3M215.1 155.39999999999998v3M154.4 94.1h-3M216.3 155.39999999999998v3M154.4 92.8h-3M217.4 155.39999999999998v3M154.4 91.7h-3M218.4 155.39999999999998v4.3M154.4 90.8h-4.3M224.8 155.39999999999998v3M154.4 84.3h-3M228.5 155.39999999999998v3M154.4 80.5h-3M231.2 155.39999999999998v3M154.4 77.8h-3M233.3 155.39999999999998v3M154.4 75.7h-3M235.0 155.39999999999998v3M154.4 74.0h-3M236.4 155.39999999999998v3M154.4 72.5h-3M237.6 155.39999999999998v3M154.4 71.3h-3M238.7 155.39999999999998v3M154.4 70.2h-3M239.70000000000002 155.39999999999998v4.3M154.4 69.2h-4.3" stroke="#000" stroke-width="1.25"/>
<text class="tk" x="148.2" y="170.2" font-size="8.8">10<tspan dy="-5.8" dx="0.2" font-size="7.2">0</tspan></text>
<text class="tk" x="169.5" y="170.2" font-size="8.8">10<tspan dy="-5.8" dx="0.2" font-size="7.2">1</tspan></text>
<text class="tk" x="190.9" y="170.2" font-size="8.8">10<tspan dy="-5.8" dx="0.2" font-size="7.2">2</tspan></text>
<text class="tk" x="212.2" y="170.2" font-size="8.8">10<tspan dy="-5.8" dx="0.2" font-size="7.2">3</tspan></text>
<text class="tk" x="233.5" y="170.2" font-size="8.8">10<tspan dy="-5.8" dx="0.2" font-size="7.2">4</tspan></text>
<text class="tk" transform="translate(146.8,161.8) rotate(-90)" font-size="8.8">10<tspan dy="-5.8" dx="0.2" font-size="7.2">0</tspan></text>
<text class="tk" transform="translate(146.8,140.2) rotate(-90)" font-size="8.8">10<tspan dy="-5.8" dx="0.2" font-size="7.2">1</tspan></text>
<text class="tk" transform="translate(146.8,118.7) rotate(-90)" font-size="8.8">10<tspan dy="-5.8" dx="0.2" font-size="7.2">2</tspan></text>
<text class="tk" transform="translate(146.8,97.2) rotate(-90)" font-size="8.8">10<tspan dy="-5.8" dx="0.2" font-size="7.2">3</tspan></text>
<text class="tk" transform="translate(146.8,75.6) rotate(-90)" font-size="8.8">10<tspan dy="-5.8" dx="0.2" font-size="7.2">4</tspan></text>
<rect x="317.79999999999995" y="68.10000000000001" width="83.60000000000002" height="85.89999999999999" fill="none" stroke="#000" stroke-width="1.5"/>
<line x1="345.4" y1="68.10000000000001" x2="345.4" y2="154.0" stroke="#000" stroke-width="1.4"/>
<line x1="317.79999999999995" y1="127.6" x2="401.4" y2="127.6" stroke="#000" stroke-width="1.4"/>
<path d="M317.8 154.0v4.3M317.79999999999995 154.0h-4.3M324.1 154.0v3M317.79999999999995 147.5h-3M327.8 154.0v3M317.79999999999995 143.8h-3M330.4 154.0v3M317.79999999999995 141.1h-3M332.4 154.0v3M317.79999999999995 139.0h-3M334.1 154.0v3M317.79999999999995 137.3h-3M335.5 154.0v3M317.79999999999995 135.9h-3M336.7 154.0v3M317.79999999999995 134.6h-3M337.7 154.0v3M317.79999999999995 133.5h-3M338.7 154.0v4.3M317.79999999999995 132.5h-4.3M345.0 154.0v3M317.79999999999995 126.1h-3M348.7 154.0v3M317.79999999999995 122.3h-3M351.3 154.0v3M317.79999999999995 119.6h-3M353.3 154.0v3M317.79999999999995 117.5h-3M355.0 154.0v3M317.79999999999995 115.8h-3M356.4 154.0v3M317.79999999999995 114.4h-3M357.6 154.0v3M317.79999999999995 113.1h-3M358.6 154.0v3M317.79999999999995 112.0h-3M359.6 154.0v4.3M317.79999999999995 111.1h-4.3M365.9 154.0v3M317.79999999999995 104.6h-3M369.6 154.0v3M317.79999999999995 100.8h-3M372.2 154.0v3M317.79999999999995 98.1h-3M374.2 154.0v3M317.79999999999995 96.0h-3M375.9 154.0v3M317.79999999999995 94.3h-3M377.3 154.0v3M317.79999999999995 92.9h-3M378.5 154.0v3M317.79999999999995 91.7h-3M379.5 154.0v3M317.79999999999995 90.6h-3M380.5 154.0v4.3M317.79999999999995 89.6h-4.3M386.8 154.0v3M317.79999999999995 83.1h-3M390.5 154.0v3M317.79999999999995 79.3h-3M393.1 154.0v3M317.79999999999995 76.6h-3M395.1 154.0v3M317.79999999999995 74.6h-3M396.8 154.0v3M317.79999999999995 72.9h-3M398.2 154.0v3M317.79999999999995 71.4h-3M399.4 154.0v3M317.79999999999995 70.2h-3M400.4 154.0v3M317.79999999999995 69.1h-3M401.4 154.0v4.3M317.79999999999995 68.10000000000001h-4.3" stroke="#000" stroke-width="1.25"/>
<text class="tk" x="311.6" y="168.8" font-size="8.8">10<tspan dy="-5.8" dx="0.2" font-size="7.2">0</tspan></text>
<text class="tk" x="332.5" y="168.8" font-size="8.8">10<tspan dy="-5.8" dx="0.2" font-size="7.2">1</tspan></text>
<text class="tk" x="353.4" y="168.8" font-size="8.8">10<tspan dy="-5.8" dx="0.2" font-size="7.2">2</tspan></text>
<text class="tk" x="374.3" y="168.8" font-size="8.8">10<tspan dy="-5.8" dx="0.2" font-size="7.2">3</tspan></text>
<text class="tk" x="395.2" y="168.8" font-size="8.8">10<tspan dy="-5.8" dx="0.2" font-size="7.2">4</tspan></text>
<text class="tk" transform="translate(310.2,160.4) rotate(-90)" font-size="8.8">10<tspan dy="-5.8" dx="0.2" font-size="7.2">0</tspan></text>
<text class="tk" transform="translate(310.2,138.9) rotate(-90)" font-size="8.8">10<tspan dy="-5.8" dx="0.2" font-size="7.2">1</tspan></text>
<text class="tk" transform="translate(310.2,117.5) rotate(-90)" font-size="8.8">10<tspan dy="-5.8" dx="0.2" font-size="7.2">2</tspan></text>
<text class="tk" transform="translate(310.2,96.0) rotate(-90)" font-size="8.8">10<tspan dy="-5.8" dx="0.2" font-size="7.2">3</tspan></text>
<text class="tk" transform="translate(310.2,74.5) rotate(-90)" font-size="8.8">10<tspan dy="-5.8" dx="0.2" font-size="7.2">4</tspan></text>
<rect x="428.79999999999995" y="68.7" width="84.10000000000002" height="85.89999999999999" fill="none" stroke="#000" stroke-width="1.5"/>
<line x1="457.0" y1="68.7" x2="457.0" y2="154.6" stroke="#000" stroke-width="1.4"/>
<line x1="428.79999999999995" y1="127.8" x2="512.9" y2="127.8" stroke="#000" stroke-width="1.4"/>
<path d="M428.8 154.6v4.3M428.79999999999995 154.6h-4.3M435.1 154.6v3M428.79999999999995 148.1h-3M438.8 154.6v3M428.79999999999995 144.4h-3M441.5 154.6v3M428.79999999999995 141.7h-3M443.5 154.6v3M428.79999999999995 139.6h-3M445.2 154.6v3M428.79999999999995 137.9h-3M446.6 154.6v3M428.79999999999995 136.5h-3M447.8 154.6v3M428.79999999999995 135.2h-3M448.9 154.6v3M428.79999999999995 134.1h-3M449.8 154.6v4.3M428.79999999999995 133.1h-4.3M456.2 154.6v3M428.79999999999995 126.7h-3M459.9 154.6v3M428.79999999999995 122.9h-3M462.5 154.6v3M428.79999999999995 120.2h-3M464.5 154.6v3M428.79999999999995 118.1h-3M466.2 154.6v3M428.79999999999995 116.4h-3M467.6 154.6v3M428.79999999999995 115.0h-3M468.8 154.6v3M428.79999999999995 113.7h-3M469.9 154.6v3M428.79999999999995 112.6h-3M470.8 154.6v4.3M428.79999999999995 111.7h-4.3M477.2 154.6v3M428.79999999999995 105.2h-3M480.9 154.6v3M428.79999999999995 101.4h-3M483.5 154.6v3M428.79999999999995 98.7h-3M485.5 154.6v3M428.79999999999995 96.6h-3M487.2 154.6v3M428.79999999999995 94.9h-3M488.6 154.6v3M428.79999999999995 93.5h-3M489.8 154.6v3M428.79999999999995 92.3h-3M490.9 154.6v3M428.79999999999995 91.2h-3M491.9 154.6v4.3M428.79999999999995 90.2h-4.3M498.2 154.6v3M428.79999999999995 83.7h-3M501.9 154.6v3M428.79999999999995 79.9h-3M504.5 154.6v3M428.79999999999995 77.2h-3M506.6 154.6v3M428.79999999999995 75.2h-3M508.2 154.6v3M428.79999999999995 73.5h-3M509.6 154.6v3M428.79999999999995 72.0h-3M510.9 154.6v3M428.79999999999995 70.8h-3M511.9 154.6v3M428.79999999999995 69.7h-3M512.9 154.6v4.3M428.79999999999995 68.7h-4.3" stroke="#000" stroke-width="1.25"/>
<text class="tk" x="422.6" y="169.4" font-size="8.8">10<tspan dy="-5.8" dx="0.2" font-size="7.2">0</tspan></text>
<text class="tk" x="443.6" y="169.4" font-size="8.8">10<tspan dy="-5.8" dx="0.2" font-size="7.2">1</tspan></text>
<text class="tk" x="464.6" y="169.4" font-size="8.8">10<tspan dy="-5.8" dx="0.2" font-size="7.2">2</tspan></text>
<text class="tk" x="485.7" y="169.4" font-size="8.8">10<tspan dy="-5.8" dx="0.2" font-size="7.2">3</tspan></text>
<text class="tk" x="506.7" y="169.4" font-size="8.8">10<tspan dy="-5.8" dx="0.2" font-size="7.2">4</tspan></text>
<text class="tk" transform="translate(421.2,161.0) rotate(-90)" font-size="8.8">10<tspan dy="-5.8" dx="0.2" font-size="7.2">0</tspan></text>
<text class="tk" transform="translate(421.2,139.5) rotate(-90)" font-size="8.8">10<tspan dy="-5.8" dx="0.2" font-size="7.2">1</tspan></text>
<text class="tk" transform="translate(421.2,118.1) rotate(-90)" font-size="8.8">10<tspan dy="-5.8" dx="0.2" font-size="7.2">2</tspan></text>
<text class="tk" transform="translate(421.2,96.6) rotate(-90)" font-size="8.8">10<tspan dy="-5.8" dx="0.2" font-size="7.2">3</tspan></text>
<text class="tk" transform="translate(421.2,75.1) rotate(-90)" font-size="8.8">10<tspan dy="-5.8" dx="0.2" font-size="7.2">4</tspan></text>
<text x="113.4" y="149.3" font-size="13.6" text-anchor="start" font-weight="normal" fill="#000" class="num">4</text>
<text x="218.9" y="149.5" font-size="13.8" text-anchor="start" font-weight="normal" fill="#000" class="num">35</text>
<text x="325.3" y="82.2" font-size="14.2" text-anchor="start" font-weight="normal" fill="#000" class="num">2</text>
<text x="433.9" y="82.4" font-size="14.2" text-anchor="start" font-weight="normal" fill="#000" class="num">22</text>
<path d="M52.4 246.3V435.3H241.5" fill="none" stroke="#333" stroke-width="1.2"/>
<text x="44.5" y="439.4" font-size="12" text-anchor="end" font-weight="normal" fill="#000" >0</text>
<text x="44.5" y="392.2" font-size="12" text-anchor="end" font-weight="normal" fill="#000" >20</text>
<text x="44.5" y="344.9" font-size="12" text-anchor="end" font-weight="normal" fill="#000" >40</text>
<text x="44.5" y="297.7" font-size="12" text-anchor="end" font-weight="normal" fill="#000" >60</text>
<text x="44.5" y="250.4" font-size="12" text-anchor="end" font-weight="normal" fill="#000" >80</text>
<path d="M48.9 435.3H52.4M48.9 388.1H52.4M48.9 340.8H52.4M48.9 293.6H52.4M48.9 246.3H52.4M115.4 435.3v2.5M179.4 435.3v2.5M241.5 435.3v2.5" stroke="#333" stroke-width="1.1"/>
<text x="83.9" y="448.6" font-size="11" text-anchor="middle" font-weight="normal" fill="#000" class="cat">40:1</text>
<text x="146.4" y="448.6" font-size="11" text-anchor="middle" font-weight="normal" fill="#000" class="cat">20:1</text>
<text x="209.5" y="448.6" font-size="11" text-anchor="middle" font-weight="normal" fill="#000" class="cat">10:1</text>
<text x="147.5" y="469" font-size="13.3" text-anchor="middle" font-weight="normal" fill="#000" class="big">E/T</text>
<polyline points="84.2,262.8 146.8,293.6 210.0,321.9" fill="none" stroke="#444" stroke-width="1"/>
<polyline points="84.2,317.2 146.8,336.1 210.0,364.4" fill="none" stroke="#444" stroke-width="1"/>
<polyline points="84.2,338.4 146.8,366.8 210.0,390.4" fill="none" stroke="#444" stroke-width="1"/>
<polyline points="84.2,376.2 146.8,392.8 210.0,399.9" fill="none" stroke="#444" stroke-width="1"/>
<circle cx="84.2" cy="262.8" r="4" fill="#000"/>
<circle cx="146.8" cy="293.6" r="4" fill="#000"/>
<circle cx="210.0" cy="321.9" r="4" fill="#000"/>
<circle cx="84.2" cy="317.2" r="3.55" fill="#fff" stroke="#111" stroke-width="1"/>
<circle cx="146.8" cy="336.1" r="3.55" fill="#fff" stroke="#111" stroke-width="1"/>
<circle cx="210.0" cy="364.4" r="3.55" fill="#fff" stroke="#111" stroke-width="1"/>
<path d="M84.2 333.4l4.5 8h-9z" fill="#000"/>
<path d="M146.8 361.8l4.5 8h-9z" fill="#000"/>
<path d="M210.0 385.4l4.5 8h-9z" fill="#000"/>
<path d="M84.2 371.9l3.8 6.8h-7.6z" fill="#fff" stroke="#000" stroke-width="0.9"/>
<path d="M146.8 388.5l3.8 6.8h-7.6z" fill="#fff" stroke="#000" stroke-width="0.9"/>
<path d="M210.0 395.6l3.8 6.8h-7.6z" fill="#fff" stroke="#000" stroke-width="0.9"/>
<path d="M330.3 246.5V436H513.5" fill="none" stroke="#333" stroke-width="1.2"/>
<text x="322.40000000000003" y="440.1" font-size="12" text-anchor="end" font-weight="normal" fill="#000" >0</text>
<text x="322.40000000000003" y="402.2" font-size="12" text-anchor="end" font-weight="normal" fill="#000" >20</text>
<text x="322.40000000000003" y="364.3" font-size="12" text-anchor="end" font-weight="normal" fill="#000" >40</text>
<text x="322.40000000000003" y="326.4" font-size="12" text-anchor="end" font-weight="normal" fill="#000" >60</text>
<text x="322.40000000000003" y="288.5" font-size="12" text-anchor="end" font-weight="normal" fill="#000" >80</text>
<text x="322.40000000000003" y="250.6" font-size="12" text-anchor="end" font-weight="normal" fill="#000" >100</text>
<path d="M326.8 436.0H330.3M326.8 398.1H330.3M326.8 360.2H330.3M326.8 322.3H330.3M326.8 284.4H330.3M326.8 246.5H330.3M391.7 436v2.5M452.6 436v2.5M513.5 436v2.5" stroke="#333" stroke-width="1.1"/>
<text x="358.6" y="448.6" font-size="11" text-anchor="middle" font-weight="normal" fill="#000" class="cat">40:1</text>
<text x="422.6" y="448.6" font-size="11" text-anchor="middle" font-weight="normal" fill="#000" class="cat">20:1</text>
<text x="485.8" y="448.6" font-size="11" text-anchor="middle" font-weight="normal" fill="#000" class="cat">10:1</text>
<text x="422.5" y="469" font-size="13.3" text-anchor="middle" font-weight="normal" fill="#000" class="big">E/T</text>
<polyline points="360.6,284.4 422.0,316.6 483.0,335.6" fill="none" stroke="#444" stroke-width="1"/>
<polyline points="360.6,280.6 422.0,322.3 483.0,341.2" fill="none" stroke="#444" stroke-width="1"/>
<polyline points="360.6,346.9 422.0,379.1 483.0,392.4" fill="none" stroke="#444" stroke-width="1"/>
<polyline points="360.6,369.7 422.0,388.6 483.0,407.6" fill="none" stroke="#444" stroke-width="1"/>
<circle cx="360.6" cy="284.4" r="4" fill="#000"/>
<circle cx="422.0" cy="316.6" r="4" fill="#000"/>
<circle cx="483.0" cy="335.6" r="4" fill="#000"/>
<circle cx="360.6" cy="280.6" r="3.55" fill="#fff" stroke="#111" stroke-width="1"/>
<circle cx="422.0" cy="322.3" r="3.55" fill="#fff" stroke="#111" stroke-width="1"/>
<circle cx="483.0" cy="341.2" r="3.55" fill="#fff" stroke="#111" stroke-width="1"/>
<path d="M360.6 342.6l3.8 6.8h-7.6z" fill="#fff" stroke="#000" stroke-width="0.9"/>
<path d="M422.0 374.8l3.8 6.8h-7.6z" fill="#fff" stroke="#000" stroke-width="0.9"/>
<path d="M483.0 388.1l3.8 6.8h-7.6z" fill="#fff" stroke="#000" stroke-width="0.9"/>
<path d="M360.6 364.7l4.5 8h-9z" fill="#000"/>
<path d="M422.0 383.6l4.5 8h-9z" fill="#000"/>
<path d="M483.0 402.6l4.5 8h-9z" fill="#000"/>
<text class="big" transform="translate(21.4,387.5) rotate(-90)" font-size="14">%<tspan font-size="7" dy="-4.5" dx="3.2">51</tspan><tspan dy="4.5" dx="0.9">Cr-release</tspan></text>
<text class="big" transform="translate(297.9,387.5) rotate(-90)" font-size="14">%<tspan font-size="7" dy="-4.5" dx="3.2">51</tspan><tspan dy="4.5" dx="0.9">Cr-release</tspan></text>
</g></svg></body></html>
